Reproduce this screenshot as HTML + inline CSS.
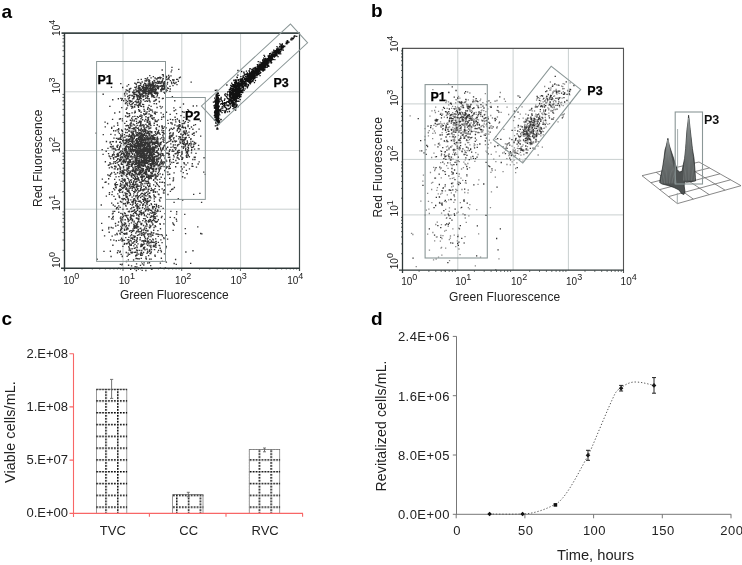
<!DOCTYPE html>
<html><head><meta charset="utf-8"><style>
html,body{margin:0;padding:0;background:#fff;}
svg{display:block;will-change:transform;}
text{font-family:"Liberation Sans",sans-serif;}
</style></head><body>
<svg width="742" height="565" viewBox="0 0 742 565">
<defs>
<pattern id="dg" x="-1.0" y="-1.0" width="11.8" height="11.8" patternUnits="userSpaceOnUse">
<path d="M0 0.7h11.8M0.7 0v11.8" stroke="#000" stroke-width="1.7" stroke-dasharray="1.7 1.25" fill="none"/>
</pattern>
</defs>

<path d="M123.0 33v235M64 209.2h235M181.8 33v235M64 150.5h235M240.6 33v235M64 91.8h235" stroke="#c9cfcf" stroke-width="1" fill="none"/>
<path d="M141 156.2h1.35M145.2 187.1h1.35M137.2 163h1.35M128.5 155.1h1.35M134.6 149.1h1.35M127.1 144.4h1.35M141.8 149h1.35M159.8 144.3h1.35M134.1 162.4h1.35M132.3 146.4h1.35M147.9 145.8h1.35M146 135.2h1.35M142.5 151.3h1.35M128 139.5h1.35M140.6 149.5h1.35M150.7 166.6h1.35M122.2 157.1h1.35M134.6 159.1h1.35M114.4 157h1.35M122.9 152.8h1.35M115.2 150.2h1.35M137.7 147.7h1.35M123.3 162.6h1.35M144.8 136.8h1.35M143.2 170.8h1.35M138.4 152.5h1.35M105.8 141.5h1.35M133.5 145.2h1.35M140.3 142.5h1.35M142.6 154.2h1.35M119.6 142h1.35M134.3 168h1.35M127.3 141.1h1.35M129.7 120.2h1.35M155.9 141.8h1.35M129.7 123.9h1.35M140.5 151.4h1.35M153.4 166.8h1.35M132.8 161.1h1.35M139.4 133.3h1.35M142.5 141.3h1.35M141.9 176.9h1.35M123.8 156.5h1.35M142.1 152.1h1.35M160 166.8h1.35M119.3 186.3h1.35M153 170.2h1.35M142.7 154h1.35M132 157h1.35M169 160.6h1.35M151.7 143.4h1.35M124.2 137.2h1.35M142 152.7h1.35M149.1 138.7h1.35M138.4 151.1h1.35M150.6 153.3h1.35M140.1 184.8h1.35M150.3 140.1h1.35M161.1 150.3h1.35M131.5 149.7h1.35M143.8 158.1h1.35M134.5 166.7h1.35M142.8 145.1h1.35M124.4 140.5h1.35M132.9 129h1.35M138.3 139h1.35M153.6 159.5h1.35M157 152.6h1.35M122.5 137.8h1.35M129.9 146.8h1.35M150.1 152.4h1.35M113.1 159.1h1.35M134.5 143.7h1.35M139.6 148.5h1.35M158.6 126.5h1.35M150.7 135.9h1.35M136.4 174.6h1.35M135.8 121.4h1.35M137.5 147.3h1.35M162.3 155.1h1.35M135 146.8h1.35M136.7 140.7h1.35M145.9 151.1h1.35M139.3 151.9h1.35M138.2 150.9h1.35M125.4 125.7h1.35M140.8 149.9h1.35M134.8 140h1.35M157.3 144.3h1.35M150.1 155.2h1.35M140.7 161h1.35M150.4 164.6h1.35M136.2 145.1h1.35M155.7 164.9h1.35M140.9 168.4h1.35M149.2 167.9h1.35M122.9 171.5h1.35M145.9 150h1.35M117.4 149.6h1.35M112.5 163.6h1.35M136.7 132.9h1.35M128.4 154.9h1.35M143.3 144.6h1.35M172.4 146.8h1.35M129.4 127.6h1.35M132.3 139.5h1.35M143.9 151.7h1.35M147.9 164.4h1.35M138.5 165.9h1.35M138.1 150.9h1.35M150.8 149.3h1.35M148.3 140.4h1.35M126.5 157.6h1.35M139.9 148.5h1.35M141.5 160.5h1.35M126.2 176.5h1.35M144.6 151.5h1.35M129 131h1.35M154.6 139.9h1.35M143.7 131.6h1.35M142.3 135.2h1.35M132.7 170.3h1.35M139.3 155.2h1.35M113 130.7h1.35M125.2 161.2h1.35M146.1 169.6h1.35M111.2 147h1.35M152.9 142.5h1.35M116.6 147.3h1.35M151.6 156h1.35M129.2 161h1.35M151.9 168.6h1.35M142.8 169h1.35M119.5 168.6h1.35M158.5 171.1h1.35M161.2 161.3h1.35M140.1 130.6h1.35M137.2 150.2h1.35M138.8 156.4h1.35M127.3 146.6h1.35M156.4 164.8h1.35M133.4 147h1.35M140.3 139h1.35M129.9 172.2h1.35M132.2 161.3h1.35M123.1 155.1h1.35M158.6 165h1.35M138.8 166.9h1.35M154.5 156.8h1.35M141.2 117.6h1.35M131.3 142.5h1.35M136.4 145.6h1.35M133.2 138.2h1.35M141.1 154.8h1.35M135.7 168.7h1.35M136.8 145.2h1.35M121.7 136.1h1.35M129.7 180.4h1.35M164.2 145.7h1.35M131.6 134.7h1.35M126.2 155.3h1.35M145.7 158h1.35M160.7 142.1h1.35M120.6 163.1h1.35M138.1 145.2h1.35M132.2 139.1h1.35M116.3 154.5h1.35M151.3 162.8h1.35M140.7 143.1h1.35M142 156.6h1.35M130.5 150.7h1.35M147.4 191.5h1.35M133.4 142.1h1.35M139 171.4h1.35M125.5 151.3h1.35M124 150.2h1.35M159.7 162.1h1.35M133.9 164.5h1.35M145.1 169.7h1.35M140.5 156.6h1.35M134.8 143.6h1.35M133.9 144.5h1.35M149.8 159.1h1.35M136.8 160.1h1.35M138.9 171.6h1.35M141.3 157.9h1.35M157.5 166.8h1.35M150.5 173.2h1.35M146.4 154.3h1.35M133.1 131.2h1.35M121.7 135.5h1.35M154.3 131.9h1.35M154.5 174.3h1.35M139 140.1h1.35M148.6 169.2h1.35M151.9 160.2h1.35M152.6 176h1.35M153.9 166h1.35M134.6 150.6h1.35M162.2 149.2h1.35M123.5 153.2h1.35M153.1 154.5h1.35M147.9 144.6h1.35M153.2 151.5h1.35M167.3 174.5h1.35M161.8 128.2h1.35M125 155.6h1.35M117.4 139.3h1.35M152.4 154.6h1.35M126.8 163.8h1.35M140.8 151.2h1.35M152.8 162.8h1.35M118 129.7h1.35M111.5 167.5h1.35M144.6 143.6h1.35M141.6 160.7h1.35M137.6 154.6h1.35M141.5 115.8h1.35M129 141.4h1.35M119.8 155.1h1.35M138.7 173.8h1.35M127.4 156h1.35M118 155.6h1.35M148.1 132.2h1.35M140.1 172h1.35M146.7 177.3h1.35M127.1 152.4h1.35M131.8 148.9h1.35M127 129.3h1.35M128.6 164.4h1.35M143.7 189.8h1.35M130 162h1.35M146 169.7h1.35M145.8 159.6h1.35M169.4 138.2h1.35M121.5 170.7h1.35M153.4 134.7h1.35M139.7 149.1h1.35M140.8 155.9h1.35M120.7 164.4h1.35M134.6 157.8h1.35M151.4 157.4h1.35M139.8 141.3h1.35M142.1 133.9h1.35M136.9 152.9h1.35M157.2 142.1h1.35M140.7 133.7h1.35M110.2 134.3h1.35M131.3 145.1h1.35M113.4 126.1h1.35M95.5 133.1h1.35M133.6 129.1h1.35M159.7 154.6h1.35M141.7 157.7h1.35M124.6 180.1h1.35M127.8 131h1.35M156.8 142.5h1.35M143.2 164.8h1.35M141.7 149h1.35M140.3 147.4h1.35M141.5 175.9h1.35M152.3 147.3h1.35M148.7 135.8h1.35M144 133.6h1.35M126.4 156.7h1.35M148.2 156.3h1.35M131.4 132.8h1.35M156.3 138.2h1.35M123.2 159.5h1.35M139.1 160.1h1.35M140.9 143h1.35M122.5 160.7h1.35M165.1 160h1.35M161.4 127h1.35M134.5 147.6h1.35M151.8 157.8h1.35M146.3 144h1.35M104.4 122.1h1.35M144.5 148h1.35M140.1 162.5h1.35M142.2 174.1h1.35M125.9 121.3h1.35M137.2 188.6h1.35M138.5 136.2h1.35M157.6 165.4h1.35M145.7 169.3h1.35M140.9 165.8h1.35M162.4 154.1h1.35M133.2 135.7h1.35M135.5 160.8h1.35M115.6 142h1.35M163 116.7h1.35M154.5 191.6h1.35M153.8 161.9h1.35M150.4 177.5h1.35M142.5 139.2h1.35M144 172.5h1.35M137.5 174.3h1.35M138.1 173.8h1.35M141.8 151.7h1.35M162.2 135.2h1.35M148.8 149.5h1.35M140.2 121.2h1.35M132.9 128.2h1.35M132.1 153.3h1.35M163.4 138.1h1.35M148.1 149.7h1.35M141.9 150.5h1.35M136.2 179h1.35M125.5 170.2h1.35M140.1 151.4h1.35M153.2 168.9h1.35M135.5 141.1h1.35M137.8 147.3h1.35M137.9 164.7h1.35M142.5 134.6h1.35M118.7 148.1h1.35M137.7 133.5h1.35M129 153.6h1.35M153.4 174.9h1.35M130.2 141.5h1.35M149.1 155.2h1.35M162.3 139.4h1.35M136.6 135.9h1.35M132.6 134.7h1.35M143.7 172.4h1.35M141 185.1h1.35M127.1 158.8h1.35M147.5 142h1.35M169.2 161.9h1.35M137.4 147.3h1.35M138.2 163.2h1.35M126.4 156.1h1.35M145.5 155.9h1.35M123.5 160.5h1.35M125.5 143.9h1.35M158.9 146.3h1.35M128.3 127.9h1.35M156.1 145.8h1.35M162.3 132.1h1.35M144.6 150h1.35M148.7 138.6h1.35M168.3 153.4h1.35M138.2 158.3h1.35M132.7 132.1h1.35M122.1 140.6h1.35M141.6 138.8h1.35M161.7 162.5h1.35M154.4 175.9h1.35M127.8 163.9h1.35M129 147.1h1.35M133.9 172.5h1.35M145.1 130.8h1.35M138.1 173h1.35M144 142.8h1.35M145.2 113.1h1.35M136.8 189.1h1.35M140.4 174.1h1.35M143.9 137.6h1.35M139.8 154.4h1.35M148 149h1.35M167.2 153.4h1.35M149.3 131.2h1.35M141.8 142.5h1.35M117.4 158.6h1.35M146.4 155.1h1.35M113.7 168.8h1.35M121.3 153.1h1.35M153 184.9h1.35M150.9 142h1.35M138.9 155.6h1.35M117.1 125.2h1.35M135.8 134.5h1.35M131.5 170.6h1.35M149.9 138.8h1.35M172.6 159.4h1.35M144 151.1h1.35M130.1 137.4h1.35M124.6 147.1h1.35M140.2 144.8h1.35M138.5 145.2h1.35M124.9 162.6h1.35M142.6 161.1h1.35M124.9 143.9h1.35M156.6 139.3h1.35M155.9 156h1.35M156.2 150.6h1.35M134.4 166.4h1.35M148.2 189.2h1.35M139.2 163.8h1.35M135.6 151.5h1.35M136.3 149.6h1.35M122.8 140h1.35M120.8 139.3h1.35M152.1 138h1.35M138.3 146.5h1.35M144 146h1.35M155 162.4h1.35M116.7 146.4h1.35M130 149.2h1.35M143.5 134.9h1.35M146.5 175h1.35M135.7 159.1h1.35M155.4 177h1.35M143.9 163.2h1.35M124 172.9h1.35M128 148.5h1.35M152.3 162h1.35M147.5 189.9h1.35M114.4 134.9h1.35M159.9 168.5h1.35M149.4 175.8h1.35M159.8 157.9h1.35M135.6 162.7h1.35M136.9 169.9h1.35M125.2 142.6h1.35M176.5 157.8h1.35M138.5 139.6h1.35M163.2 142.3h1.35M131.9 143.2h1.35M143.3 150h1.35M117.6 154.1h1.35M135.6 158.5h1.35M154.8 131.7h1.35M123.5 180.4h1.35M156 168.6h1.35M145.7 162.4h1.35M126.4 146.9h1.35M134 150.7h1.35M134.6 159.9h1.35M140.3 157.9h1.35M133.5 127.9h1.35M129.4 162.6h1.35M136.7 193.8h1.35M126.6 125.5h1.35M122.9 166.3h1.35M140.3 157.3h1.35M153.4 150.4h1.35M119.6 171.7h1.35M141 135h1.35M131.9 154.3h1.35M127.3 173h1.35M152.9 149.2h1.35M133.7 146h1.35M162 153.7h1.35M130.1 145.6h1.35M146.4 174.2h1.35M137.8 139h1.35M130.4 164.6h1.35M149.2 134h1.35M138.8 161.6h1.35M149.4 150.5h1.35M140.3 114.8h1.35M125.8 151.9h1.35M139.6 136.6h1.35M141.7 145.6h1.35M154.4 174.1h1.35M128.3 135.9h1.35M140.4 136.7h1.35M116.9 172.7h1.35M150.1 153.7h1.35M125.9 174.2h1.35M115.7 156.7h1.35M140.2 139.3h1.35M156.5 151h1.35M119.7 169.7h1.35M125.8 165.5h1.35M130.6 152h1.35M125.2 152.7h1.35M146.3 150.4h1.35M129.7 143.7h1.35M130.9 179.8h1.35M149.2 152.1h1.35M130.4 135.7h1.35M147.1 145.1h1.35M127.4 162.5h1.35M124 161.2h1.35M115.3 150h1.35M167.1 142.4h1.35M136.5 152.3h1.35M144.4 127.9h1.35M140.6 133.3h1.35M143.2 163.5h1.35M141.7 145.1h1.35M167.7 157.4h1.35M126.5 169.5h1.35M119.2 161.4h1.35M126.8 152.3h1.35M122.3 182.6h1.35M151.5 161.6h1.35M152.5 146.9h1.35M127.5 162.5h1.35M121.5 157.9h1.35M136 139.7h1.35M160.5 153.1h1.35M101.5 149.6h1.35M148.4 123.7h1.35M125.9 149.5h1.35M155.6 147.9h1.35M125.9 145.7h1.35M137 128.3h1.35M119.9 146.9h1.35M127.3 151.4h1.35M160.4 153.5h1.35M152.5 135.7h1.35M135.4 161.1h1.35M128.8 134.5h1.35M114.5 148.8h1.35M135.5 170.8h1.35M140.6 142h1.35M139.8 144.6h1.35M139.7 167.4h1.35M125.3 146.5h1.35M140.1 147.7h1.35M140.5 155.2h1.35M159.1 167.1h1.35M167.1 120.3h1.35M139.1 140.1h1.35M130.3 137.5h1.35M140.1 136.4h1.35M132.5 139.7h1.35M130.6 139.9h1.35M140.2 156.3h1.35M126.4 139.2h1.35M149.5 153.8h1.35M139.5 157.8h1.35M144.5 141.5h1.35M138.4 153.9h1.35M130.8 175.5h1.35M127.7 156.6h1.35M137.7 142.9h1.35M133.3 151.1h1.35M144.3 138.9h1.35M140.9 155.9h1.35M121.9 164.4h1.35M141.9 140.3h1.35M122.2 149h1.35M132.4 167.9h1.35M136.9 144.9h1.35M111.9 154.7h1.35M142.3 137.4h1.35M143.1 140.3h1.35M138.8 144.7h1.35M135.1 182.5h1.35M135.8 146.3h1.35M127.3 144.6h1.35M137.2 144.1h1.35M133.3 149.7h1.35M142.3 161.2h1.35M124.1 154.7h1.35M144.3 180.8h1.35M143 155h1.35M139 172.3h1.35M134.9 155.9h1.35M148.7 160.5h1.35M117.7 131.8h1.35M147.4 150.2h1.35M144.4 151h1.35M145 148.6h1.35M146.4 121.9h1.35M131.8 164.3h1.35M137.4 146.6h1.35M149.9 145.9h1.35M147 148.4h1.35M143.9 148.8h1.35M119.8 157.7h1.35M148.5 134.2h1.35M157.4 139h1.35M155.1 156.1h1.35M144.3 154h1.35M119.2 146.7h1.35M154.2 144h1.35M138.9 140.3h1.35M105.5 151.2h1.35M146.3 168.5h1.35M120.1 137.2h1.35M122.8 173.3h1.35M132.1 163.8h1.35M158.8 145.7h1.35M135.8 163h1.35M144.8 131.5h1.35M165.5 127.8h1.35M163.3 133.9h1.35M139.6 146.3h1.35M137.6 147.4h1.35M123.3 144.8h1.35M131.3 153.4h1.35M147 122.1h1.35M146.5 158.9h1.35M142.5 132.1h1.35M154.9 142.7h1.35M130.2 146.2h1.35M140.2 135.8h1.35M151.2 132.8h1.35M149.2 137.9h1.35M156 151.8h1.35M146.6 160.3h1.35M136.7 159.9h1.35M146.1 138.1h1.35M127 140.9h1.35M118 139.1h1.35M149.1 158.3h1.35M140.2 123.5h1.35M145.3 169.3h1.35M117.2 145.2h1.35M135.9 141h1.35M132.6 156.8h1.35M128.9 166.5h1.35M109.4 156.8h1.35M136.3 166.7h1.35M153.6 153.9h1.35M146.3 169.2h1.35M132.6 169.4h1.35M140.8 150.6h1.35M151.6 172.1h1.35M102.4 154.3h1.35M139.3 153.2h1.35M148.6 139.1h1.35M150.5 148h1.35M164.8 162.9h1.35M156.9 133.6h1.35M145.4 161.1h1.35M145.2 156.9h1.35M152 155.9h1.35M133.4 121.1h1.35M140.4 150.6h1.35M153.7 161.1h1.35M168.4 141.3h1.35M138.8 153.3h1.35M140.3 118.7h1.35M143.8 161.4h1.35M159.8 142.7h1.35M140.6 164.2h1.35M161.6 126.2h1.35M127.5 161.7h1.35M138.4 148.7h1.35M138.2 163.3h1.35M152 139h1.35M155.6 143.3h1.35M119.9 183.4h1.35M128.2 140.4h1.35M145.7 142.1h1.35M131.8 148.1h1.35M119.7 137.7h1.35M155.5 168.7h1.35M147.9 176.2h1.35M147.9 142.1h1.35M134.3 127.8h1.35M155.4 168.4h1.35M137.6 167.5h1.35M156.4 163.5h1.35M128.2 168.2h1.35M129 139.9h1.35M143.9 149.6h1.35M131.2 132.6h1.35M150.5 132.1h1.35M144.6 165.7h1.35M128.1 142.6h1.35M142 183.9h1.35M136.1 153h1.35M153.8 143h1.35M132.1 163.2h1.35M134.9 177.2h1.35M158 158.8h1.35M172.3 135h1.35M169 157.2h1.35M141.9 171.3h1.35M144.1 145.1h1.35M162.5 141.2h1.35M139.3 166.2h1.35M127.3 154h1.35M142.6 136.6h1.35M147.3 146.7h1.35M129.4 141.4h1.35M118 156.1h1.35M120.9 153.5h1.35M150.3 168.1h1.35M130.4 161.9h1.35M139 130.1h1.35M144 157.7h1.35M149.7 164.6h1.35M136.3 158.4h1.35M148 166.4h1.35M128.5 144.3h1.35M135.9 138.7h1.35M126.7 165h1.35M156.8 137.1h1.35M140.6 121.8h1.35M130.6 166.4h1.35M136.1 141.9h1.35M137.9 147.7h1.35M150.8 132.4h1.35M118.7 133.4h1.35M126.5 135.8h1.35M135.7 147h1.35M176.5 157.2h1.35M154.4 119.8h1.35M139.4 162.5h1.35M151 135.5h1.35M169.8 137.1h1.35M137.7 161.5h1.35M135.9 151h1.35M158 130.5h1.35M147.9 177.8h1.35M150.4 140h1.35M133.9 155.5h1.35M167.9 154.8h1.35M164.9 171.8h1.35M148.9 145.6h1.35M150.6 166.1h1.35M112.6 141.6h1.35M149.9 167.7h1.35M138.3 141.3h1.35M147.1 146.9h1.35M150.6 178.5h1.35M136.2 156.4h1.35M117.3 153.5h1.35M146.2 183.4h1.35M130.6 157.1h1.35M136.4 140.6h1.35M132.5 162.3h1.35M136.2 135.5h1.35M108.7 167.8h1.35M158 168.9h1.35M144.5 144h1.35M156.6 143.2h1.35M168.7 154.5h1.35M141.3 152.2h1.35M115.8 138.3h1.35M128.5 160h1.35M124.1 123.4h1.35M134 145.9h1.35M142.1 146.3h1.35M113 148.2h1.35M145.8 156.3h1.35M119.9 134.8h1.35M145.2 160.2h1.35M139.5 149.5h1.35M136.6 142.9h1.35M140 132.9h1.35M133.4 135.4h1.35M132.4 157h1.35M117.4 138.5h1.35M140.6 152.9h1.35M166.8 166.9h1.35M168.7 166.5h1.35M159.5 173.8h1.35M150.9 147.9h1.35M131.5 136.8h1.35M161.2 166.3h1.35M140.2 156.3h1.35M140 167.7h1.35M136.9 152.2h1.35M142.3 168.7h1.35M134.9 163.8h1.35M139.8 162h1.35M125.8 159h1.35M135.8 157.6h1.35M172.9 155.3h1.35M140 155.2h1.35M137.7 165.9h1.35M148.5 144.8h1.35M150.9 176.3h1.35M125.4 150.5h1.35M138.1 165.8h1.35M153.9 150.7h1.35M144.8 148.5h1.35M142.7 180.5h1.35M162.8 147.7h1.35M131.5 134.1h1.35M142.2 142h1.35M133.7 147.6h1.35M161.9 182.2h1.35M113.7 154.9h1.35M131.6 165.1h1.35M133.6 138h1.35M150.3 156.9h1.35M149.5 161.4h1.35M160.5 177.2h1.35M119 142.3h1.35M151.5 160.4h1.35M136.9 156.2h1.35M131.7 137.7h1.35M148.6 151.7h1.35M128.1 148.3h1.35M111.9 119.4h1.35M135.8 160.4h1.35M120 159.6h1.35M131.9 145.9h1.35M146.2 133.3h1.35M145.4 172.7h1.35M163.2 155.7h1.35M138.2 166.2h1.35M119.5 171.7h1.35M130.4 144.7h1.35M128.1 163.4h1.35M124 148.6h1.35M147.1 151.1h1.35M132 150.8h1.35M113.3 152h1.35M150.8 167.6h1.35M139.4 153.7h1.35M146 149.8h1.35M142.5 148.1h1.35M149.8 156.8h1.35M141.5 139.5h1.35M158.3 145h1.35M146.9 151.3h1.35M146.5 144.1h1.35M146.7 150.3h1.35M120.6 143.4h1.35M138.7 180.1h1.35M137.4 170.6h1.35M143.9 158.3h1.35M122 151.2h1.35M163.9 182.7h1.35M142.5 156.5h1.35M124 150.8h1.35M117.1 156.2h1.35M137.1 156.3h1.35M139.7 171.7h1.35M130.9 151.7h1.35M142.3 181.4h1.35M132 139.7h1.35M148.7 161.7h1.35M130.9 138h1.35M140.5 177.4h1.35M154.7 147.4h1.35M177 151.2h1.35M126.9 164.9h1.35M134.5 169.6h1.35M129.2 136.4h1.35M152 147.2h1.35M124.9 132.5h1.35M134.2 153.9h1.35M140.6 150.6h1.35M127.3 147.1h1.35M127.6 142.4h1.35M134.3 146.6h1.35M111.6 141.6h1.35M120.8 159.4h1.35M135.2 173.2h1.35M143.1 125h1.35M138.4 150.4h1.35M116.2 146.1h1.35M134.5 158.9h1.35M152.2 138.7h1.35M148.8 149.9h1.35M139.9 137.4h1.35M128.6 161.8h1.35M149.8 153.4h1.35M132.9 149.7h1.35M124.6 157.2h1.35M129.8 148.5h1.35M161.3 130.2h1.35M144.1 160.3h1.35M157.2 156h1.35M134.3 149.8h1.35M154.1 165.8h1.35M132.6 169.1h1.35M138.8 136.7h1.35M175.8 141.1h1.35M151.7 173.7h1.35M134 171.9h1.35M139.8 141.7h1.35M145.6 135.5h1.35M157.9 143.1h1.35M134.2 145h1.35M116.6 129.8h1.35M137.1 152.4h1.35M141.2 134.1h1.35M142.5 135.1h1.35M159.4 164.8h1.35M145.4 142.4h1.35M152.4 151h1.35M125.6 160.8h1.35M153.2 163.4h1.35M170.3 147.3h1.35M151.8 152.6h1.35M144.5 140.4h1.35M143.2 176.5h1.35M166 161.1h1.35M128 136.6h1.35M139.4 152.1h1.35M147.4 162h1.35M151.4 158.7h1.35M134.9 177.6h1.35M145.3 171.2h1.35M137.1 144.4h1.35M142.7 150.8h1.35M139.2 134.1h1.35M125 155.5h1.35M140.7 154.1h1.35M153.3 189.8h1.35M127.5 153.4h1.35M137.6 122.7h1.35M150.3 142.6h1.35M126 153.6h1.35M143.6 134.4h1.35M126.2 139.9h1.35M156.9 146.9h1.35M173.4 156.8h1.35M169.3 149.7h1.35M137.9 139.6h1.35M151.4 163h1.35M142.7 144.4h1.35M142.4 145h1.35M162.7 132.7h1.35M122.5 141h1.35M155.8 161.1h1.35M140.3 129.4h1.35M160.7 151h1.35M143.6 162h1.35M131.6 146.7h1.35M144.9 155.4h1.35M151.3 136.4h1.35M141.5 170.3h1.35M147.8 167.4h1.35M133.7 155.3h1.35M111.1 127.4h1.35M153.6 137.4h1.35M150.8 165.7h1.35M143.1 176h1.35M142 156.2h1.35M155.5 169.5h1.35M134.6 143.5h1.35M131.1 149.3h1.35M138.4 152h1.35M157.6 157.9h1.35M121.6 130.6h1.35M157.7 165.2h1.35M132.1 170.5h1.35M125.6 135.9h1.35M158.6 133h1.35M139.6 156.9h1.35M122.8 142.8h1.35M136 118.8h1.35M154 163.3h1.35M157.7 154.2h1.35M135 145.3h1.35M146.7 181.6h1.35M151 153.9h1.35M132 141.5h1.35M146 153.4h1.35M140.6 137.4h1.35M133.5 141.3h1.35M134.1 157.4h1.35M141.9 144.2h1.35M141.4 145.7h1.35M133.1 175.4h1.35M135 164h1.35M156.6 163.2h1.35M144 159.4h1.35M153.4 158.8h1.35M157.8 172.4h1.35M149.2 151.7h1.35M172.8 178h1.35M129.4 138.7h1.35M152.3 148.4h1.35M136.5 132.7h1.35M167 147.2h1.35M164.8 159.3h1.35M113.6 172.3h1.35M127.4 142.7h1.35M150.3 152.1h1.35M152.1 147h1.35M151.3 141.7h1.35M140 135.3h1.35M147.4 152.8h1.35M150.1 127.8h1.35M139.9 153.5h1.35M155.4 152.3h1.35M109.4 142.8h1.35M149.9 137.8h1.35M126.5 132.6h1.35M154.4 178.2h1.35M137.8 133.2h1.35M128.6 173.8h1.35M146.2 160.4h1.35M128.2 146.9h1.35M128.2 135.8h1.35M119.1 166.6h1.35M140.6 176.2h1.35M148 138.9h1.35M155.3 147.8h1.35M139 166.7h1.35M155.7 156.7h1.35M141.3 180h1.35M139.7 144h1.35M149 159.6h1.35M155.8 134.5h1.35M136.2 181.3h1.35M137.6 141.8h1.35M138.7 121.1h1.35M142.2 150.2h1.35M128.4 150h1.35M155.4 178.8h1.35M135.4 147.3h1.35M147.5 151.8h1.35M129.4 160.3h1.35M146 174.2h1.35M146.5 151.1h1.35M135.1 166.6h1.35M169.3 159.3h1.35M146.2 147.9h1.35M165.9 153.1h1.35M154.4 152.4h1.35M131.7 139.2h1.35M135.6 169h1.35M147.1 132.6h1.35M141.9 168.4h1.35M141.7 165.4h1.35M137 150.7h1.35M115.7 141.3h1.35M137.8 148.8h1.35M109.9 158.6h1.35M146.2 162.4h1.35M130.8 156h1.35M131 165.9h1.35M137.9 144.2h1.35M144.8 155.3h1.35M121 130h1.35M116.5 162.7h1.35M126.1 154.1h1.35M112.4 146.2h1.35M127.5 168.3h1.35M163.3 161.7h1.35M126.2 112.6h1.35M150.1 152.6h1.35M121.8 131.6h1.35M145.2 166.9h1.35M136.5 186.8h1.35M140.2 144.7h1.35M149 153h1.35M165.6 148.5h1.35M143.7 156.9h1.35M142.7 161h1.35M127.4 170h1.35M149.2 138.2h1.35M137.6 174h1.35M152.6 139h1.35M140.4 155.9h1.35M165.4 168.2h1.35M113.2 162h1.35M136.8 138.9h1.35M153.3 142.2h1.35M136.1 145.5h1.35M129.9 151.3h1.35M137.3 168.1h1.35M121.7 133.9h1.35M142.7 158.5h1.35M175.2 160.5h1.35M157 159.8h1.35M125.5 158.5h1.35M128.8 173.3h1.35M135.3 158.8h1.35M155.1 164h1.35M129.5 159.9h1.35M131.3 177.1h1.35M153.4 125.4h1.35M153.1 169.9h1.35M135.8 148.3h1.35M125.4 148.1h1.35M119.3 138.4h1.35M131.2 125.8h1.35M109.8 146.7h1.35M151.5 142.4h1.35M132.2 158.9h1.35M147.7 131.4h1.35M167.2 172h1.35M157.4 155.8h1.35M124.9 148.5h1.35M153.2 142.1h1.35M157.2 141h1.35M130.6 136.2h1.35M127.7 144.4h1.35M139.5 152.1h1.35M118.6 149.5h1.35M161.6 132.2h1.35M107.3 148.3h1.35M125.5 139.5h1.35M137.2 154.2h1.35M137.8 178.1h1.35M143.3 160.8h1.35M144.8 147.6h1.35M138 129.3h1.35M156.9 132.2h1.35M111 128.4h1.35M141 162.2h1.35M131 141.3h1.35M142.9 152.9h1.35M144.1 143.3h1.35M128.2 153.3h1.35M132 171.6h1.35M152.1 142.4h1.35M145.9 147.2h1.35M131.5 140.7h1.35M169.6 164.2h1.35M173.3 137.6h1.35M120.5 136.1h1.35M136.3 154.7h1.35M136.1 154h1.35M149.3 143.7h1.35M164 170.5h1.35M139 159.9h1.35M152.7 158.1h1.35M147.8 156.5h1.35M138.3 164.6h1.35M144.1 158.1h1.35M144.4 160.9h1.35M141.2 138h1.35M159.5 158.1h1.35M132.7 178.2h1.35M148.7 145.8h1.35M148.3 150.5h1.35M141.9 162.7h1.35M147 163.5h1.35M152.1 159.5h1.35M147.1 132.6h1.35M148.9 158h1.35M150.9 137.8h1.35M131.8 142.1h1.35M156.3 158.6h1.35M161.9 148.5h1.35M152.9 161.7h1.35M153.1 189.8h1.35M136.1 161.3h1.35M145.2 160.7h1.35M140.3 141.3h1.35M141.9 144.3h1.35M152.8 139.2h1.35M140.4 145.6h1.35M145.1 138.9h1.35M132.6 144.1h1.35M144.9 149.5h1.35M146.6 140h1.35M141.1 135h1.35M141 135.7h1.35M159.2 157.4h1.35M137.5 152.7h1.35M138.6 164.3h1.35M140.3 164.5h1.35M154.4 147.9h1.35M160.7 160h1.35M148.3 134.7h1.35M141 179.4h1.35M143 166.3h1.35M153.5 149.4h1.35M139.6 138h1.35M156.2 156.6h1.35M155.9 129.6h1.35M146.5 142.6h1.35M150.5 161h1.35M151.2 152.9h1.35M156.9 146.1h1.35M138.6 163.4h1.35M154.3 139.5h1.35M143.4 155.4h1.35M140.6 146h1.35M146.7 141.8h1.35M144.5 157.6h1.35M139.1 140.1h1.35M134.8 174.8h1.35M139.4 145h1.35M156.2 175.9h1.35M159.7 138.9h1.35M150.6 159.3h1.35M154.3 137.6h1.35M142.4 135.9h1.35M145.5 153.9h1.35M148 160.1h1.35M138.4 136.7h1.35M139.1 166.2h1.35M146.7 142.4h1.35M143.8 153.6h1.35M138.6 156.6h1.35M148.7 159.1h1.35M144.2 130.4h1.35M153.1 171.4h1.35M146 158.7h1.35M143.9 146.9h1.35M146.9 139.7h1.35M144.8 131.7h1.35M141.3 135.7h1.35M143.2 158.5h1.35M151.2 147.9h1.35M150.5 138.4h1.35M155 145.7h1.35M134.1 170.8h1.35M143.2 148h1.35M143.1 145h1.35M147.2 168.2h1.35M142.8 157.5h1.35M142.4 152.5h1.35M151.5 144.7h1.35M147.2 133.4h1.35M137.8 138h1.35M155.3 146.2h1.35M153 149.4h1.35M142 156.3h1.35M151.8 158.6h1.35M140.9 154.7h1.35M153.9 154.6h1.35M144.5 139.9h1.35M140.4 126.1h1.35M143.4 145.7h1.35M140.6 140.6h1.35M147.3 144.2h1.35M147.2 148.7h1.35M146.3 137.1h1.35M142.1 138.7h1.35M120.4 150.8h1.35M146.6 153.4h1.35M132.7 144.1h1.35M147.7 158h1.35M153.9 149.4h1.35M147.9 139.8h1.35M143.3 152.5h1.35M144.7 174.6h1.35M145.1 143.9h1.35M142.2 166h1.35M141.9 168.5h1.35M139.5 170h1.35M154.3 142.1h1.35M145.9 176.2h1.35M152.7 153.4h1.35M144.2 149h1.35M146.5 149.2h1.35M144.8 159.2h1.35M149.2 152.6h1.35M151.8 149.9h1.35M147.7 167.4h1.35M141.3 143.3h1.35M140.5 139.5h1.35M157.6 161.5h1.35M144 160.4h1.35M144 165.1h1.35M156.3 139.1h1.35M153.6 165h1.35M149.7 157.8h1.35M143.2 173.2h1.35M162.5 137h1.35M148.8 154.6h1.35M149.8 148.7h1.35M144.8 132.9h1.35M136.1 143.4h1.35M136.7 165.5h1.35M148.8 146.4h1.35M148.7 143.3h1.35M144.3 162.4h1.35M137.8 163.9h1.35M135.9 163.8h1.35M143.7 142.5h1.35M135.8 151.3h1.35M152.3 164.4h1.35M154.1 144.1h1.35M165.8 143h1.35M152.1 161.9h1.35M141.9 170.7h1.35M139.9 138.2h1.35M121.8 120.8h1.35M141.8 134.6h1.35M144.8 139.9h1.35M152.8 150.3h1.35M150.3 159.4h1.35M150.1 150.2h1.35M147.5 143.6h1.35M150.6 153.8h1.35M156.1 140.5h1.35M138.5 151.4h1.35M142.8 144.3h1.35M136.3 184.2h1.35M157.3 161.8h1.35M155.1 142h1.35M151.3 140h1.35M137.6 146.7h1.35M147.2 132.3h1.35M144.4 143.2h1.35M146.6 143.1h1.35M144.7 162.6h1.35M149.6 146.9h1.35M143.2 142.5h1.35M152 135.9h1.35M147.7 137.9h1.35M143.9 151.2h1.35M145.2 149.4h1.35M142.9 165.6h1.35M151.7 144.5h1.35M144.1 164.7h1.35M148.1 155.1h1.35M143.3 151.9h1.35M135.6 127.9h1.35M152.3 136.5h1.35M138.6 160.9h1.35M150.8 168.8h1.35M148.9 154.5h1.35M134.4 161.2h1.35M139.4 147.1h1.35M142.4 147.5h1.35M140.3 144h1.35M137.7 163.7h1.35M151.2 156.1h1.35M144.3 149.2h1.35M148.7 148.1h1.35M143 158.7h1.35M148.1 155.9h1.35M140.7 142h1.35M145.8 172.6h1.35M150.1 155.1h1.35M146.3 152.1h1.35M142.8 169.7h1.35M138.4 164.3h1.35M147.2 150.9h1.35M148.4 158.4h1.35M144.2 139.2h1.35M140.6 144.3h1.35M149.8 124.9h1.35M163.4 166.6h1.35M143.9 129.2h1.35M148.4 160.2h1.35M148.6 142h1.35M128 140.3h1.35M146.9 149.7h1.35M141.1 155.2h1.35M155.7 159.3h1.35M144.2 173.3h1.35M140.6 156.3h1.35M144.5 162.6h1.35M147.2 144.8h1.35M142.1 160.6h1.35M145.6 153.8h1.35M136.5 146.4h1.35M144.4 150.8h1.35M151.4 151.3h1.35M159.8 154.3h1.35M150.9 156.8h1.35M147.9 145.9h1.35M154.3 143.1h1.35M153.1 161h1.35M157.6 131.6h1.35M153.6 144.6h1.35M145.2 170.6h1.35M147.8 119.5h1.35M147.3 143.7h1.35M148.1 160.3h1.35M147.4 132.2h1.35M140.5 183.2h1.35M131.3 120.9h1.35M141.3 169.2h1.35M131.8 170.7h1.35M146.5 163h1.35M146 149.3h1.35M134.3 156.3h1.35M150.8 141.2h1.35M152.1 161.7h1.35M146.7 138.6h1.35M157.7 148.7h1.35M159.1 164h1.35M137.6 138.6h1.35M153.3 147.6h1.35M149.1 154h1.35M148.9 135.9h1.35M152.5 166h1.35M141 156.1h1.35M141.9 133.8h1.35M140.2 151.4h1.35M140.7 142.7h1.35M145.3 144.1h1.35M135.8 152.9h1.35M138.7 143.5h1.35M150 163.6h1.35M145.5 143.5h1.35M148.7 163.8h1.35M132.8 151.5h1.35M140.5 162.3h1.35M142.1 145.5h1.35M146.2 145.9h1.35M141.9 138.2h1.35M152.5 158.9h1.35M145.6 163.3h1.35M146.1 177.4h1.35M146.1 167.5h1.35M151 155h1.35M142.7 149.5h1.35M153.9 156.7h1.35M149.2 151.7h1.35M147.1 169.6h1.35M146.3 163.3h1.35M149.6 142h1.35M153.1 143.7h1.35M152.6 168.4h1.35M148.6 155.7h1.35M152.1 149.2h1.35M146.8 166.2h1.35M154.8 147.3h1.35M145.8 148.6h1.35M131.5 146.5h1.35M155.4 128.5h1.35M146.8 162.4h1.35M137.8 137.5h1.35M144.6 145.2h1.35M139.8 143.1h1.35M160.7 160.7h1.35M149.5 151.2h1.35M135 152.2h1.35M149.8 131.8h1.35M143.2 151h1.35M159.4 134.3h1.35M138.6 155.7h1.35M130.3 156.4h1.35M146.5 151.8h1.35M143.6 176.5h1.35M143.1 158.3h1.35M131 159.1h1.35M149 153.7h1.35M157.7 149.7h1.35M132.6 163.6h1.35M154.2 165.2h1.35M142 136.4h1.35M162.4 164.7h1.35M149.1 158.2h1.35M144.7 163.5h1.35M153.7 157.6h1.35M149.7 137.1h1.35M141.9 137.9h1.35M151 173.9h1.35M142.4 155h1.35M133.5 135h1.35M160.2 156.2h1.35M143.6 147.7h1.35M141.7 129.9h1.35M148.4 124.5h1.35M135.1 132.8h1.35M136.5 155.3h1.35M142.5 151.4h1.35M142.4 149h1.35M146.5 155.4h1.35M153.9 159.2h1.35M142.7 126.8h1.35M149.4 148.4h1.35M150.2 142.1h1.35M138.4 137.2h1.35M147.6 145.4h1.35M139.4 150.5h1.35M153.4 148.8h1.35M149.2 134.5h1.35M146.1 146.2h1.35M136.6 176.2h1.35M146.8 139.3h1.35M140.6 131.8h1.35M150.9 155.3h1.35M145.2 159.2h1.35M140.3 157.6h1.35M152.5 138.6h1.35M151.1 164h1.35M141.8 142.6h1.35M154.1 138.4h1.35M143.9 144.7h1.35M143.8 150.7h1.35M146.9 160.6h1.35M140.7 159.5h1.35M142.9 151.7h1.35M144.9 163.2h1.35M156.7 153h1.35M156.5 162.8h1.35M144.2 135.2h1.35M157.3 133.1h1.35M145.7 161.3h1.35M148.7 135.3h1.35M152.2 148.4h1.35M148 150.8h1.35M162.9 146.1h1.35M147.7 146.6h1.35M137.6 168.7h1.35M155.1 121.6h1.35M143.1 162.6h1.35M143.9 179.5h1.35M125.1 152.3h1.35M153 151.8h1.35M151.7 160.7h1.35M151.6 173.9h1.35M152.8 137.7h1.35M157.8 153.1h1.35M145.7 149.8h1.35M152.6 158.7h1.35M140.8 153.9h1.35M143.5 159.9h1.35M153.4 146.9h1.35M148.7 152.6h1.35M136.7 144h1.35M148.5 144h1.35M144.7 150.3h1.35M140.3 150.3h1.35M149 137.9h1.35M143.2 170.8h1.35M135 150.4h1.35M138.2 135.4h1.35M158.4 165.2h1.35M135.4 143h1.35M147.6 158.1h1.35M150.3 151.8h1.35M150.5 155h1.35M137.4 154.1h1.35M143.7 145.1h1.35M147 152.5h1.35M151.6 176.4h1.35M141.5 125.1h1.35M137.9 152.8h1.35M153 157.2h1.35M153.7 139.4h1.35M148.6 135.6h1.35M141.7 177.9h1.35M148.8 147.5h1.35M146.8 176.9h1.35M151.9 158.4h1.35M137.3 152.9h1.35M146.8 157.7h1.35M144.9 159.6h1.35M138.2 166.2h1.35M147.5 157.2h1.35M146.2 153.7h1.35M143.1 154.1h1.35M148.8 168.2h1.35M136.1 161.8h1.35M145.6 140h1.35M149 144.4h1.35M148 156h1.35M153.5 144.5h1.35M137.6 147.5h1.35M135.4 140.5h1.35M147.7 148.9h1.35M149.2 157.1h1.35M160.8 163.9h1.35M150.3 152.1h1.35M139.9 176.9h1.35M151.6 151.1h1.35M140.1 190.3h1.35M135.6 164h1.35M164.3 158h1.35M148.3 146h1.35M151 118.1h1.35M149.9 150.1h1.35M158.7 154.1h1.35M148 175.1h1.35M154.5 135.4h1.35M138.8 174.9h1.35M136.3 149h1.35M156 160.7h1.35M156.3 121.5h1.35M149.6 153.7h1.35M117.9 222h1.35M127.1 182.9h1.35M121.8 213.9h1.35M110.7 166.9h1.35M129.5 145.5h1.35M127.3 153.9h1.35M126.4 168h1.35M130.1 156.3h1.35M130.9 218.6h1.35M120.8 222.5h1.35M108.8 192.6h1.35M108.5 156h1.35M133.1 181.7h1.35M127.4 165.8h1.35M121.9 225.7h1.35M117.1 193.8h1.35M121.3 198.7h1.35M121.2 173.8h1.35M118 128.7h1.35M114.7 163.4h1.35M140.5 153.7h1.35M123.1 195.4h1.35M115.5 187.7h1.35M109.3 162.6h1.35M114.5 174.1h1.35M127.5 228.9h1.35M127.8 158.1h1.35M119 159.3h1.35M121.5 178.6h1.35M118.3 165.4h1.35M111 173h1.35M132.7 199.9h1.35M124.4 233.5h1.35M143.3 135.2h1.35M114.2 184.5h1.35M119.8 186.2h1.35M128.9 182.6h1.35M118.8 179.8h1.35M108.5 175.5h1.35M112.5 213.1h1.35M121.9 172h1.35M124.1 181.4h1.35M120.1 185h1.35M130 188h1.35M129.9 180.2h1.35M123.9 213h1.35M121.2 184.8h1.35M118.7 189.9h1.35M126 183.6h1.35M129.3 156.9h1.35M121.5 161.8h1.35M125 155.6h1.35M118.1 190.4h1.35M108.3 165h1.35M112 155.3h1.35M127.9 191.7h1.35M125 199.7h1.35M135.3 135.7h1.35M121.5 232.3h1.35M128.8 185.9h1.35M132.9 182.1h1.35M130 214.9h1.35M115.5 187h1.35M119.3 168.1h1.35M122.2 246.4h1.35M112.1 154.9h1.35M125.3 182.3h1.35M130.2 208.7h1.35M116.7 155h1.35M138.8 182.1h1.35M118.4 195.8h1.35M119.2 252.2h1.35M118.9 160h1.35M114.6 183.7h1.35M124.8 203.4h1.35M121.2 187.3h1.35M136 151.3h1.35M126.5 196.4h1.35M125.8 188h1.35M119 197.5h1.35M108.3 216.7h1.35M120.2 213.4h1.35M113.3 196.4h1.35M129.6 193.7h1.35M120.7 154.2h1.35M136 181.2h1.35M127.6 191.2h1.35M128.5 173.8h1.35M123.1 187.7h1.35M122.9 161.9h1.35M126.9 228h1.35M129.3 245.3h1.35M114.6 174.1h1.35M125.4 196.2h1.35M144.6 178.4h1.35M120.2 220.4h1.35M118.7 197.2h1.35M114.8 187.2h1.35M108 178.7h1.35M131.7 188.5h1.35M121.5 157h1.35M123.7 203.9h1.35M137.6 165h1.35M143.6 200h1.35M113 188.6h1.35M130.5 215.7h1.35M126.6 184.5h1.35M124.6 213.6h1.35M125.3 159.2h1.35M120.8 202.1h1.35M135.3 178.7h1.35M126.5 190.4h1.35M124.1 187h1.35M132.2 211.2h1.35M129.1 128.5h1.35M125.2 194h1.35M124 143.2h1.35M136.8 218.8h1.35M125.6 129.8h1.35M120.2 156.9h1.35M113.3 138.1h1.35M117.9 230.9h1.35M111.6 148.9h1.35M122 188.2h1.35M123.3 170h1.35M102.6 134.6h1.35M121.2 175.6h1.35M126.9 203.6h1.35M122.5 179.8h1.35M112.4 211.4h1.35M132.4 174.9h1.35M114.8 185.2h1.35M110 174.2h1.35M111.3 194.6h1.35M120.9 238.2h1.35M129.9 195.1h1.35M131.5 190.4h1.35M122.9 167.7h1.35M110.3 163.8h1.35M115.1 226h1.35M112.9 153.9h1.35M119.4 159.4h1.35M105 182.3h1.35M122 173.1h1.35M126.8 239.8h1.35M119.7 118.7h1.35M125.2 195.1h1.35M112.6 205h1.35M107.9 153.6h1.35M115.3 167h1.35M131.4 197.1h1.35M130.3 230.6h1.35M116.9 159.2h1.35M131.8 140.8h1.35M118.1 212.2h1.35M134.6 227.7h1.35M125.4 175.6h1.35M116.9 123h1.35M128.2 225.7h1.35M114 179.4h1.35M112.6 216.5h1.35M107.9 183.8h1.35M123.3 174.5h1.35M120.5 172.3h1.35M120.3 226.3h1.35M117.3 225.2h1.35M133.9 125.1h1.35M117.2 158.8h1.35M114.5 234.8h1.35M132.2 174.7h1.35M133.8 146.9h1.35M124 185.1h1.35M105.3 182h1.35M115.6 182.3h1.35M126.5 171.6h1.35M121.2 176.3h1.35M135 172.2h1.35M108.7 194.3h1.35M127.1 162.2h1.35M115.4 176.9h1.35M138 206.5h1.35M158.3 194.5h1.35M145.2 207.1h1.35M138.5 161.9h1.35M147.5 209h1.35M145.7 202.8h1.35M155.2 169.7h1.35M147.1 263h1.35M165.1 166.3h1.35M158.8 169.5h1.35M139.4 205h1.35M134.2 136.5h1.35M152.4 171.9h1.35M147.2 149.2h1.35M138.7 166.5h1.35M119.3 192.3h1.35M114.3 206.2h1.35M144.9 230.5h1.35M150.8 221.3h1.35M151.2 233h1.35M122 214.6h1.35M154.5 181.8h1.35M132.5 230.8h1.35M145.4 181.2h1.35M145.8 177.3h1.35M128.8 243.7h1.35M131.7 220.7h1.35M111 203.1h1.35M127.2 219.6h1.35M114.8 223.5h1.35M146.1 154.1h1.35M140.9 193.4h1.35M152.8 159.8h1.35M145 200.1h1.35M131.1 175.5h1.35M144.8 238.4h1.35M134.5 212.3h1.35M148.5 171.2h1.35M144.4 195.7h1.35M126.2 158.8h1.35M140 197.5h1.35M140.8 213.2h1.35M135.7 204.4h1.35M152.5 136.5h1.35M164 185.9h1.35M134.9 212h1.35M135.1 205.7h1.35M108.5 232.2h1.35M138.2 156.4h1.35M133.9 212.5h1.35M109.7 176.1h1.35M144 202.3h1.35M148.3 208.8h1.35M129.7 217.5h1.35M134.8 178.4h1.35M126.5 202h1.35M150.7 160h1.35M118.8 152.5h1.35M135.6 213.4h1.35M167.3 194.5h1.35M140.7 146.1h1.35M146.6 169.9h1.35M137.9 196.8h1.35M123.6 244.4h1.35M139.5 228.6h1.35M145.7 220.9h1.35M125.7 140.9h1.35M144.8 193.2h1.35M157.4 211h1.35M155 208.4h1.35M117.8 209.1h1.35M126.3 189h1.35M117.4 250.7h1.35M155 241.9h1.35M148.5 193.3h1.35M149.8 165.8h1.35M127.7 259.8h1.35M123.7 179.1h1.35M141.1 233.3h1.35M141.4 255.4h1.35M128 167h1.35M142 205.2h1.35M149 185.4h1.35M143.2 212.1h1.35M125.4 206.1h1.35M110.4 256.5h1.35M136.4 214.5h1.35M142.3 195.9h1.35M136.4 231.1h1.35M134 187.8h1.35M130.3 184.9h1.35M150 265.6h1.35M139.3 170.7h1.35M141.7 181h1.35M126.4 197.5h1.35M131.3 163.4h1.35M142.3 130.8h1.35M125.9 228.9h1.35M122.4 171.9h1.35M135.4 179.4h1.35M156.8 184.6h1.35M142.7 165.8h1.35M160.4 162.9h1.35M138.2 201.2h1.35M135.7 270.5h1.35M120.5 219h1.35M131.9 219.3h1.35M160.1 149.5h1.35M144.6 195.4h1.35M150.3 159.5h1.35M149.9 220.1h1.35M139.9 189.1h1.35M137.1 197.4h1.35M141.7 193.4h1.35M149.4 178.1h1.35M146.4 149h1.35M146.9 214.1h1.35M142.2 153.3h1.35M129.2 159.6h1.35M136.3 186.9h1.35M126.8 174.3h1.35M154.1 204.3h1.35M110.6 227.5h1.35M136.9 203.9h1.35M173.4 202.3h1.35M135.2 196.9h1.35M124.1 222.8h1.35M139.7 139h1.35M158.1 207.6h1.35M137.8 167.3h1.35M148.6 158h1.35M141.4 196.3h1.35M134.8 184.2h1.35M184.1 214.3h1.35M141 230.3h1.35M132.5 124.1h1.35M133.1 193.9h1.35M145.3 256.9h1.35M145.7 223.1h1.35M150.8 241h1.35M142 199.3h1.35M120 151.7h1.35M147.4 161.3h1.35M135.7 218.2h1.35M136 225.9h1.35M119.2 173.5h1.35M132 187.9h1.35M129.8 204.3h1.35M139.5 141.9h1.35M119.7 185.3h1.35M140.7 246.3h1.35M141.7 263.9h1.35M124.3 192.8h1.35M131.3 253h1.35M128 179.9h1.35M152.7 171.1h1.35M104.6 126.8h1.35M135.2 225.8h1.35M116.8 184.6h1.35M134 268.7h1.35M151.9 206.5h1.35M131.2 202h1.35M141.9 140.2h1.35M128.2 242.7h1.35M167.2 184.9h1.35M152.8 191.2h1.35M155.8 127.8h1.35M121.4 224.9h1.35M124.6 226.9h1.35M155.1 177.4h1.35M137.3 199.1h1.35M136.4 208.4h1.35M144.7 226.1h1.35M122.4 199.5h1.35M150.8 249.6h1.35M140.3 188.7h1.35M146.7 177.4h1.35M130.6 181.8h1.35M147.2 117.6h1.35M130.1 171.2h1.35M153.4 227.5h1.35M155.8 204.5h1.35M152.8 170.9h1.35M147.2 207.1h1.35M148.9 133.7h1.35M102.1 187.5h1.35M151.7 212.6h1.35M136.2 217.9h1.35M141.3 172.3h1.35M136 224.6h1.35M120.5 254.3h1.35M132.5 183.1h1.35M149.2 219.3h1.35M159.8 148h1.35M131.3 135.5h1.35M127.3 215.3h1.35M160.3 197.7h1.35M127.6 202.5h1.35M169 178.3h1.35M140.7 187.2h1.35M127.6 221.5h1.35M153.8 249.6h1.35M163.7 189.7h1.35M119.9 145.2h1.35M161.8 235.9h1.35M136.1 215.1h1.35M160.8 217.5h1.35M134.7 202h1.35M117.9 268.4h1.35M147 198.7h1.35M153 212.4h1.35M169.3 138.9h1.35M164.1 178.5h1.35M149.7 175.1h1.35M136.7 195.5h1.35M132.7 207.2h1.35M135.9 173.2h1.35M128.4 250.1h1.35M136.2 163.4h1.35M104.4 182.4h1.35M142.5 203.8h1.35M139.6 157.6h1.35M175.9 214.1h1.35M150.6 216h1.35M133.3 187.3h1.35M147.9 255.6h1.35M122.8 198.9h1.35M131.6 205.1h1.35M113.9 166.6h1.35M160.1 144.5h1.35M148.3 176.8h1.35M123.5 186.4h1.35M139.2 182.3h1.35M153.3 220.3h1.35M146.9 122.4h1.35M145.4 161.2h1.35M128 139.8h1.35M131.1 238h1.35M141.3 178.9h1.35M152.9 180.4h1.35M128.4 162.2h1.35M124.3 224.3h1.35M156 183.6h1.35M127 203.3h1.35M155.1 133.3h1.35M143.4 232.8h1.35M152.3 208.7h1.35M164.4 213.6h1.35M149.6 234.8h1.35M150.9 190.4h1.35M127.2 191.3h1.35M130.3 218.7h1.35M149 209.7h1.35M161.5 188.9h1.35M159.5 197.8h1.35M172.4 180.8h1.35M144.4 218.7h1.35M142.8 225.5h1.35M154.1 196.6h1.35M140.3 254.8h1.35M139.1 148.7h1.35M125.3 189.2h1.35M153.9 249.6h1.35M125 183.4h1.35M147.2 146.8h1.35M120.1 239.8h1.35M155.3 213.4h1.35M125.6 159.4h1.35M151.8 220.6h1.35M117.7 164.7h1.35M133.8 154.9h1.35M156.5 191.8h1.35M128.7 181.6h1.35M140.9 162.4h1.35M133.3 185.2h1.35M107.7 165.3h1.35M144.3 198.4h1.35M146.1 195.8h1.35M124.5 219.7h1.35M148 182.4h1.35M128.9 155.1h1.35M126 155.5h1.35M140.1 188.9h1.35M130.5 244.3h1.35M172.1 222.9h1.35M118.2 176.6h1.35M150.3 225.8h1.35M153.8 160.5h1.35M112.3 228h1.35M115.7 184.6h1.35M147.9 220.4h1.35M133.3 215.9h1.35M145.4 187.9h1.35M156 206.7h1.35M134.8 163.4h1.35M125.1 194.2h1.35M101.8 230.2h1.35M127 218.4h1.35M144.4 199.3h1.35M143.2 165.1h1.35M120.6 229.5h1.35M164.1 145.1h1.35M155.2 171.6h1.35M151.9 207.7h1.35M123.4 159.1h1.35M134.3 244.4h1.35M132.3 230.5h1.35M134.2 178.9h1.35M124.3 179.3h1.35M146.1 155.6h1.35M143.2 153h1.35M145.1 210.3h1.35M132.9 216h1.35M158.1 207.5h1.35M142.6 204.8h1.35M101.7 179.1h1.35M131 207.8h1.35M139.2 150.8h1.35M153.5 196.8h1.35M135.8 242.4h1.35M136.5 237.7h1.35M130.7 182.2h1.35M149.3 186.2h1.35M133.7 239.4h1.35M131.6 252.2h1.35M129.6 150h1.35M147.8 183.3h1.35M132.5 203.9h1.35M116.5 234.5h1.35M148.7 170.5h1.35M130.2 216.6h1.35M145 187.2h1.35M145.2 270.5h1.35M156.9 210h1.35M154.6 192.4h1.35M131.9 186.2h1.35M137.7 229.4h1.35M121.9 217.7h1.35M163.5 162.9h1.35M146.2 203.4h1.35M159.5 154.9h1.35M135.5 173.1h1.35M111.3 156.3h1.35M161.4 155.3h1.35M141.3 175.2h1.35M141.9 166.1h1.35M140.8 213h1.35M149 221.4h1.35M147.5 189.2h1.35M117.7 161.8h1.35M155.2 221.6h1.35M132.6 133.6h1.35M133.5 136.5h1.35M164.2 219.3h1.35M152.9 217h1.35M135.3 226.9h1.35M114 189.9h1.35M142.3 157.3h1.35M147.5 180.8h1.35M138.9 214.3h1.35M122.6 172.7h1.35M128.9 174.8h1.35M122.4 153.2h1.35M143 160.4h1.35M151.5 222.9h1.35M154.4 210.8h1.35M129.7 160.5h1.35M143.3 163h1.35M147.8 179.1h1.35M132.8 213.7h1.35M137.9 160.2h1.35M169.7 191.4h1.35M142.9 129.8h1.35M152.4 157.5h1.35M133.9 209.7h1.35M140.6 224.6h1.35M116 160.6h1.35M139.6 172.5h1.35M156.7 221.5h1.35M169.4 184.5h1.35M156.8 179.8h1.35M149.6 212.8h1.35M140.7 202.7h1.35M131.6 231.2h1.35M137.8 221.3h1.35M148.6 178.7h1.35M129 192.9h1.35M153.1 194.8h1.35M126.2 154.4h1.35M115.1 166.3h1.35M125.8 226.9h1.35M116.7 147.2h1.35M120.8 227.6h1.35M155.8 205.5h1.35M137.2 192.3h1.35M143.1 213.4h1.35M156.2 211.5h1.35M157.6 234.3h1.35M132.9 184.2h1.35M158.6 189.6h1.35M145.4 189h1.35M140 255.3h1.35M146.2 226.1h1.35M120 167.9h1.35M129 186.3h1.35M138.5 174.7h1.35M148.5 197.1h1.35M134.8 203.4h1.35M138.2 268.1h1.35M153.6 139.9h1.35M159.8 228.7h1.35M150.7 210.3h1.35M157.8 174.9h1.35M134.3 192.1h1.35M135.7 181.3h1.35M144.5 198.3h1.35M135.8 228.1h1.35M132.9 149.6h1.35M163.1 237.6h1.35M137.2 185.2h1.35M126.5 243.5h1.35M146.8 209.6h1.35M165.7 235.2h1.35M141.1 214.4h1.35M157.2 230.6h1.35M133.9 198.6h1.35M133.1 171h1.35M130.3 217.8h1.35M138 219h1.35M165.7 262.1h1.35M123.8 134.6h1.35M162.9 190.8h1.35M125.9 229.9h1.35M136.7 158h1.35M151.7 189.9h1.35M148.8 262.7h1.35M143.9 241h1.35M116.9 169.6h1.35M145.1 241.3h1.35M125.7 233.8h1.35M176 221.1h1.35M137 208.8h1.35M142.6 204.4h1.35M123.9 170h1.35M133.3 181h1.35M121.9 219.8h1.35M153.7 201.4h1.35M136.3 254.5h1.35M147.9 186.7h1.35M130.4 122.5h1.35M133 186.7h1.35M158 205.7h1.35M126.4 209h1.35M114.8 199.2h1.35M145.7 171.6h1.35M124 243.5h1.35M133.8 176.5h1.35M152.8 219.2h1.35M128.5 188.2h1.35M152.3 160h1.35M130.5 241h1.35M160.9 119.3h1.35M158.6 170.7h1.35M133.4 210.6h1.35M137 186.1h1.35M128.4 220.5h1.35M142.8 194.1h1.35M156.1 183.2h1.35M119.7 264.3h1.35M152.8 190.4h1.35M121.5 192.4h1.35M128 163.7h1.35M115 174.1h1.35M169.5 217.4h1.35M140.8 214.8h1.35M143.4 197.4h1.35M130.5 175.6h1.35M154.9 218.6h1.35M110.6 144.5h1.35M140.4 186.8h1.35M170.9 189.5h1.35M134.7 171.1h1.35M140.2 202.1h1.35M149.4 176.7h1.35M128.6 172.5h1.35M140.3 253.3h1.35M153.5 220.5h1.35M142.7 234.7h1.35M145.2 199.1h1.35M135.1 227.5h1.35M144.4 221.8h1.35M140.8 235.2h1.35M150.1 190.6h1.35M136.6 205.7h1.35M105.7 196.1h1.35M150 88.7h1.35M150.6 154.4h1.35M127.2 198.3h1.35M112 217.4h1.35M124 179.9h1.35M153 233h1.35M125.1 237.6h1.35M133.6 185h1.35M143.1 242h1.35M157.1 252.1h1.35M139.7 212.2h1.35M138.6 167.4h1.35M132.3 243.4h1.35M162.8 192.8h1.35M154.9 186.2h1.35M138.7 201.5h1.35M120.4 181.3h1.35M128.9 231.2h1.35M148.1 222h1.35M129.9 235.8h1.35M152.5 216h1.35M145.1 173.4h1.35M144.1 193.1h1.35M149.1 225.1h1.35M147 185.4h1.35M135.4 190.5h1.35M172.8 179.8h1.35M123.1 233.6h1.35M133.4 221.2h1.35M154.9 197.1h1.35M137.8 190.9h1.35M128.6 211.2h1.35M121.5 223.9h1.35M147.5 221.6h1.35M154.3 188.6h1.35M159.6 211.4h1.35M140.8 224.2h1.35M154.6 221.7h1.35M125.5 102.3h1.35M142.4 170.4h1.35M130.5 173.9h1.35M142.4 190.9h1.35M150.5 203.6h1.35M155 226.6h1.35M126.1 217.1h1.35M157.7 194.1h1.35M133.4 198.7h1.35M125.6 252.5h1.35M137.6 179h1.35M119.5 207.4h1.35M140.1 246.5h1.35M144.1 208.7h1.35M137.2 134.7h1.35M147.5 209.6h1.35M135.6 186h1.35M140.1 194.5h1.35M119.8 230.6h1.35M140.6 212.6h1.35M128.1 189.8h1.35M133.7 225.7h1.35M138.7 211.5h1.35M142.7 201.3h1.35M116.9 207.3h1.35M118.1 205.8h1.35M135.8 187.5h1.35M146.6 183.8h1.35M145 198.8h1.35M152.5 168.4h1.35M158.2 159h1.35M147 238.3h1.35M139.7 190.6h1.35M125.6 197.3h1.35M126.8 193.8h1.35M133.5 198.7h1.35M143.7 198.7h1.35M143.1 200h1.35M140.1 173h1.35M137.9 226.9h1.35M148.8 176.5h1.35M142.9 230.1h1.35M144.2 138.5h1.35M144.3 165.1h1.35M132.4 228.8h1.35M125.6 193.4h1.35M146.9 177.2h1.35M145.8 209.6h1.35M136.9 165.6h1.35M134.2 200.4h1.35M171.9 129.3h1.35M129.4 184h1.35M137 177.9h1.35M143.7 214.7h1.35M123.8 225.1h1.35M141.6 171.5h1.35M165.2 247.9h1.35M153.1 179.6h1.35M148.9 134.3h1.35M148.3 124.2h1.35M141.6 245.7h1.35M153.4 195.3h1.35M137.8 177.9h1.35M134.1 174.8h1.35M141.4 164.1h1.35M152.7 239.9h1.35M144.6 195.4h1.35M149.4 253.5h1.35M111.7 191.8h1.35M156.7 125.1h1.35M172.8 224.2h1.35M158.7 186.6h1.35M135.6 190.7h1.35M128.1 246.6h1.35M143.9 189.8h1.35M126.2 234h1.35M150.2 197.8h1.35M132.6 174.7h1.35M153.4 213.7h1.35M159.1 179.4h1.35M111.5 236.1h1.35M144.1 227.8h1.35M130.2 199.9h1.35M120.3 216.9h1.35M131.4 215.5h1.35M136.9 189.5h1.35M154.5 225.7h1.35M118.7 191h1.35M154.7 217.1h1.35M168.3 168.5h1.35M148.4 201.2h1.35M147.6 210.9h1.35M139.8 173.6h1.35M123.5 185.2h1.35M147.5 181.5h1.35M145.4 220.7h1.35M150.2 175.8h1.35M176 211.7h1.35M150.2 245.4h1.35M146 209.2h1.35M161.9 148.2h1.35M121.2 202.1h1.35M124 230.4h1.35M134.7 189.3h1.35M130.8 232.6h1.35M149.7 217.4h1.35M135.6 211.3h1.35M164.4 190.1h1.35M161.3 182.4h1.35M150.8 190.3h1.35M134.6 200.2h1.35M148.6 214.5h1.35M151.4 211.3h1.35M125.1 189h1.35M144.9 200.3h1.35M149.9 210.3h1.35M143 148h1.35M162 174.5h1.35M157 173.6h1.35M128.4 192h1.35M141.7 189.8h1.35M128.3 190.4h1.35M148.1 171.3h1.35M127.9 219.3h1.35M152.9 207h1.35M145.4 147.5h1.35M153.6 198.9h1.35M138 163.5h1.35M119.6 251.2h1.35M164.7 184.3h1.35M137.6 186.3h1.35M159.3 201.1h1.35M146 192.3h1.35M149.4 196.7h1.35M165.6 246.5h1.35M144.8 205.5h1.35M159.6 224.4h1.35M119.2 233.5h1.35M152.2 168.3h1.35M136.6 250.9h1.35M138.1 219.9h1.35M140.1 228.2h1.35M144.9 171.8h1.35M163.2 223.9h1.35M114 211.4h1.35M140.6 181.9h1.35M130 269.3h1.35M156.3 216.1h1.35M134.1 191.1h1.35M146.4 204.6h1.35M134.4 226.8h1.35M149.4 233.6h1.35M154.2 216.6h1.35M134.4 236.3h1.35M140.7 244.2h1.35M120.1 160.3h1.35M144.3 183.5h1.35M152 169.5h1.35M132.2 201.6h1.35M155.7 243.3h1.35M111 218.9h1.35M114.1 166.2h1.35M120.6 189.5h1.35M133.2 230.5h1.35M140.3 182.1h1.35M138.9 195.6h1.35M139.1 208.1h1.35M150.1 142.2h1.35M133.4 222.8h1.35M122.3 209.2h1.35M122.6 216.2h1.35M169.6 168.3h1.35M107.1 174.8h1.35M137.5 180.1h1.35M160.4 206.4h1.35M146.8 200.8h1.35M128.4 202.6h1.35M140 254.2h1.35M152.1 239.1h1.35M156.9 176.3h1.35M127.4 178.4h1.35M150.6 251.8h1.35M143.5 188.8h1.35M155.5 241.4h1.35M159.5 248.2h1.35M135.2 181.8h1.35M119.7 190.3h1.35M145.5 201.2h1.35M164.9 171.8h1.35M149.6 168.3h1.35M143.2 186.2h1.35M173.6 225.1h1.35M125.4 184.7h1.35M152.6 192.2h1.35M132 184.2h1.35M140.7 156.3h1.35M141.3 244.6h1.35M161.2 126h1.35M126.9 178.3h1.35M132.5 215.9h1.35M117.7 155.3h1.35M146.8 217.4h1.35M133.6 237.4h1.35M145.9 172h1.35M125 205.1h1.35M135 164.2h1.35M154.5 214.3h1.35M137.6 201.3h1.35M148.8 205.3h1.35M147.4 241h1.35M135.1 213.2h1.35M118.2 240.3h1.35M153.8 218.3h1.35M142.4 161.4h1.35M153.8 206.7h1.35M111.8 213.8h1.35M116.8 153.8h1.35M110 239.9h1.35M127.7 200.7h1.35M154.6 210h1.35M147.9 170.8h1.35M139.5 200.8h1.35M141.8 207.9h1.35M150.7 188.5h1.35M135.8 201.1h1.35M145.5 132.9h1.35M142 240.8h1.35M109.4 164.1h1.35M134.6 130.9h1.35M159 168.8h1.35M134.5 172.7h1.35M138 215.4h1.35M131.5 170.3h1.35M133.2 207.4h1.35M155.7 168.8h1.35M136.2 267h1.35M125.7 215.5h1.35M96.4 259.2h1.35M132 167.1h1.35M112.5 219.1h1.35M114.5 168.9h1.35M151.1 216.5h1.35M149.9 219.6h1.35M113.2 149.1h1.35M151.9 163.3h1.35M146.4 162.4h1.35M129 151.9h1.35M150.3 175.8h1.35M117.2 168.7h1.35M123.1 153.7h1.35M119.8 201.5h1.35M124.4 215.4h1.35M152.3 157.7h1.35M121.3 181.2h1.35M123.9 198.7h1.35M126.7 191.2h1.35M142.7 176.7h1.35M135.2 223.5h1.35M152.1 224.7h1.35M130 219.5h1.35M121.9 191.9h1.35M132.9 260h1.35M140.5 252.3h1.35M126.9 185.9h1.35M143.8 194.6h1.35M165.4 235.2h1.35M131.8 173.6h1.35M140.5 210.7h1.35M158.8 199.8h1.35M130.8 176.5h1.35M128 191.1h1.35M124.5 149.6h1.35M145.4 181.5h1.35M147 136.5h1.35M137.7 269h1.35M140.4 245h1.35M157.6 236.4h1.35M151.9 207.6h1.35M120.1 229.2h1.35M139.6 237.7h1.35M141.2 229.8h1.35M149.8 226.7h1.35M136.5 170h1.35M130.6 211.5h1.35M133.2 181.6h1.35M114.7 161.6h1.35M139.3 162.8h1.35M131.3 211.4h1.35M146.1 230.8h1.35M125.2 155.8h1.35M133.5 252.3h1.35M125.9 243.7h1.35M124.6 186.3h1.35M149.3 183.8h1.35M133 195.9h1.35M145.7 228.5h1.35M123.8 186.2h1.35M140.9 163.8h1.35M115.8 208.7h1.35M132.8 134.1h1.35M132.4 202.4h1.35M147.6 234h1.35M142 207.5h1.35M137 222.2h1.35M151.2 213.3h1.35M142.1 220.6h1.35M146.9 202.5h1.35M150.1 172.3h1.35M138.5 191h1.35M135.3 195.7h1.35M144 237h1.35M133.6 248.4h1.35M144.8 211h1.35M154.9 174.7h1.35M151.3 175.4h1.35M134 192.2h1.35M121.4 241.1h1.35M138.6 208.4h1.35M137.6 196.3h1.35M154.8 174.3h1.35M134 225.4h1.35M136.4 207h1.35M149.6 196.4h1.35M132.7 201.2h1.35M137.1 250.3h1.35M163.3 193h1.35M160.2 250.3h1.35M148.1 236.5h1.35M143.1 199.6h1.35M125.8 225.4h1.35M147.1 194.2h1.35M140.2 172.3h1.35M142.4 189.7h1.35M132.1 169.9h1.35M139.2 213.9h1.35M136.8 198.5h1.35M143.7 215.6h1.35M159.3 223.6h1.35M144.4 101.3h1.35M116.2 207.7h1.35M125.8 142.1h1.35M117.2 203.2h1.35M128.3 170.8h1.35M147.1 201.2h1.35M144.9 240.3h1.35M131 145.1h1.35M143.1 203.9h1.35M128.8 195.6h1.35M119.5 139.3h1.35M119.7 218.1h1.35M127.3 199.1h1.35M159.2 182.2h1.35M120.6 175.6h1.35M157.9 185.8h1.35M136.8 142.2h1.35M138.6 169.1h1.35M130.7 186.6h1.35M139 186.1h1.35M148.5 195.6h1.35M139.4 165.5h1.35M153.2 214.8h1.35M155.9 183h1.35M144.1 155.8h1.35M132 239h1.35M150.3 236.6h1.35M146.3 224.5h1.35M137.3 243.9h1.35M141.2 234.9h1.35M143.4 235h1.35M163.4 238.6h1.35M134.2 252.4h1.35M146.1 243.8h1.35M149 220.8h1.35M130.5 237.9h1.35M143.1 247.6h1.35M142.8 232.5h1.35M135.8 258.4h1.35M147.2 252.4h1.35M152.3 224.1h1.35M153.4 245.1h1.35M143.1 265h1.35M166.9 239.1h1.35M128.9 254.4h1.35M143.4 229.2h1.35M150.8 216.8h1.35M142.7 248.9h1.35M148.2 243.9h1.35M142.9 248.2h1.35M149.3 239.6h1.35M155.1 245.2h1.35M138.6 231.8h1.35M143.2 247.6h1.35M140.4 253.3h1.35M136.6 239.1h1.35M140.8 253h1.35M128.6 211.7h1.35M149.2 227.4h1.35M159.7 263.1h1.35M159.7 268.2h1.35M155 244h1.35M130.4 238.3h1.35M157.7 219.7h1.35M133.1 245.8h1.35M140.4 252.5h1.35M161.3 216.3h1.35M129.2 248.9h1.35M150.3 247.9h1.35M144.1 247.1h1.35M139.3 222h1.35M131.4 248.7h1.35M145.6 216h1.35M135.9 263.8h1.35M152.5 242.2h1.35M154.5 221.4h1.35M125.8 261.5h1.35M135.4 258.5h1.35M137.5 229.6h1.35M128.7 223.9h1.35M142 245h1.35M138.7 258.9h1.35M122.8 203.7h1.35M135.1 256h1.35M146.7 239h1.35M127.7 239.7h1.35M130.8 222.8h1.35M158.5 245.3h1.35M155.5 222.2h1.35M123.2 224.5h1.35M126.1 232.8h1.35M145.1 220.4h1.35M127.9 265.2h1.35M138.2 218.7h1.35M136 227.9h1.35M147.2 234.9h1.35M113.2 240.1h1.35M116.8 252.7h1.35M127.5 253.1h1.35M152.2 235.2h1.35M139.3 233.9h1.35M122.2 240.6h1.35M146.4 253.2h1.35M148.8 251.2h1.35M138.3 231.7h1.35M137.4 207.1h1.35M154.3 255.2h1.35M142.7 244.2h1.35M146.9 245.4h1.35M140.5 231.7h1.35M136.8 224h1.35M130.9 234.7h1.35M143.8 236.4h1.35M137.7 230h1.35M138.3 216.7h1.35M151.2 235h1.35M146.4 249.2h1.35M150.6 232.1h1.35M123.7 240.4h1.35M147.1 206.9h1.35M134.5 236.7h1.35M132.1 238h1.35M131.6 220.4h1.35M154.3 212.3h1.35M150.1 246.6h1.35M133.1 227h1.35M128.5 247.8h1.35M141.2 233.3h1.35M135.9 250h1.35M159.3 234.6h1.35M124.9 215.9h1.35M120.9 238.6h1.35M138.2 234.7h1.35M141.1 250.5h1.35M142.5 232.8h1.35M149.3 233.7h1.35M163.8 253.8h1.35M137.2 258.7h1.35M135 252.2h1.35M121.6 256.6h1.35M143.7 247.3h1.35M150.4 252.3h1.35M138.1 254.1h1.35M154 246.5h1.35M141.3 241h1.35M157.7 242.3h1.35M129.4 240.2h1.35M134 236.2h1.35M124.1 234.2h1.35M121.9 239.5h1.35M143.9 243.9h1.35M150.6 221.9h1.35M162.5 208.3h1.35M140.4 244.7h1.35M138.4 214.3h1.35M128.8 244.1h1.35M151.9 242.2h1.35M145.3 258.4h1.35M134.5 266.7h1.35M148.6 245.9h1.35M147.2 231.1h1.35M120.4 221.2h1.35M149.2 227.3h1.35M142.5 240.6h1.35M136.7 206.9h1.35M136.4 241.2h1.35M160.2 239.8h1.35M157.9 250.3h1.35M161.1 234.6h1.35M128.4 241.6h1.35M133.8 228.2h1.35M151 232.6h1.35M127.7 211.6h1.35M133.1 242h1.35M121.2 264.8h1.35M161.4 242.6h1.35M152.7 245.9h1.35M146 224.3h1.35M143.4 262.9h1.35M136.4 227.7h1.35M136.6 252.8h1.35M147.8 241.7h1.35M133.2 224.7h1.35M154.5 256.4h1.35M135.6 240.2h1.35M131.4 242.9h1.35M155.3 247.2h1.35M139.4 239.7h1.35M147.1 233.9h1.35M136.4 247.5h1.35M116.2 233.5h1.35M147 241h1.35M126.2 229.3h1.35M152.9 216.2h1.35M123.9 229.2h1.35M120.5 232.1h1.35M144.4 240.2h1.35M145.7 259h1.35M142.2 213h1.35M127.7 242.1h1.35M150.8 204.6h1.35M124.9 223.3h1.35M135.9 231.9h1.35M132.3 204h1.35M136.8 210.3h1.35M150.4 242.5h1.35M134 241.2h1.35M147.2 238.2h1.35M148.6 227.1h1.35M128.2 237.4h1.35M136.8 226.2h1.35M134.5 266.9h1.35M144.4 249.8h1.35M119.8 234.1h1.35M148.9 259.1h1.35M149.2 242.5h1.35M139.1 250.3h1.35M125.8 243.8h1.35M141.1 223.5h1.35M135.1 255.5h1.35M147.2 242.6h1.35M140.1 223.8h1.35M149 227.8h1.35M136.2 255.3h1.35M156.9 234.1h1.35M115.6 240.7h1.35M129.8 250.5h1.35M146.4 242.1h1.35M124.4 215.6h1.35M149.1 250.2h1.35M127.6 255h1.35M142 253.9h1.35M130.9 265.9h1.35M136.1 245.8h1.35M142.9 252.4h1.35M139.8 265.4h1.35M136.8 235.3h1.35M164.7 267.8h1.35M141.1 267.8h1.35M130.3 252.5h1.35M151.2 269.4h1.35M150 253.6h1.35M154.5 225.9h1.35M160.7 258.2h1.35M130.7 245.2h1.35M152.7 246.6h1.35M153.5 242.5h1.35M141 261.8h1.35M143.7 248.8h1.35M108 228.9h1.35M134.7 247.8h1.35M160.7 251.7h1.35M121.3 228.4h1.35M135.1 233.1h1.35M144.2 233.9h1.35M147.3 230.3h1.35M158.9 245.6h1.35M121.6 256.3h1.35M141.5 270.3h1.35M150.5 259.1h1.35M126.5 256.4h1.35M140.6 258.3h1.35M161.7 261.4h1.35M155.5 234h1.35M146.9 251.1h1.35M112.2 245.2h1.35M139.6 237.9h1.35M145.3 232.7h1.35M137.6 231.9h1.35M143.2 87.4h1.35M135.2 101.2h1.35M152.6 83.2h1.35M147.9 90.4h1.35M145.6 80.5h1.35M150.6 84.8h1.35M157.7 88.8h1.35M139.8 90.4h1.35M145.7 88h1.35M130.1 101.6h1.35M121 100.2h1.35M127.1 105.5h1.35M161.5 70h1.35M127 101.5h1.35M154.6 90h1.35M162.5 74.7h1.35M139.7 85.4h1.35M169.3 86.3h1.35M168 75.3h1.35M158 81.9h1.35M177.7 81.2h1.35M154.7 85h1.35M140.1 95.7h1.35M152.4 82.8h1.35M143.2 93.4h1.35M134.4 101.6h1.35M133.2 97.6h1.35M171.3 67.3h1.35M142.8 95.6h1.35M147.8 90.1h1.35M138.1 88.3h1.35M152.5 96.1h1.35M141.5 82h1.35M146.9 101.2h1.35M132.1 92.4h1.35M134.2 104.6h1.35M139 93.1h1.35M148.8 81.5h1.35M173.3 80h1.35M161.4 86.2h1.35M171.1 83.5h1.35M156.1 92.7h1.35M145.2 85.5h1.35M133.1 98.6h1.35M149.6 93.4h1.35M121.7 98.7h1.35M142.6 86.3h1.35M165.8 76.9h1.35M153.6 91.8h1.35M163.3 88.2h1.35M141.8 87.3h1.35M128.8 89.5h1.35M144.9 98.2h1.35M140.2 83.7h1.35M163 84.6h1.35M170.3 75.9h1.35M135.6 84.3h1.35M144.1 92h1.35M146 89.4h1.35M146.9 98.6h1.35M137.8 107.2h1.35M148.9 88.2h1.35M154.6 93h1.35M155 93h1.35M132.6 92.8h1.35M145 85.7h1.35M130.5 106.2h1.35M158.5 83.3h1.35M135.9 94.4h1.35M144.3 89.4h1.35M142.5 91.1h1.35M139.9 89.4h1.35M137 98.5h1.35M129.5 104.6h1.35M168.3 79.2h1.35M148.5 81.3h1.35M151.5 88.5h1.35M170.5 71.8h1.35M145.7 86.8h1.35M157.4 93.1h1.35M153.3 101.2h1.35M163.3 85.7h1.35M152.1 81.7h1.35M153.6 92h1.35M140.6 79.4h1.35M150.2 84.7h1.35M165.4 91.6h1.35M124.8 103.5h1.35M143.9 83.2h1.35M139.8 83.2h1.35M146.4 95.4h1.35M124.4 98.9h1.35M155.9 83h1.35M138.9 95.8h1.35M144.4 87.7h1.35M138.3 82.3h1.35M129.8 101.8h1.35M141.6 88.4h1.35M124 93.4h1.35M134.2 87.4h1.35M145 92.4h1.35M146.6 85.5h1.35M150.2 92.5h1.35M146.1 88.9h1.35M176.3 84.6h1.35M152.7 85.5h1.35M132.2 92.2h1.35M136.9 82.5h1.35M138.1 87.2h1.35M147.6 94.1h1.35M147.3 108h1.35M135.4 87.4h1.35M166 76.3h1.35M149.5 91.1h1.35M145.2 93.6h1.35M143.9 87.3h1.35M145.8 91h1.35M161.8 74.6h1.35M153.4 85.7h1.35M163.7 88.7h1.35M114.1 113h1.35M151.9 87.1h1.35M160.5 83.1h1.35M173 82.2h1.35M150.9 95h1.35M128.6 100.4h1.35M153.9 82.9h1.35M141.8 94.3h1.35M128.7 103.2h1.35M139.4 88.9h1.35M158.3 77.6h1.35M163.8 86.3h1.35M157.8 87.9h1.35M137.7 99.6h1.35M178.8 77.7h1.35M132.9 92h1.35M146.5 87.7h1.35M128.8 91.4h1.35M162.3 78.3h1.35M152.6 84.5h1.35M158.1 82.8h1.35M151.7 94.8h1.35M145 83.7h1.35M150.4 88.5h1.35M124.4 95.8h1.35M163.4 92.3h1.35M159.9 86.4h1.35M142.9 89.6h1.35M149.9 93.7h1.35M152.1 88.4h1.35M166.3 79.5h1.35M156.7 95.2h1.35M150.4 92.9h1.35M145.8 100.8h1.35M132.7 102.7h1.35M142.8 96.4h1.35M149.5 89.9h1.35M143.2 85.3h1.35M150.8 92.8h1.35M157.6 86.3h1.35M155.1 90.9h1.35M151.7 88.2h1.35M154.9 82.9h1.35M148.6 83.5h1.35M149.5 93.2h1.35M156.8 93.8h1.35M127 96.5h1.35M164.5 85.8h1.35M135.8 102.8h1.35M156.8 81.2h1.35M147.9 87.8h1.35M159.5 78.5h1.35M151.3 95.4h1.35M137.6 95.5h1.35M160.5 82h1.35M147.3 80.3h1.35M149.6 88.1h1.35M151.5 94.2h1.35M160 83.2h1.35M157.5 83.4h1.35M152.6 91.7h1.35M127.3 90.9h1.35M143.8 91.8h1.35M151 92.1h1.35M168.6 76.9h1.35M151.5 83.5h1.35M147.9 91.2h1.35M162.8 83.2h1.35M146.7 88.9h1.35M148.6 90.7h1.35M150.9 89.9h1.35M128.6 92.1h1.35M158.7 81.5h1.35M154.6 89.7h1.35M147.5 96.6h1.35M137.6 102h1.35M149.4 84.2h1.35M167.7 88.3h1.35M142.4 96.5h1.35M135.7 94.6h1.35M154.7 90h1.35M131 101.5h1.35M125.5 109.4h1.35M141.1 86.4h1.35M141.5 96h1.35M145 90.2h1.35M141.5 91.2h1.35M155 93.7h1.35M147.6 94.8h1.35M139.3 87.3h1.35M142.5 90.3h1.35M156.7 87.6h1.35M157.3 77.7h1.35M161.3 89.5h1.35M156.9 85.8h1.35M109.2 106.4h1.35M137.2 96.1h1.35M148.5 100.2h1.35M151.2 88.7h1.35M128.4 95.6h1.35M169.3 91.4h1.35M151.3 85.5h1.35M140.1 89.9h1.35M147.8 81.8h1.35M146.7 96.7h1.35M140.1 94.6h1.35M155.7 89.5h1.35M143.5 92.6h1.35M131.4 95.7h1.35M139.4 88.7h1.35M145.7 86.2h1.35M136.5 97h1.35M164.1 84h1.35M138.9 103.1h1.35M168.3 77.2h1.35M158.5 82.7h1.35M135.3 89h1.35M153.1 95.9h1.35M160.4 77.6h1.35M148 94.4h1.35M137.3 102.6h1.35M149.8 88.3h1.35M174.2 83.5h1.35M126.4 86.1h1.35M154.6 84.9h1.35M145.5 81.1h1.35M147.7 91h1.35M144.1 91.5h1.35M143.3 87.2h1.35M163.2 89.2h1.35M156.7 88.4h1.35M135.7 91.8h1.35M166.5 79.4h1.35M130.1 88.4h1.35M156.4 85.4h1.35M155.3 99.3h1.35M161.8 80.1h1.35M153.9 89.9h1.35M160.4 81.6h1.35M150.1 93.7h1.35M161.4 87h1.35M152.5 86.7h1.35M171.1 70.1h1.35M139.4 90.3h1.35M165.6 89.8h1.35M153.9 86h1.35M152.2 91.8h1.35M141 89.9h1.35M150.4 77.9h1.35M131.9 98.8h1.35M133 97.8h1.35M156.2 83.1h1.35M129.3 95.2h1.35M166.7 84h1.35M144.3 87.9h1.35M152.6 90h1.35M149.3 88.1h1.35M149.1 75.6h1.35M145.2 90.1h1.35M143.2 88.3h1.35M145.6 85.9h1.35M162.3 86.4h1.35M161.5 81.5h1.35M165.3 86h1.35M155.5 93.2h1.35M146.7 91.2h1.35M125.5 89.9h1.35M155.1 82.7h1.35M160.9 90h1.35M143.5 90.2h1.35M157 81.5h1.35M164.2 82.8h1.35M151 91.6h1.35M162.1 85.7h1.35M153.9 91.3h1.35M126.3 93.8h1.35M142.6 90.4h1.35M143.4 90.2h1.35M155.2 86.8h1.35M134.2 83.2h1.35M143.1 90.5h1.35M134.5 87.4h1.35M151.2 96.7h1.35M152.9 97h1.35M164.1 93.2h1.35M160.1 89.7h1.35M149.9 86.3h1.35M153.7 93.2h1.35M149.8 88h1.35M151.5 92.1h1.35M165.7 77.4h1.35M117.7 98.7h1.35M147.7 92.7h1.35M156.3 96.9h1.35M162.5 83.9h1.35M140.3 106.2h1.35M158.7 101.7h1.35M156.7 78.9h1.35M143.5 91.6h1.35M123.9 94h1.35M144.3 90.6h1.35M133.3 92.7h1.35M156.6 86h1.35M140.6 98.5h1.35M172.3 85.6h1.35M151.1 90.2h1.35M139.2 93.5h1.35M143.1 92.6h1.35M136 95.5h1.35M154.8 90.5h1.35M166.9 82.3h1.35M147.3 93.1h1.35M157.4 78.4h1.35M139.2 98.1h1.35M156.2 96.9h1.35M177 79.3h1.35M129.1 89.3h1.35M166.5 90.4h1.35M162.4 82.2h1.35M120.1 83.6h1.35M131.2 95.4h1.35M138.4 97.4h1.35M161.4 86.8h1.35M146.3 97.9h1.35M148.1 93.5h1.35M157.7 86.7h1.35M146.3 79h1.35M149.3 82.8h1.35M145.4 92h1.35M163.8 87.5h1.35M137.4 88.2h1.35M167.8 78.3h1.35M145.8 93.6h1.35M135.4 83.8h1.35M152.7 76.6h1.35M153.9 86.2h1.35M125.5 100.5h1.35M150.6 86.1h1.35M127.9 84.6h1.35M138.9 93.7h1.35M155.6 79h1.35M139.8 97.1h1.35M152.9 87.3h1.35M144.8 92.8h1.35M173.5 83.4h1.35M146.6 87.4h1.35M136.4 99.5h1.35M138.1 101.2h1.35M138.7 96h1.35M153.1 95.7h1.35M147.5 86.4h1.35M162.4 89.5h1.35M151.4 90.1h1.35M148.3 84h1.35M152.5 87.6h1.35M146.2 87.6h1.35M151.2 85.4h1.35M158.4 86.2h1.35M160.4 91.2h1.35M141.6 90.7h1.35M127.7 98.9h1.35M136 86.1h1.35M152.4 88.8h1.35M121.1 107.6h1.35M144.7 96h1.35M155.1 89.8h1.35M140.9 89.7h1.35M133.3 90.2h1.35M169.7 80.6h1.35M162.7 76.1h1.35M143.1 84.7h1.35M166.6 88h1.35M162.5 78.7h1.35M138.8 104.2h1.35M178.1 69.4h1.35M138.3 96.4h1.35M143.1 85h1.35M135.8 95.9h1.35M147.5 84h1.35M132.9 96.3h1.35M148.3 88.9h1.35M160.8 82.1h1.35M152.3 91.2h1.35M148.5 98.6h1.35M166.1 79.2h1.35M139.6 98.5h1.35M160.5 85.4h1.35M144.9 91h1.35M155.7 99.7h1.35M144.6 78.6h1.35M148.8 85.6h1.35M144.3 80.8h1.35M138.5 91.9h1.35M141.3 91.3h1.35M161.7 106.8h1.35M148 92h1.35M138.2 104.4h1.35M142.7 99.7h1.35M139.3 90.9h1.35M148.9 92.4h1.35M154.1 97.3h1.35M150 90.2h1.35M141.1 94h1.35M149.7 92.2h1.35M128.9 88.8h1.35M112.1 99.7h1.35M148.5 91.7h1.35M129.6 100.6h1.35M135.2 89.7h1.35M133.2 94h1.35M155.8 86.1h1.35M133.5 94.9h1.35M153.1 91.9h1.35M142.7 92.7h1.35M133.8 96.6h1.35M126.5 90.3h1.35M151.8 82.2h1.35M153.6 89.5h1.35M154.4 78h1.35M170.9 82.2h1.35M150.2 85.1h1.35M150 84.3h1.35M148.1 93.7h1.35M148.1 85.9h1.35M142.3 87.2h1.35M136.1 90.8h1.35M172.4 80.4h1.35M131.4 112.8h1.35M146.9 77.9h1.35M153.5 87.6h1.35M149.5 87.9h1.35M138.5 99.3h1.35M145.1 88.9h1.35M137.5 79.6h1.35M137.9 101.8h1.35M145.3 84.6h1.35M143 91.5h1.35M138.6 85.6h1.35M154 81h1.35M134.3 92.5h1.35M155.1 92.1h1.35M142.4 97.1h1.35M151.9 84.8h1.35M149.8 92.1h1.35M150.1 86.8h1.35M136.4 95.2h1.35M138.9 94.4h1.35M138.9 97.2h1.35M148.8 85.9h1.35M156.6 85.6h1.35M161.4 85.7h1.35M142.1 92.8h1.35M147.3 85.4h1.35M131.9 106.5h1.35M120.2 98.3h1.35M139 97.9h1.35M140.3 94.2h1.35M131.7 103.6h1.35M122 87.5h1.35M158.4 97.7h1.35M137.7 92.7h1.35M125.1 91.8h1.35M176 79.3h1.35M154.5 100.5h1.35M145 94h1.35M153.4 80.4h1.35M137.7 91.3h1.35M169.6 89h1.35M126.4 90.3h1.35M131.6 95.4h1.35M145.5 89.1h1.35M142.9 104.6h1.35M164 81.6h1.35M131.1 104.4h1.35M137.5 90.1h1.35M148.9 84.7h1.35M156.5 92.3h1.35M160.9 88.3h1.35M148.2 79.6h1.35M175.4 82.5h1.35M143.2 95.5h1.35M148.4 86h1.35M158.3 86.9h1.35M144.3 92.9h1.35M143 89h1.35M140.8 89.3h1.35M138.4 89.7h1.35M133.4 94.1h1.35M138.1 86h1.35M128.8 97.3h1.35M149 80.6h1.35M128.5 98.1h1.35M172.1 79.6h1.35M165.8 76.5h1.35M162.5 89h1.35M148.9 100.9h1.35M143.1 99.6h1.35M159.3 77.2h1.35M152.2 95.6h1.35M154.6 88.4h1.35M143 106.7h1.35M136.5 125.4h1.35M143.5 126h1.35M160.1 143.3h1.35M150.1 115h1.35M138.7 132.6h1.35M135.6 104.8h1.35M138.6 111.4h1.35M150.6 110.1h1.35M165.8 112.2h1.35M131 108.1h1.35M143.6 111.4h1.35M139 116.2h1.35M134.6 112.3h1.35M148.3 123.2h1.35M150.2 115.9h1.35M126.7 116.7h1.35M131.3 131.1h1.35M157.8 119.8h1.35M147.4 118.2h1.35M149.8 116.5h1.35M137.6 117.3h1.35M139.1 122.3h1.35M149 108.8h1.35M137.7 127.9h1.35M130.4 132.1h1.35M143.6 128h1.35M154.4 111.9h1.35M131.3 101.1h1.35M156.2 112.4h1.35M151.9 118.2h1.35M133.3 124.8h1.35M143.7 114.9h1.35M143.1 113.7h1.35M151.1 131.6h1.35M151.5 110.1h1.35M128.1 127.1h1.35M127.6 125.6h1.35M155.8 103.7h1.35M144.9 119.4h1.35M148.5 111.2h1.35M147.6 107.4h1.35M161.8 98.6h1.35M129.3 101.4h1.35M156.5 120.8h1.35M133.9 112.9h1.35M152.2 119.4h1.35M159.5 106.3h1.35M127.2 113.6h1.35M148.4 114h1.35M140.3 101.6h1.35M140.1 100.4h1.35M144.1 121h1.35M131.1 118.2h1.35M132.2 107.6h1.35M151.4 115.7h1.35M153.6 123.2h1.35M136.9 134.6h1.35M126.3 108h1.35M171.1 122.8h1.35M156.6 137.5h1.35M147.9 117.4h1.35M131.4 131.1h1.35M136.7 91.4h1.35M146.5 130.9h1.35M132.2 116.6h1.35M162.6 98.3h1.35M145.2 124.3h1.35M148.2 127h1.35M131.4 128.6h1.35M132.8 128.5h1.35M134.2 116.4h1.35M146.9 109.4h1.35M140.4 112.2h1.35M140.2 116.4h1.35M147.3 120.7h1.35M146.3 112h1.35M161.2 117.2h1.35M141.3 125.3h1.35M131.6 119.9h1.35M143.5 139.2h1.35M160.9 137.9h1.35M137 105.5h1.35M144.2 111.1h1.35M139.4 103.9h1.35M148.4 105.3h1.35M146.6 122.1h1.35M134 107h1.35M140.9 106.4h1.35M154.7 114.1h1.35M156.5 124.6h1.35M154.5 113.2h1.35M153.8 113.2h1.35M139.7 125.7h1.35M139.3 121.3h1.35M154.6 121.2h1.35M129.8 126h1.35M142.9 106.8h1.35M121.7 118.8h1.35M139.1 110.5h1.35M135.3 126.8h1.35M129.4 124.7h1.35M150.4 106.4h1.35M134.9 129.8h1.35M139.3 105.2h1.35M140.6 128.2h1.35M134.9 118.7h1.35M160.4 108.1h1.35M137.8 105.7h1.35M145.9 113.7h1.35M128.2 116.5h1.35M138 109.7h1.35M139.8 122.2h1.35M140 102.9h1.35M136.7 116.6h1.35M145.3 116.7h1.35M162 98.3h1.35M142 119.7h1.35M142 104.3h1.35M139 92.1h1.35M173.5 110.7h1.35M162.6 114.5h1.35M150.2 125.6h1.35M151.9 111.9h1.35M135.2 131.2h1.35M141.8 130.9h1.35M146.1 127.5h1.35M145 129.7h1.35M133.5 120.2h1.35M134.4 111.2h1.35M149.7 123.1h1.35M147.3 126.2h1.35M118.8 119.1h1.35M144.7 114.3h1.35M158.6 101.3h1.35M136 123.4h1.35M146.5 120.2h1.35M126.5 103.9h1.35M153.4 117.7h1.35M130.5 123.8h1.35M128.9 115.6h1.35M139.9 124.4h1.35M171.5 124.1h1.35M136.4 102.1h1.35M128.8 113.7h1.35M149.1 121.5h1.35M146.3 125.7h1.35M163.1 130.6h1.35M128.7 97.8h1.35M124.9 116h1.35M139.9 123.8h1.35M148.1 128.8h1.35M147.8 133.3h1.35M156.4 107.5h1.35M126.1 113h1.35M133.9 106.3h1.35M142.1 124.8h1.35M153.5 103.6h1.35M149.2 128.4h1.35M138.7 125.9h1.35M186.8 151.2h1.35M164.5 150.4h1.35M177.1 128.5h1.35M189 120.9h1.35M170.8 135.9h1.35M180.7 139.7h1.35M181.9 126.8h1.35M190.2 142h1.35M185.1 150.6h1.35M185 149.2h1.35M179 122.4h1.35M182.8 104h1.35M181.6 139.5h1.35M188.9 128.6h1.35M181.2 146.7h1.35M191.4 166.2h1.35M168.5 166.2h1.35M192.8 144.1h1.35M181.3 157.5h1.35M192.2 166.3h1.35M183.4 140.2h1.35M189.9 143.9h1.35M195.3 153.4h1.35M178.1 138.9h1.35M183.4 131.4h1.35M181.3 127.3h1.35M184.5 139.6h1.35M169.1 129.4h1.35M181.3 152.5h1.35M180.6 134.1h1.35M176.1 163.4h1.35M181.1 159.3h1.35M169.8 119.4h1.35M194.5 157.2h1.35M186.5 133.1h1.35M198.5 161.9h1.35M175.4 148h1.35M172.9 138.9h1.35M185.1 150.6h1.35M168.7 130.6h1.35M184.6 145h1.35M176.8 145.9h1.35M179.9 137.3h1.35M184.8 146h1.35M183.1 123.5h1.35M198.4 148.8h1.35M188 120.1h1.35M171.9 149.8h1.35M190.9 147.4h1.35M171.5 151.3h1.35M183.4 130.8h1.35M172.2 189h1.35M175.8 136.1h1.35M193.7 142.3h1.35M178 127.6h1.35M177.3 163h1.35M178 132.3h1.35M180.1 156h1.35M194.8 124.6h1.35M172.8 145h1.35M172.3 133.9h1.35M187.6 155h1.35M169.3 135.3h1.35M179.6 126h1.35M192.2 147.3h1.35M182.7 120.7h1.35M178.6 124.6h1.35M176.7 152.4h1.35M175 109.8h1.35M177.7 152.3h1.35M183.8 133.6h1.35M193.1 125.3h1.35M190.8 144h1.35M177.9 150.3h1.35M176.5 130.7h1.35M188.5 137.3h1.35M167.4 153.1h1.35M178.9 152.3h1.35M179.9 139.4h1.35M173.3 127.8h1.35M174.2 125h1.35M185.5 130.6h1.35M168.7 151.2h1.35M174.9 149.6h1.35M177.1 145.2h1.35M183.3 162.7h1.35M171 135.5h1.35M191.7 134.2h1.35M180 134.1h1.35M180.4 171.1h1.35M179.5 107.3h1.35M176.9 145h1.35M174.3 147.6h1.35M192.1 141.4h1.35M184.2 177.9h1.35M181.6 159.2h1.35M190.8 152.8h1.35M176.5 126h1.35M187.8 148.5h1.35M182.7 134.5h1.35M175 141.2h1.35M188.8 143.7h1.35M169.9 132.8h1.35M187.9 150.7h1.35M175 166.7h1.35M185.9 157.2h1.35M194 144.1h1.35M187.2 109.6h1.35M177.4 158h1.35M182.2 157.9h1.35M179.3 137.5h1.35M172.6 133h1.35M173.1 151.2h1.35M182.7 127.7h1.35M186.9 153.4h1.35M167.6 123.4h1.35M181.8 126h1.35M186.6 141h1.35M183.3 117.4h1.35M173.9 140.8h1.35M191 149.3h1.35M172.1 119.7h1.35M187.7 155.6h1.35M195.7 131.8h1.35M165.2 149.6h1.35M184.4 144.2h1.35M184.9 133.5h1.35M184.2 132.5h1.35M175.9 113.6h1.35M179.7 129.7h1.35M170.6 128.5h1.35M183.4 167.1h1.35M186.7 157.1h1.35M176.7 119h1.35M174.5 153.6h1.35M178.3 144.4h1.35M182.2 134.8h1.35M182.7 148.2h1.35M181.4 153.5h1.35M182.8 131.8h1.35M171.3 136.5h1.35M159.4 143.5h1.35M187.4 125.2h1.35M194.1 143.8h1.35M170.4 139.6h1.35M176.6 130.1h1.35M184.7 127.5h1.35M190.2 145.8h1.35M187.6 154.9h1.35M192.9 146.2h1.35M181.7 127.3h1.35M185.6 152.9h1.35M185.6 143.6h1.35M178.6 150.4h1.35M192.2 159.5h1.35M187.4 126.6h1.35M190.3 138.7h1.35M178.9 131.4h1.35M190.8 127h1.35M173.4 172.8h1.35M185.5 155.9h1.35M160.4 112.8h1.35M173.8 147.7h1.35M188.3 132.1h1.35M178.4 159.2h1.35M183.6 142.3h1.35M168.7 138.2h1.35M195 143.2h1.35M187.1 147.1h1.35M181.9 141.4h1.35M185.6 137.5h1.35M184.9 138.8h1.35M193.9 149.1h1.35M183.9 123h1.35M169.9 140.9h1.35M180 139.1h1.35M192.8 133.3h1.35M186.9 152.7h1.35M178.7 120.5h1.35M187.2 135.2h1.35M183.1 127.4h1.35M187.2 149.6h1.35M169 133.5h1.35M174.7 141.8h1.35M187.7 147.1h1.35M180.3 115.6h1.35M185.1 148.2h1.35M198.4 129.1h1.35M179.6 136.9h1.35M184.2 139.2h1.35M177.5 153.8h1.35M177 152.7h1.35M181.5 169h1.35M170.1 143.8h1.35M164.7 133.4h1.35M193.5 133h1.35M181.3 151.4h1.35M191.5 166.4h1.35M183.2 146.4h1.35M183.4 131.8h1.35M187.7 145.4h1.35M188.1 145.1h1.35M172.2 141.5h1.35M192.2 129.2h1.35M174.1 100.7h1.35M183.8 132.5h1.35M203.4 157.7h1.35M182.8 144.4h1.35M196 105.9h1.35M179.3 141.1h1.35M187.3 111.7h1.35M182.6 172.6h1.35M185.6 144h1.35M175.1 121.9h1.35M174.5 153.7h1.35M184.9 128.6h1.35M169.2 149.9h1.35M175.2 141.3h1.35M187.5 122.3h1.35M177.1 151.6h1.35M174.8 119.7h1.35M173 162.3h1.35M183.4 142h1.35M179.1 124.7h1.35M183.4 112.2h1.35M180.6 166.7h1.35M197.5 164h1.35M178.5 121h1.35M165.9 167.1h1.35M183.1 143.7h1.35M182.2 137.5h1.35M183.5 139.6h1.35M168.8 136.7h1.35M191.6 163.7h1.35M181.9 143.4h1.35M181.8 111.7h1.35M169 174.2h1.35M186.1 155h1.35M181.6 123.7h1.35M193.4 135.3h1.35M178.7 126.6h1.35M171.9 141.7h1.35M183.2 147.3h1.35M174.6 144.8h1.35M185.6 131.5h1.35M173.2 128.3h1.35M181.1 154.4h1.35M180.3 139.4h1.35M181.9 176.7h1.35M177.9 128.2h1.35M175.5 153.5h1.35M181.7 141.8h1.35M177.4 128.9h1.35M183.4 162.6h1.35M179.9 143h1.35M163.6 126.8h1.35M181.7 135.9h1.35M193.6 157.2h1.35M184.7 121.6h1.35M187.1 162.9h1.35M185.9 151.9h1.35M178.3 136.6h1.35M171.2 162.5h1.35M188.8 168.8h1.35M190.9 150.5h1.35M186.8 143.7h1.35M185.7 170.3h1.35M185.4 164.8h1.35M181.9 126.3h1.35M184.4 137.7h1.35M182.3 137.6h1.35M184.9 134.5h1.35M174.4 117.2h1.35M177 155.4h1.35M186.8 142.3h1.35M179.4 142.6h1.35M162.3 163.4h1.35M183.2 132h1.35M163.4 140.1h1.35M197.9 145.4h1.35M155 238.8h1.35M143.4 109.5h1.35M201.2 233.8h1.35M139.7 231.8h1.35M149.9 110h1.35M172.5 230.3h1.35M197.6 148.8h1.35M190.1 139.5h1.35M192.6 106h1.35M119.2 189.1h1.35M199.2 193.3h1.35M186.5 173.7h1.35M134.6 94.3h1.35M184.6 228.6h1.35M200 136.1h1.35M178 126h1.35M177.6 198.7h1.35M188 110.7h1.35M192.3 250.7h1.35M182 200.1h1.35M108.2 227.3h1.35M121.9 140.7h1.35M112.7 157.7h1.35M148.9 123.5h1.35M106.9 123.5h1.35M157.8 155.1h1.35M197.1 226.9h1.35M203.1 172.1h1.35M103.9 235.8h1.35M171.7 96.6h1.35M115 130.8h1.35M190.5 82.1h1.35M103.3 251.3h1.35M110.8 87.2h1.35M134 179.6h1.35M100.6 205h1.35M169.5 114.4h1.35M121.6 264.1h1.35M175.6 264.3h1.35M199.7 121h1.35M149.4 101.9h1.35M149.4 200.4h1.35M204.6 174.3h1.35M132.9 191.6h1.35M193 194.3h1.35M174.9 259.5h1.35M101 223.3h1.35M131.3 135.3h1.35M175.7 219.2h1.35M104.7 161.7h1.35M190 263.3h1.35M195.8 167.1h1.35M179.7 77.1h1.35M185.2 252h1.35M162.7 128.4h1.35M184.9 233.6h1.35M149.1 193h1.35M142.9 218.6h1.35M173.8 217.6h1.35M148.9 249.8h1.35M132.6 235.8h1.35M127.8 199.5h1.35M145.9 138h1.35M140.1 170.3h1.35M179.2 128.8h1.35M182.3 140h1.35M183.8 163.9h1.35M188.7 156.7h1.35M138 130.9h1.35M138.8 133.8h1.35M188 135.1h1.35M118.9 112h1.35M173.7 187.5h1.35M155.1 92.9h1.35M170 122.9h1.35M173.2 107.9h1.35M170.2 211.4h1.35M124.7 129h1.35M102.5 94.2h1.35M200 233.5h1.35M194.2 159.5h1.35M153 230.2h1.35M169.4 136.9h1.35M109.6 141.9h1.35M148.1 182.9h1.35M161.7 88.4h1.35M173.5 263.5h1.35M123 100.7h1.35M109.7 251.2h1.35M200.9 202.3h1.35" stroke="#333" stroke-width="1.35" fill="none"/>
<path d="M215.9 109h1.3M215.3 109.9h1.3M216.5 113.1h1.3M215.7 115h1.3M217.2 110.3h1.3M217 107.7h1.3M215.3 105h1.3M218.2 98.9h1.3M215 106.4h1.3M216.7 115.3h1.3M217.4 113.2h1.3M217.6 121.9h1.3M213.8 108.2h1.3M217.3 98.1h1.3M217.5 114.3h1.3M217.8 115.6h1.3M213.8 101.9h1.3M215.5 99.1h1.3M216.1 110.1h1.3M215.7 113.6h1.3M217.7 102.2h1.3M215.5 107h1.3M217.5 104.3h1.3M216.8 101.8h1.3M214.6 101h1.3M215.1 110h1.3M215.7 106.8h1.3M216.3 105h1.3M217.3 92.9h1.3M216 120h1.3M217.2 103.3h1.3M214.5 108.3h1.3M212.8 102.1h1.3M215.8 111.5h1.3M216.7 99.7h1.3M215.8 109.7h1.3M215.1 107.9h1.3M216.7 114.8h1.3M218.3 102.3h1.3M216.1 105.1h1.3M215.4 107.6h1.3M215.3 122.1h1.3M218.4 100h1.3M216.2 110.9h1.3M216.9 105h1.3M217.5 111h1.3M217.4 113.1h1.3M215.2 110h1.3M217.3 110.7h1.3M217.1 110.8h1.3M216.7 105.4h1.3M217.3 107.7h1.3M215.6 98.8h1.3M216.1 106.9h1.3M215.6 104.3h1.3M217 107.5h1.3M215.5 113.6h1.3M216.6 111.4h1.3M215 112h1.3M216.1 115.9h1.3M215.8 94.3h1.3M216.1 111.7h1.3M216.3 108.9h1.3M216 108.4h1.3M216 100.9h1.3M213.9 112.5h1.3M217.4 116.2h1.3M215.5 115.4h1.3M215.9 108.5h1.3M215.3 113h1.3M217.3 114.8h1.3M215.2 120.4h1.3M216.8 116.7h1.3M217.5 109.9h1.3M218 109.6h1.3M217.5 110.1h1.3M216.9 110.4h1.3M214.9 106h1.3M217.6 113.8h1.3M217.5 104.7h1.3M217.1 104.1h1.3M217.1 111.2h1.3M216.3 105.5h1.3M215.6 107.5h1.3M217.4 96.1h1.3M217.6 114h1.3M215.1 109h1.3M217.2 108.2h1.3M216.5 111.9h1.3M217.2 110.3h1.3M216.5 104.7h1.3M217.4 121.5h1.3M217.3 106.2h1.3M217.2 115.1h1.3M214.7 120.4h1.3M217.1 105.2h1.3M216.3 109.6h1.3M215 103.9h1.3M217 115.5h1.3M214.7 106.9h1.3M217.2 102.2h1.3M218.1 117.2h1.3M215.7 114.7h1.3M217.2 103.5h1.3M216.7 116.4h1.3M216.9 110.2h1.3M214.7 125.9h1.3M216.9 119.7h1.3M216.4 105.6h1.3M217 107.3h1.3M216.2 103.6h1.3M217.4 109.8h1.3M216.5 109.3h1.3M217 113.6h1.3M217.7 109.5h1.3M216.4 99.9h1.3M217.3 104h1.3M216.5 117.8h1.3M216.8 116.2h1.3M215.7 108h1.3M217.1 108.2h1.3M217.6 108h1.3M216.1 109.1h1.3M217.1 98.6h1.3M216.7 114.6h1.3M215 104.9h1.3M216.6 109.9h1.3M217.7 93.3h1.3M215.7 110.5h1.3M214.3 117.3h1.3M216.5 95.1h1.3M215.5 118.4h1.3M218.3 111.9h1.3M216.2 104.5h1.3M216.2 99.2h1.3M215.6 116.2h1.3M216.5 110.6h1.3M215.6 112.7h1.3M215.3 107.3h1.3M216.2 104.1h1.3M215.4 114.4h1.3M217.7 103.1h1.3M215 114.6h1.3M216.2 98.6h1.3M215.5 103.3h1.3M214.7 100h1.3M218 117.1h1.3M214 98.1h1.3M217.8 101.9h1.3M214.7 113.1h1.3M216.3 110.4h1.3M218.7 122.6h1.3M213.9 120.4h1.3M214.8 112.8h1.3M217.7 113.3h1.3M216.4 97.7h1.3M215.6 103.5h1.3M216.2 107h1.3M215.2 107.9h1.3M216.4 100.5h1.3M217.9 103.2h1.3M215.8 103.7h1.3M216.4 115.6h1.3M217.5 111.6h1.3M218.4 106.9h1.3M215.6 107.3h1.3M216.6 110.8h1.3M215.6 104.7h1.3M215.5 107.4h1.3M215.8 98.3h1.3M215.6 113.2h1.3M214.4 115h1.3M214.1 111.3h1.3M215.5 112h1.3M216.4 111.3h1.3M217.5 121.7h1.3M215.7 110.3h1.3M216.1 100.8h1.3M217 102.5h1.3M217 113.4h1.3M216.1 115.6h1.3M216.2 113.8h1.3M218.3 114.2h1.3M215.9 110.2h1.3M215.7 99.7h1.3M214.5 104.6h1.3M216.7 97.7h1.3M216 106.6h1.3M218.3 100.5h1.3M215.9 109.6h1.3M217.1 107.9h1.3M217.2 96.9h1.3M218 113.5h1.3M214.8 113.7h1.3M217.9 100.3h1.3M216.3 109.9h1.3M216.1 113.4h1.3M215.9 107.2h1.3M215.8 114.3h1.3M215.9 110.1h1.3M213.7 115.7h1.3M216.8 110.1h1.3M216.3 107.9h1.3M215.2 112.1h1.3M216.2 113.8h1.3M218.7 110.5h1.3M216.6 106.1h1.3M215.8 104h1.3M218.1 106.6h1.3M215.4 105.4h1.3M216.1 110.2h1.3M215.6 110h1.3M216 108.4h1.3M217 108.9h1.3M216.9 110h1.3M215.5 118.7h1.3M216.1 116.4h1.3M216.3 105.3h1.3M215.8 111.6h1.3M216.2 106.9h1.3M215.5 108.3h1.3M215.4 107.4h1.3M216.3 105h1.3M215.1 100.4h1.3M216.7 93.5h1.3M216 110.2h1.3M215.2 116.3h1.3M215.6 103.2h1.3M215.7 112.1h1.3M216.1 106.5h1.3M216.4 110.6h1.3M216 103.8h1.3M215.3 107.4h1.3M217.8 108.2h1.3M217.2 94h1.3M216.4 110.2h1.3M217.3 108h1.3M216.6 93.3h1.3M216 113h1.3M216.3 108.7h1.3M219.1 110.2h1.3M217.3 111.1h1.3M217.3 106.3h1.3M215.8 102.1h1.3M216.9 106.1h1.3M218.6 106.2h1.3M216.7 122.8h1.3M217.4 120.4h1.3M217.6 105.8h1.3M216.9 106.3h1.3M217.9 110.9h1.3M216.5 112.4h1.3M216.8 104.5h1.3M215.6 102.6h1.3M219 121h1.3M216.6 115.5h1.3M216.4 99.1h1.3M217.7 97.7h1.3M215.7 103.6h1.3M216.2 110.2h1.3M215.4 112.3h1.3M216.3 106.7h1.3M215.8 98.7h1.3M216.8 110.2h1.3M216.1 112.6h1.3M215.6 108.8h1.3M215.9 105.7h1.3M216.1 112.4h1.3M215.7 108.5h1.3M217.2 101.7h1.3M216.9 109.4h1.3M216.4 100.6h1.3M215 114.9h1.3M216.8 111.8h1.3M214.9 102.5h1.3M216.4 110.1h1.3M216.3 116.7h1.3M215.6 95.3h1.3M215.3 107.9h1.3M215.5 119.2h1.3M218.4 99h1.3M215.9 107.7h1.3M216 99.8h1.3M217.2 108.4h1.3M216.7 93.6h1.3M217.4 98.5h1.3M214.9 105.4h1.3M215.1 109.7h1.3M219.8 111.2h1.3M216.2 111.5h1.3M215.9 116.1h1.3M216.4 113.2h1.3M217.3 113.5h1.3M215 102.6h1.3M216.5 107.8h1.3M216.2 129h1.3M216.9 123.2h1.3M216.4 114.1h1.3M215.7 113.5h1.3M215.3 115.1h1.3M213.6 106.2h1.3M217.3 121.3h1.3M214.7 106.4h1.3M215.8 108.3h1.3M218 122.7h1.3M215.8 95.6h1.3M216.9 111.1h1.3M216 97.8h1.3M217 104.6h1.3M216.3 108.2h1.3M215.7 106.6h1.3M217.7 109.9h1.3M215.9 103.9h1.3M214.8 108.1h1.3M215.9 101.2h1.3M216.8 106.3h1.3M215 99.9h1.3M217.1 113h1.3M217 100.5h1.3M218.5 113.2h1.3M215.5 106.2h1.3M216.9 106.9h1.3M214.5 116.4h1.3M215.8 109.5h1.3M216.3 96.7h1.3M216.7 112h1.3M216.2 90.2h1.3M216.1 110.5h1.3M215.6 106.2h1.3M215.8 99.8h1.3M216.6 109.3h1.3M216.8 106.8h1.3M216.9 121.7h1.3M217.3 106h1.3M217.5 121.3h1.3M214.3 117.7h1.3M215.7 104.9h1.3M216.1 103.6h1.3M215.5 117.3h1.3M217.3 107.9h1.3M217 109.8h1.3M216.1 107.2h1.3M216.4 101h1.3M217.6 106.4h1.3M215.9 102.6h1.3M215.9 98.9h1.3M217.2 106.9h1.3M216.7 120.3h1.3M217.7 119.2h1.3M216.6 108.4h1.3M217 109.7h1.3M215.7 112.1h1.3M215.2 117.6h1.3M216.2 110.9h1.3M213.4 105.7h1.3M216.7 106.3h1.3M217.3 116.1h1.3M216.3 125.6h1.3M216 104.8h1.3M217.4 95.6h1.3M216.2 114h1.3M217.3 108.3h1.3M218.5 109.7h1.3M217 116.8h1.3M217.2 109.2h1.3M216.7 100.2h1.3M216.5 96.1h1.3M216.5 108.5h1.3M216.3 101.3h1.3M217.4 110.7h1.3M214.5 100.6h1.3M215.9 106.5h1.3M216.9 99.3h1.3M215.3 106.5h1.3M216.1 105.9h1.3M215.5 112.7h1.3M216.7 117.5h1.3M217.1 107.6h1.3M217.8 103.2h1.3M216.8 121.5h1.3M215.5 111.2h1.3M216.5 112.8h1.3M216.8 112.8h1.3M217.7 118.2h1.3M214 115.4h1.3M216.6 113.2h1.3M214.3 113.8h1.3M217 103.3h1.3M216.7 104.9h1.3M216.8 108.1h1.3M217.2 109.4h1.3M216.6 108.9h1.3M215.5 110.8h1.3M216.6 109h1.3M217.5 106.1h1.3M216.1 98.3h1.3M216.3 114.3h1.3M215 112.6h1.3M217.4 103.1h1.3M215.7 112.1h1.3M215.4 111.4h1.3M215.8 109.3h1.3M215.3 96.9h1.3M216 101h1.3M217.6 104.9h1.3M217.1 119.3h1.3M217.7 103.3h1.3M217.8 106.6h1.3M215.3 101.6h1.3M216.7 105.6h1.3M217.8 111.1h1.3M218.6 95.4h1.3M214.7 90.4h1.3M214.7 113.1h1.3M216.7 109.1h1.3M215.9 104.9h1.3M215.2 115.1h1.3M216.6 115.1h1.3M215.4 95.2h1.3M213.8 107.7h1.3M218.1 123.6h1.3M216.3 120.2h1.3M216.7 128.5h1.3M217.9 116h1.3M216.7 122.7h1.3M215.8 122.5h1.3M216.3 121.7h1.3M215.6 117.6h1.3M217.5 117.5h1.3M215.3 120.2h1.3M218 121.2h1.3M215.3 117.3h1.3M217 117.7h1.3M215.5 122.6h1.3M216.7 124h1.3M218 119.2h1.3M218.1 118.8h1.3M218.3 118.7h1.3M216.9 128.3h1.3M217.1 122.4h1.3M217.2 120.7h1.3M217.6 123.9h1.3M216.6 127.8h1.3M218.1 124.4h1.3M217.3 116.6h1.3M218.1 120.6h1.3M217.5 119.7h1.3M217.7 119.9h1.3M216.2 117.2h1.3M216.6 119.7h1.3M215.7 117.6h1.3M216.7 121.9h1.3M216.8 121h1.3M217.8 116.6h1.3M215.7 115.8h1.3M220.2 119.4h1.3M216.9 122.8h1.3M218.2 122.4h1.3M218 120.7h1.3M214.5 111h1.3M216.7 119.4h1.3M218.4 118.7h1.3M214.5 119.9h1.3M217.7 117.2h1.3M216.1 119.6h1.3M216.5 118.9h1.3M217.2 129h1.3M215.1 123h1.3M217.2 120.3h1.3M216.3 120.7h1.3M216.2 120.5h1.3M217.7 121.4h1.3M220.5 119.7h1.3M217.3 120.8h1.3M217.5 124h1.3M216.9 123.4h1.3M216.2 121.8h1.3M217.2 124.9h1.3M218.5 121.6h1.3M217.2 117.9h1.3M229.4 105h1.3M235.7 98.7h1.3M230.4 92h1.3M236.5 90.3h1.3M237.3 85.2h1.3M231.8 96.5h1.3M232.9 98.7h1.3M233.3 86.3h1.3M237.9 84.6h1.3M230 95.1h1.3M231.7 89.3h1.3M241.6 84.3h1.3M233.3 89.9h1.3M228.5 91.3h1.3M232.4 108.6h1.3M235.5 82.6h1.3M226.2 85h1.3M234.7 91.9h1.3M236.1 97h1.3M232.6 102.1h1.3M239.1 95.1h1.3M233.9 93.5h1.3M238.8 85.5h1.3M228.9 100.6h1.3M238.3 82.7h1.3M238.9 94h1.3M238.7 84.8h1.3M232.7 99.9h1.3M229.8 88.5h1.3M236.3 83.8h1.3M231.2 90.8h1.3M233.3 104.1h1.3M231.7 94.5h1.3M236.8 89.3h1.3M228.5 101.9h1.3M236.5 104.9h1.3M231.8 90.1h1.3M232.7 99.8h1.3M243.5 90.4h1.3M232.4 101.4h1.3M227.8 105.2h1.3M234.5 98.9h1.3M240.8 83.1h1.3M235 99.8h1.3M229 91.1h1.3M235.7 91.3h1.3M226.4 97.7h1.3M242.4 86.8h1.3M235.2 91.6h1.3M234.3 89.2h1.3M232.5 105.5h1.3M231.9 105.8h1.3M224.8 111.4h1.3M238.7 95.7h1.3M233.3 94.2h1.3M231.3 86h1.3M241.9 83.5h1.3M238.3 96h1.3M237.5 95.9h1.3M237.1 90.1h1.3M235.6 81.1h1.3M235.3 99.6h1.3M241.2 90h1.3M236.3 95.3h1.3M238.3 96.7h1.3M234.3 86.3h1.3M235.6 99.4h1.3M234.7 101.3h1.3M231.9 86.7h1.3M229.9 91.5h1.3M231.9 94h1.3M234.5 93.8h1.3M237 89.7h1.3M233.1 95.2h1.3M236.2 87.3h1.3M235.2 89.7h1.3M238.2 82.3h1.3M239.2 84.3h1.3M238 87.1h1.3M233.9 94.2h1.3M235.6 92.2h1.3M231.9 96.6h1.3M243.4 73.2h1.3M232.6 93.9h1.3M240.5 90.3h1.3M237.7 83.1h1.3M232.2 102.8h1.3M230.5 98h1.3M232.7 95.3h1.3M232.7 100h1.3M231.7 101.9h1.3M231.6 95.9h1.3M234.3 82.5h1.3M236.4 87.7h1.3M235.1 92.7h1.3M236.2 93.1h1.3M234.3 105.8h1.3M235.3 87.5h1.3M229.9 87.9h1.3M231.7 100.4h1.3M229.8 89.6h1.3M230.5 93h1.3M236.3 97.4h1.3M233.9 100.4h1.3M231.2 97h1.3M230.6 98.9h1.3M235.4 89.4h1.3M230.5 88.6h1.3M236.7 90.9h1.3M233.2 93.8h1.3M238.9 97.4h1.3M236.3 77.2h1.3M233.1 107h1.3M235.4 83.6h1.3M238.3 91.2h1.3M232 91.4h1.3M235.5 97.1h1.3M232.8 93.9h1.3M229.5 100.5h1.3M230.9 102.5h1.3M235.7 94h1.3M231.9 105h1.3M241 88.2h1.3M239.5 85.6h1.3M219.1 114.9h1.3M229.9 103.5h1.3M229.6 89h1.3M234 90.9h1.3M236.6 92.5h1.3M231.8 88.5h1.3M233 86.3h1.3M237 86.7h1.3M237.9 79.7h1.3M239.2 94h1.3M237.5 86.9h1.3M232.3 104.8h1.3M239.3 95.3h1.3M230.3 101h1.3M237.8 82.8h1.3M237.2 75.2h1.3M236.6 89.1h1.3M234.5 103h1.3M238.2 94.8h1.3M234.6 92.5h1.3M233 90.7h1.3M235 84.3h1.3M232.9 84.6h1.3M228.8 111.7h1.3M241.6 84.2h1.3M226.7 94.1h1.3M227.1 94.7h1.3M241.9 83.9h1.3M229.4 93.1h1.3M232.4 102.8h1.3M228 101h1.3M237 93h1.3M238.9 87h1.3M238.6 82.2h1.3M236.6 94.7h1.3M233.7 96.1h1.3M240 81.7h1.3M238.8 97.7h1.3M241.1 83.3h1.3M233.3 90.4h1.3M232.9 90.3h1.3M233.4 94.2h1.3M234.7 90.4h1.3M233.8 96.1h1.3M231.3 97h1.3M236.2 94.3h1.3M233.2 97.4h1.3M236.4 90.9h1.3M234.9 92.1h1.3M235.8 95.2h1.3M230.8 93h1.3M238.6 95.8h1.3M239.7 80.6h1.3M235.9 93.2h1.3M235 97.5h1.3M237 95.8h1.3M238.3 88.7h1.3M234.9 94.4h1.3M233.8 93.6h1.3M229.4 93h1.3M235.6 91.8h1.3M234.7 89.7h1.3M234.8 89.3h1.3M237.7 106.6h1.3M226.9 98.6h1.3M228.7 111.5h1.3M240 88.1h1.3M240 85.7h1.3M241.2 84.6h1.3M231.4 90.5h1.3M234.6 83.7h1.3M236.3 93.6h1.3M233.5 93.3h1.3M236 105.3h1.3M233.5 98.5h1.3M233.9 97.1h1.3M238.1 86.6h1.3M237.7 80.7h1.3M233.9 96.2h1.3M233.6 89.5h1.3M235.2 90.7h1.3M231.5 97.8h1.3M231.4 105.3h1.3M228.9 96.8h1.3M227.1 101.6h1.3M235.3 95.4h1.3M235 94h1.3M231.5 93.2h1.3M233.6 93.7h1.3M232.8 88.3h1.3M238.3 101.3h1.3M232.3 85h1.3M235.7 106.3h1.3M232.5 91.6h1.3M236.8 90.4h1.3M232.1 98.2h1.3M229.9 103.8h1.3M238.8 89.1h1.3M235.5 98.3h1.3M235.7 86.9h1.3M233.9 86.5h1.3M240.6 94.7h1.3M238.7 94.1h1.3M237.4 85.9h1.3M234.7 89.8h1.3M233.4 99.7h1.3M235.3 91.7h1.3M239.4 89.9h1.3M232.4 90.4h1.3M235.2 91.4h1.3M232.1 93.1h1.3M238.1 94.8h1.3M237.7 101.1h1.3M231.1 102.9h1.3M238.8 85.3h1.3M237.2 98.6h1.3M234.4 90.9h1.3M228.6 102.6h1.3M238 92.6h1.3M234.2 99.1h1.3M241 71.5h1.3M236.5 101.4h1.3M233.1 99.9h1.3M231.8 84.4h1.3M238.3 85h1.3M229.7 107.7h1.3M240.6 92.7h1.3M236.7 86.5h1.3M231.3 101.3h1.3M237.5 88.3h1.3M234.2 96.8h1.3M228.4 98.6h1.3M234.2 95.4h1.3M232.7 95.8h1.3M235.5 103.9h1.3M246.7 79.1h1.3M230.5 95h1.3M230.2 97.2h1.3M234.3 86h1.3M232.7 92.7h1.3M235.8 82.7h1.3M234.2 94.7h1.3M238.6 91.3h1.3M231.2 90.9h1.3M230.7 90.2h1.3M229 92.6h1.3M237.6 94.6h1.3M242.3 82.1h1.3M228.8 96.2h1.3M228.8 95.2h1.3M234.3 95.3h1.3M239.1 89.8h1.3M238.5 90.9h1.3M237.4 86.3h1.3M233.6 102.9h1.3M236.2 91.3h1.3M232.7 93.5h1.3M239.5 96.6h1.3M235.1 91.6h1.3M227 105.7h1.3M234 90.4h1.3M230.6 90.3h1.3M231.5 102.9h1.3M237.6 94.5h1.3M234.7 80.7h1.3M237 96.6h1.3M242 90.5h1.3M235.3 94.7h1.3M229.5 97.5h1.3M230.2 98.5h1.3M232.8 95.3h1.3M234 82.4h1.3M233 85.9h1.3M232.3 97.5h1.3M236.5 85.6h1.3M236.1 94.3h1.3M229.7 96.6h1.3M241 91.5h1.3M235.6 100.2h1.3M233.6 104.7h1.3M235.8 83h1.3M235.5 107.3h1.3M235 88.6h1.3M236.4 105.2h1.3M237.7 94h1.3M231.7 93.4h1.3M232.4 95.5h1.3M235 110h1.3M237.3 94.5h1.3M234.2 92.9h1.3M233.2 99.3h1.3M235.1 93.4h1.3M234.8 85.1h1.3M232.5 97.7h1.3M233.4 90.4h1.3M230.9 100.5h1.3M236.9 90.5h1.3M233.4 87.4h1.3M242.5 76h1.3M237.1 86.5h1.3M237.9 90.4h1.3M240.5 83.7h1.3M236 100.9h1.3M239 85.8h1.3M235.5 97.3h1.3M232.8 97h1.3M238.8 85.6h1.3M232.7 90.3h1.3M237 83.2h1.3M233.5 103.7h1.3M235.2 90.8h1.3M234.8 96.9h1.3M231.1 93.7h1.3M234.3 107.4h1.3M235.2 85.6h1.3M236.3 91.6h1.3M232.4 99.7h1.3M234.3 103.1h1.3M231.6 98.5h1.3M235.1 82h1.3M229.1 91.7h1.3M233.1 94.8h1.3M232.4 88.2h1.3M236.3 93.1h1.3M239.4 92.4h1.3M230.1 85.4h1.3M231.8 89.2h1.3M237.6 86.8h1.3M235.5 102.2h1.3M235.8 92.5h1.3M234.9 95.5h1.3M236.4 92.4h1.3M236.3 93.5h1.3M238 98.7h1.3M235.7 95.7h1.3M233.3 84.9h1.3M232.1 96.1h1.3M232.5 101.6h1.3M233.8 87.7h1.3M236.2 85.6h1.3M232.6 94.1h1.3M233 91.1h1.3M234.8 99.2h1.3M233.2 93.7h1.3M234.1 83.9h1.3M234.5 86.4h1.3M235.2 91.6h1.3M240.2 96.5h1.3M231.8 104.3h1.3M239.7 91.8h1.3M237.2 89.9h1.3M231 83.2h1.3M240.4 78.9h1.3M233.2 89.2h1.3M233.1 84.7h1.3M229.1 99.4h1.3M242.6 85.8h1.3M232.2 85.1h1.3M236.1 82.5h1.3M239.6 89h1.3M237.7 90.1h1.3M233.2 80.7h1.3M232.9 97.1h1.3M234.7 87.6h1.3M236.7 84.8h1.3M235.1 98.8h1.3M230.5 100.1h1.3M234.8 89.2h1.3M239.2 93.1h1.3M230.9 86.6h1.3M235.2 87.7h1.3M234.4 98.3h1.3M232 89h1.3M235.5 84.1h1.3M230.2 93.8h1.3M234.6 94.7h1.3M230.4 99.8h1.3M238.9 87.6h1.3M242.1 79.9h1.3M231.8 102.1h1.3M235.4 86.9h1.3M237.6 86.5h1.3M233.7 96.5h1.3M230.4 94h1.3M235.5 100.8h1.3M233.7 98.2h1.3M237.4 92.1h1.3M232.3 86.7h1.3M237.6 92.5h1.3M242.8 88.5h1.3M237 91.6h1.3M228 99.2h1.3M238.2 82.4h1.3M237.3 84.2h1.3M233.8 97.6h1.3M238.1 79.9h1.3M237.3 89.7h1.3M233.8 91.1h1.3M239.8 79.3h1.3M227.2 109.2h1.3M231.5 103.7h1.3M239.3 88.4h1.3M232.8 93.7h1.3M234.6 99.6h1.3M235.7 81.1h1.3M234.8 88.7h1.3M231.2 101.1h1.3M236.9 98.2h1.3M234.5 85.8h1.3M242.3 81.1h1.3M226.1 105h1.3M234.9 90.5h1.3M236.6 95.9h1.3M232.9 105.2h1.3M231.5 92.6h1.3M227.7 102.4h1.3M236.1 96.9h1.3M234.8 80h1.3M237.6 89.4h1.3M235.1 86.5h1.3M236.1 88.2h1.3M242.3 92.1h1.3M241.5 87.1h1.3M234.6 101.3h1.3M230 93.6h1.3M237.7 86.7h1.3M233.3 97.5h1.3M233.5 95.3h1.3M241.4 85.2h1.3M233.3 80.1h1.3M234.4 96.9h1.3M233.3 98.1h1.3M234 87.6h1.3M240.4 92.1h1.3M229.6 95.8h1.3M236.2 88.2h1.3M236.3 88.5h1.3M228.7 89.7h1.3M237.3 70.5h1.3M235.1 81.9h1.3M238.9 87.4h1.3M239.9 86.1h1.3M243.2 72.2h1.3M238 84.9h1.3M226.9 95.2h1.3M236.2 90.3h1.3M233.5 91.3h1.3M236.9 97.3h1.3M239.3 91.7h1.3M241.9 92.6h1.3M236.7 93.3h1.3M236.1 96.4h1.3M233.7 85.5h1.3M231.4 103.5h1.3M233.1 85.4h1.3M237.4 93.1h1.3M232 89.2h1.3M228.8 108.6h1.3M236.3 79.8h1.3M229.5 103.9h1.3M234.2 98.7h1.3M234.6 87.3h1.3M234.1 96.7h1.3M231 94.2h1.3M233.8 109.2h1.3M232 94.7h1.3M238.2 91.7h1.3M242.5 89.5h1.3M227.1 92h1.3M232.4 89.8h1.3M235.2 89h1.3M236.7 98.1h1.3M231.7 97h1.3M240.4 78.9h1.3M230.8 97.5h1.3M239.2 84.2h1.3M231.5 90.6h1.3M240.6 82.8h1.3M224.7 93.9h1.3M230.5 86.9h1.3M240.8 91.7h1.3M234.8 94h1.3M232.9 89.2h1.3M239.5 99.7h1.3M237.7 93.8h1.3M237.2 96.1h1.3M235.3 86.5h1.3M236.4 93.5h1.3M233.1 102.5h1.3M229.2 93.3h1.3M236.3 93.5h1.3M232.2 98.4h1.3M241.6 84.2h1.3M239.5 90.6h1.3M234.9 85.7h1.3M231.3 97h1.3M264.7 61.5h1.3M255.4 70.9h1.3M244.9 80.6h1.3M275.4 55.5h1.3M246 79h1.3M269.6 59.5h1.3M252.2 70h1.3M275.2 52.2h1.3M244.1 83.1h1.3M268.2 59.6h1.3M264.2 58.9h1.3M253.3 75.2h1.3M270 55.9h1.3M247.3 86h1.3M261.1 65.9h1.3M266.5 67.3h1.3M252.7 76.3h1.3M251.7 76.7h1.3M241.7 82.8h1.3M263.6 63.8h1.3M248.7 79.4h1.3M281.7 43.8h1.3M261.3 69h1.3M271.2 54.3h1.3M277.9 50.3h1.3M249.1 69.1h1.3M255.9 72.6h1.3M254.5 74.9h1.3M262.1 66.3h1.3M259.3 69h1.3M259.4 66.9h1.3M241.7 85.1h1.3M245.3 85.4h1.3M245.1 79.8h1.3M258.3 70.4h1.3M277.2 52.9h1.3M269.8 57.8h1.3M251 76.6h1.3M272.1 56.6h1.3M258.5 67.4h1.3M274.2 59.7h1.3M277.5 50.3h1.3M249.9 82.7h1.3M248.3 82h1.3M246.7 73.2h1.3M251.9 75.8h1.3M266.8 63.7h1.3M250.1 79.3h1.3M249.9 74h1.3M247.9 79.5h1.3M260 64.2h1.3M263.5 61.5h1.3M272.8 55h1.3M250.9 76.5h1.3M264.8 67.2h1.3M252.8 75.2h1.3M245.2 85h1.3M243.7 78.5h1.3M265.4 59.5h1.3M277.6 50.1h1.3M252.1 80.5h1.3M262.8 61.3h1.3M264.7 59h1.3M249.2 77.3h1.3M263.4 67.5h1.3M249.1 72.4h1.3M240.1 85.1h1.3M275.9 49.8h1.3M254.1 77.6h1.3M273.8 56.1h1.3M254.3 73.6h1.3M263.8 63.8h1.3M261.7 65.1h1.3M272.3 56.3h1.3M250.2 74.4h1.3M276.2 50.5h1.3M277 49.4h1.3M244.7 81.7h1.3M245.9 77.9h1.3M265 65h1.3M246.7 73h1.3M265 64.2h1.3M259.1 69.7h1.3M257.7 73.2h1.3M266.3 60.9h1.3M237.9 82.5h1.3M251.4 72.5h1.3M252.1 78.5h1.3M262.8 63.9h1.3M240.6 84h1.3M257.3 68.2h1.3M265.5 62.1h1.3M278.8 49.4h1.3M244.7 76.3h1.3M249.6 75.1h1.3M254.5 75.7h1.3M267 64.6h1.3M255.3 71.4h1.3M272.3 54.8h1.3M257.6 73.7h1.3M272.6 55.3h1.3M240.5 81.3h1.3M242.2 83.5h1.3M258 71.3h1.3M279.5 52.3h1.3M245.2 79.5h1.3M253.4 75.2h1.3M260.5 66h1.3M262.1 68.6h1.3M258.7 69.4h1.3M252.8 74.9h1.3M266.9 58.6h1.3M256.5 69.8h1.3M243.9 81.3h1.3M263.4 55.3h1.3M243.8 85.6h1.3M249.9 76.7h1.3M272 55.8h1.3M281.4 46.8h1.3M258.1 69.3h1.3M265.9 62.5h1.3M271 54.2h1.3M280.2 48.8h1.3M242.5 84.1h1.3M246.2 80.3h1.3M274.1 51.1h1.3M273.5 54.5h1.3M249.2 73.3h1.3M279.7 49.7h1.3M277.8 53.5h1.3M269.2 61h1.3M248.8 76.7h1.3M269.2 57.5h1.3M277 50.4h1.3M260.3 68.1h1.3M244.9 79.1h1.3M260 65.9h1.3M263 58.2h1.3M240.4 82.6h1.3M239.5 83.6h1.3M260.2 65.7h1.3M268.2 62.8h1.3M269.3 55.6h1.3M265 59.4h1.3M262.1 67.1h1.3M255.6 68.6h1.3M273.6 54.3h1.3M256.8 70.9h1.3M263.4 64.3h1.3M267.7 58.3h1.3M247.8 81.9h1.3M245.3 86.5h1.3M274 52.2h1.3M254 72.1h1.3M251.2 78.7h1.3M262 64.9h1.3M261 63.7h1.3M248.6 76.6h1.3M260.9 68.9h1.3M260.7 64h1.3M255.7 72.1h1.3M261 67.5h1.3M253.9 71.1h1.3M251.8 76.9h1.3M283.4 46.7h1.3M245.2 84.8h1.3M265.2 65h1.3M254.2 68.4h1.3M264.5 65.5h1.3M261.9 67.2h1.3M255.9 74.2h1.3M280.6 46.6h1.3M273.6 56.7h1.3M253 75.1h1.3M280.6 46h1.3M257.1 73.9h1.3M249.1 75h1.3M247.4 75.8h1.3M268.6 60.3h1.3M261.2 64.6h1.3M275.3 53.9h1.3M263.9 63.1h1.3M257.2 70.8h1.3M242.9 86.3h1.3M259.7 67.6h1.3M284 46.6h1.3M259 70.8h1.3M266.8 59h1.3M271.2 58.9h1.3M278.4 51.5h1.3M247.2 79.7h1.3M265.9 64.8h1.3M264.7 67.5h1.3M258.8 70.7h1.3M249.4 72.6h1.3M251.3 77h1.3M271.5 56.4h1.3M273 54.7h1.3M250.5 77.4h1.3M249.2 76.4h1.3M272.7 59.3h1.3M254.7 73.2h1.3M245.3 81.2h1.3M258.6 70.9h1.3M249.5 79.9h1.3M260.9 70h1.3M252.1 76.8h1.3M266.5 61.2h1.3M247.8 79.2h1.3M259.4 62.2h1.3M255 67.8h1.3M265.8 64.7h1.3M267.2 59.9h1.3M259.4 73.3h1.3M250.3 82.5h1.3M241.8 79.9h1.3M280.2 49.2h1.3M253.8 82.7h1.3M271.7 54.8h1.3M250.8 77.3h1.3M263 64h1.3M255.7 70.7h1.3M256.2 70.2h1.3M245.9 80.5h1.3M263.8 65.9h1.3M266.9 59h1.3M265.4 63.7h1.3M266 60h1.3M247.9 80.5h1.3M258.4 69.8h1.3M264.4 61.3h1.3M257.4 70.3h1.3M269.4 56.9h1.3M264.5 61.1h1.3M267.4 63.5h1.3M278.9 46.4h1.3M249 79.5h1.3M260.9 68.6h1.3M259.2 66.5h1.3M261.8 68.8h1.3M281.4 49.1h1.3M268.9 56.1h1.3M255.4 73.3h1.3M251.3 77h1.3M253.5 71.2h1.3M271.6 57.9h1.3M247.7 81.5h1.3M254.5 70.3h1.3M252.6 68.3h1.3M259.1 69.4h1.3M267.7 58.5h1.3M276.2 48.9h1.3M248.1 77.2h1.3M273.1 50.2h1.3M257.9 68.4h1.3M280 51.7h1.3M276.3 46.7h1.3M277.3 52.2h1.3M247 76.5h1.3M252 73.5h1.3M269.9 56.1h1.3M245.1 83.6h1.3M276.8 51.7h1.3M259.7 65.5h1.3M246.8 75.4h1.3M259.6 66.6h1.3M276.3 54.7h1.3M260.8 63.4h1.3M246.6 81.3h1.3M279.7 49.7h1.3M280.2 45h1.3M250.8 79.6h1.3M257.9 69.3h1.3M263.7 70.2h1.3M251.8 80.8h1.3M246.9 78.8h1.3M279.1 49.3h1.3M257.6 66.8h1.3M245.4 76.4h1.3M252.1 77.4h1.3M270.3 57.3h1.3M272.1 55.3h1.3M246.5 79.4h1.3M252.3 76.8h1.3M242.4 87.3h1.3M256.8 70.4h1.3M278.4 49.9h1.3M242.6 84h1.3M247 86.9h1.3M271.6 52.1h1.3M274.3 51.6h1.3M249.5 78.8h1.3M266.7 61.5h1.3M279.3 51.9h1.3M258 73.2h1.3M267.1 66h1.3M268.5 57.6h1.3M279.8 50.2h1.3M267.4 59.9h1.3M266.2 64.2h1.3M263 65.1h1.3M261.1 68.9h1.3M269.6 56.7h1.3M278.7 50.3h1.3M265.8 60.7h1.3M253.8 72.4h1.3M282.5 45.6h1.3M252 71.7h1.3M254.3 76.3h1.3M270 58.8h1.3M262.8 67.9h1.3M260.3 64.4h1.3M239.7 79.3h1.3M264.8 61.3h1.3M256.8 69.9h1.3M282.5 47.9h1.3M264.2 66.4h1.3M269.2 61.9h1.3M270.5 61.4h1.3M275 55h1.3M281.2 47.8h1.3M271.6 54.9h1.3M258 71.4h1.3M271 56h1.3M247.4 76.5h1.3M260.4 68.8h1.3M261.3 66.8h1.3M278.5 51.9h1.3M270.4 56.1h1.3M268.2 62.8h1.3M273.4 55.7h1.3M249.3 76.9h1.3M254.6 70.2h1.3M271.5 54.3h1.3M264.5 59.7h1.3M250 81.6h1.3M239.4 81.4h1.3M257.9 71.3h1.3M250.5 75.5h1.3M242.4 81.8h1.3M248.4 76.7h1.3M243.9 82.2h1.3M273.5 56.9h1.3M258.1 70.8h1.3M252.1 74.8h1.3M241 80.3h1.3M277.3 47.8h1.3M247.9 85.3h1.3M259.3 65.2h1.3M241.1 79.5h1.3M270.4 60.5h1.3M279 46.9h1.3M265.8 64h1.3M280.9 49.8h1.3M266.4 62.1h1.3M244.4 85.5h1.3M270.8 54.2h1.3M252.7 70.5h1.3M255.2 71.3h1.3M272.7 55.6h1.3M276.3 52.1h1.3M247 81.2h1.3M258.5 66.7h1.3M262.3 59.7h1.3M262.9 65.8h1.3M252.2 73.9h1.3M253.5 76.1h1.3M262.4 71.2h1.3M277.2 51.5h1.3M253.9 75h1.3M266.3 59.3h1.3M249.1 80.7h1.3M276.9 52.4h1.3M249.4 78.1h1.3M260.6 69.5h1.3M261.1 63.3h1.3M249.7 79h1.3M270.7 58.5h1.3M266.8 65.3h1.3M253.8 67.8h1.3M254.4 72.4h1.3M246.7 87.8h1.3M268.5 58.5h1.3M260.6 65.6h1.3M270.5 62h1.3M277.4 56.6h1.3M264.4 63.6h1.3M270.1 56.4h1.3M263.4 62.7h1.3M267 59.9h1.3M262.3 63h1.3M254.3 70.3h1.3M242.6 84.3h1.3M277.3 51.3h1.3M267 62.1h1.3M255.7 71.5h1.3M279.5 47h1.3M282.6 47.7h1.3M261 67.2h1.3M260 65.8h1.3M253.4 72.7h1.3M264.8 63.8h1.3M264.5 63.4h1.3M251.4 75h1.3M261.9 67.8h1.3M267.3 63.4h1.3M252.8 73.2h1.3M278 50.6h1.3M244.4 78.1h1.3M242.6 83h1.3M272.9 56.5h1.3M276.1 54.3h1.3M246.2 80.9h1.3M263.6 63.8h1.3M274.3 52.5h1.3M272 56.7h1.3M261.3 63.3h1.3M276.9 51.9h1.3M276.1 52.5h1.3M280.9 46.2h1.3M266.7 62h1.3M251.8 74.4h1.3M271.7 57.9h1.3M266.8 59.9h1.3M265.1 63.9h1.3M253.8 78.3h1.3M254.6 73h1.3M257.8 71.8h1.3M256.7 68.6h1.3M264.8 62h1.3M267.5 55.9h1.3M243.9 81.9h1.3M240.1 81.8h1.3M250.1 77h1.3M256.7 64.6h1.3M261.9 63.3h1.3M254.4 72.9h1.3M266.2 62.6h1.3M273.3 51.4h1.3M263.9 62.7h1.3M259.4 75.7h1.3M260.9 68.8h1.3M243.4 83.5h1.3M249.5 68.6h1.3M275.5 51h1.3M241.7 86.4h1.3M261.8 66.4h1.3M266.3 62.7h1.3M270.5 59.9h1.3M264 64h1.3M253.3 76.4h1.3M264.8 58.4h1.3M254.8 80.5h1.3M249.7 76.1h1.3M257.4 68h1.3M248.8 83h1.3M249 79.7h1.3M271.7 58.7h1.3M252.2 72.8h1.3M248.1 79.4h1.3M256.2 73.1h1.3M268 57.2h1.3M246.3 79.4h1.3M251.5 74.5h1.3M258.8 67.7h1.3M265.9 60.2h1.3M254.1 69.1h1.3M251 77.2h1.3M266.3 62.2h1.3M259.3 71.5h1.3M255.3 71.6h1.3M271 55.6h1.3M250.8 71.4h1.3M280.8 48.2h1.3M253.2 72.7h1.3M252.5 81.1h1.3M264.2 69.9h1.3M257.1 74.9h1.3M238.7 83.8h1.3M273 52.3h1.3M266.7 60.5h1.3M250.2 73.7h1.3M245.6 86h1.3M248.1 78.9h1.3M258.9 67.2h1.3M242.7 83.4h1.3M250.1 80.9h1.3M266.7 58.8h1.3M264.6 64.4h1.3M252.7 70.2h1.3M256.2 70.3h1.3M265.7 60.4h1.3M256.3 71.8h1.3M251.1 76.2h1.3M274.9 56.1h1.3M278 52h1.3M239.9 83.9h1.3M279.2 47h1.3M259.1 65.9h1.3M276.3 51.3h1.3M276.2 51.8h1.3M277 50h1.3M252.3 78.1h1.3M243.8 85.9h1.3M249.2 76.6h1.3M269.7 57.1h1.3M277.4 50.7h1.3M265.9 61.8h1.3M268.9 59.1h1.3M280.9 45h1.3M272.3 54.9h1.3M245.5 74.6h1.3M254.7 72.4h1.3M273.9 55.9h1.3M258.6 65.7h1.3M268.8 59.6h1.3M248.9 75.7h1.3M281.4 46.2h1.3M265.9 67.2h1.3M250.6 79.1h1.3M271.5 57.8h1.3M262.1 64.2h1.3M241.3 86.3h1.3M260.2 66.7h1.3M272.6 56.7h1.3M242.5 80.5h1.3M263.4 64h1.3M267.2 59.7h1.3M268 56.6h1.3M279.4 52.7h1.3M259.2 70.5h1.3M248.2 75.7h1.3M274.6 50.7h1.3M280.5 46.9h1.3M262.8 62.6h1.3M267.7 58.7h1.3M267.7 56.5h1.3M271.1 55.1h1.3M261.2 66.4h1.3M261.4 67.2h1.3M242.2 77.1h1.3M263.5 64.1h1.3M252.4 71.4h1.3M260.3 64.2h1.3M279.1 48.9h1.3M269 57.3h1.3M259.3 70h1.3M284.1 46.2h1.3M261.7 65h1.3M265.4 60.7h1.3M251.3 81.5h1.3M244.5 88.8h1.3M263.7 64.9h1.3M256 70.6h1.3M255 75.2h1.3M249.4 82.2h1.3M274.1 53.1h1.3M278.6 53.8h1.3M263.6 63.6h1.3M273.8 57h1.3M277.4 50.1h1.3M275.6 53h1.3M251.1 74.2h1.3M276.4 52.2h1.3M245.4 84.6h1.3M251.9 72.1h1.3M255.4 70.8h1.3M257.3 71.5h1.3M260.3 65.8h1.3M282.7 50.1h1.3M244.9 76.4h1.3M280.1 53.8h1.3M241 82.7h1.3M253.9 76.2h1.3M262.8 69.3h1.3M250.7 77.8h1.3M257.1 66h1.3M261 65.5h1.3M268.1 60h1.3M260.2 68.8h1.3M260.6 69.7h1.3M261 69.7h1.3M256.4 75.3h1.3M272.2 53.9h1.3M278 52.7h1.3M262 60.9h1.3M264.9 63.2h1.3M275.1 51.1h1.3M242.7 77.3h1.3M250.4 79.4h1.3M274.5 53.7h1.3M242.9 87h1.3M252.4 69.6h1.3M273.3 52.3h1.3M253.6 73h1.3M271.6 55.1h1.3M242.6 83.9h1.3M250.7 74h1.3M259.8 66.6h1.3M263.6 61h1.3M249.7 81.4h1.3M261.8 64.8h1.3M246.8 75.7h1.3M263.5 66h1.3M267.1 62h1.3M255.1 72.6h1.3M253.7 74h1.3M257.1 68.9h1.3M250.4 75.9h1.3M243.7 75h1.3M247.2 74.1h1.3M261.4 62.7h1.3M263.7 64.7h1.3M265.8 65.2h1.3M246.9 79h1.3M247 78.5h1.3M269.6 61.2h1.3M245.6 79.5h1.3M244.1 84.6h1.3M267.4 61.6h1.3M254.3 68.6h1.3M247.2 80.4h1.3M278.8 50.2h1.3M262.5 62h1.3M257.5 66.7h1.3M242 79.6h1.3M257.4 74h1.3M267.9 65.5h1.3M277.8 52.3h1.3M272.4 59.6h1.3M264.9 59.3h1.3M256.2 75.3h1.3M262.6 70.6h1.3M247.7 84.6h1.3M240.4 82.1h1.3M257.4 73.1h1.3M262.3 64.9h1.3M248.4 81.9h1.3M269.3 57.1h1.3M258.5 68.8h1.3M241.5 82.5h1.3M257.1 71.5h1.3M258.1 68.8h1.3M278.9 52.1h1.3M278.1 52.2h1.3M266.8 62.1h1.3M272.7 55.5h1.3M255 71.1h1.3M268.1 59.8h1.3M264.6 65.1h1.3M259.7 68.1h1.3M258.7 69.5h1.3M255.2 71.7h1.3M262 65.3h1.3M280.8 46.7h1.3M246.1 74h1.3M245.6 82.8h1.3M263.5 65.7h1.3M269.2 56.5h1.3M249.6 83.8h1.3M256.6 67h1.3M262 68.4h1.3M269 59.6h1.3M253.3 74.7h1.3M264.8 66h1.3M252.2 77.7h1.3M264.3 63.4h1.3M251.2 72.2h1.3M264.3 60.2h1.3M272.9 55.8h1.3M259.4 72.7h1.3M269.5 60.7h1.3M244.2 81.9h1.3M247.7 80h1.3M274.8 55.2h1.3M252.9 79.7h1.3M254.3 70.3h1.3M260.8 68.7h1.3M267.8 60.8h1.3M260.3 65h1.3M257 67.2h1.3M272 59.3h1.3M256.8 71.4h1.3M266.3 61h1.3M252 75.2h1.3M271.2 59.3h1.3M270.6 57.7h1.3M258.9 73.3h1.3M261.6 65.2h1.3M252.1 72.2h1.3M240.8 84.8h1.3M247.3 76.1h1.3M248.8 76.6h1.3M281.2 50h1.3M255.3 77.2h1.3M263 66.3h1.3M253.8 73.8h1.3M248.3 75.2h1.3M241.4 81h1.3M252.4 75.6h1.3M262 66h1.3M258.1 67.5h1.3M246.7 78.2h1.3M261.8 70.2h1.3M255 75.2h1.3M272.7 55.6h1.3M254.2 73.5h1.3M257.9 73.2h1.3M254.9 73.3h1.3M270 58.7h1.3M241.7 78.7h1.3M263.3 59.9h1.3M245.1 74.7h1.3M269 53.7h1.3M253.7 73.2h1.3M249.2 78.5h1.3M254.3 70h1.3M244.1 83.8h1.3M248.2 79.9h1.3M254.9 71.9h1.3M251.3 70.8h1.3M252.5 79.2h1.3M253.5 78h1.3M261.2 64.6h1.3M256.3 77.1h1.3M253.7 73.4h1.3M245.1 78.5h1.3M275.2 52.4h1.3M269.9 53.8h1.3M269 58.2h1.3M254.8 67.4h1.3M253.8 76.9h1.3M267.7 61h1.3M277.5 48.3h1.3M269.7 59.8h1.3M268.8 55.1h1.3M264.5 63.6h1.3M271.4 57.9h1.3M266 61.9h1.3M250.8 72.3h1.3M252 74.5h1.3M252.1 74.1h1.3M241 85.3h1.3M278.6 53.1h1.3M250.3 82.3h1.3M253.5 78.7h1.3M266.9 59.3h1.3M258.1 67h1.3M246.9 79.6h1.3M264.5 64.4h1.3M269.9 53.4h1.3M255.6 69.6h1.3M260.1 72.7h1.3M241 80.5h1.3M251.4 73h1.3M253.9 70.9h1.3M255.1 73.4h1.3M267.1 60.6h1.3M245.3 79.9h1.3M237.8 82.3h1.3M273 56.7h1.3M256 71.1h1.3M242.1 81.6h1.3M281.3 47.5h1.3M249.7 79.7h1.3M268.7 55.7h1.3M258.6 64.2h1.3M271.9 53.9h1.3M268.1 57.7h1.3M279.2 43.8h1.3M267.3 59h1.3M256.3 74.3h1.3M251.9 73.8h1.3M262.4 68.1h1.3M264 56.3h1.3M247.7 78.5h1.3M257.8 73.8h1.3M263.1 69h1.3M249.5 75.4h1.3M241.4 81.7h1.3M273.3 55.9h1.3M260.9 63.2h1.3M239.8 84.8h1.3M242.7 77.5h1.3M242.8 83.7h1.3M250.9 75.8h1.3M254.3 78h1.3M248.3 79.5h1.3M263.2 62.6h1.3M260 67.1h1.3M248 74.2h1.3M258 69.4h1.3M249.5 76.4h1.3M256.3 72.1h1.3M248.4 81.5h1.3M239.5 79.1h1.3M271 57.9h1.3M265 64.7h1.3M256.5 67.1h1.3M267.4 65.6h1.3M251.4 73.1h1.3M268.2 66.3h1.3M264.9 65h1.3M249.3 80.7h1.3M257.9 70.2h1.3M269.3 61.3h1.3M257.1 67h1.3M246.4 77.2h1.3M248.6 71.5h1.3M249.3 79.2h1.3M249.4 74.9h1.3M262.3 67.3h1.3M258.1 70.9h1.3M237.7 83h1.3M248.8 80.3h1.3M258.6 69.4h1.3M278 51h1.3M253.1 75.3h1.3M247.6 78.8h1.3M244.5 81.9h1.3M266.4 64.2h1.3M255.4 68.6h1.3M244 78h1.3M252.2 72.2h1.3M275.8 54.9h1.3M255.8 70.3h1.3M262.2 70.9h1.3M236.7 77.6h1.3M268.2 57.9h1.3M275.9 51.6h1.3M264.3 64.1h1.3M264.9 66.5h1.3M247.8 78.1h1.3M242.2 80.3h1.3M245.4 84h1.3M276.4 55.5h1.3M240.2 76.6h1.3M258.2 70.8h1.3M273.4 55.5h1.3M242.2 80.9h1.3M252.6 72.7h1.3M251.2 76.6h1.3M282.5 46.4h1.3M272.4 55.2h1.3M272.5 53.1h1.3M254.4 73.5h1.3M260.7 64.9h1.3M249.2 77.7h1.3M249.2 75.5h1.3M255.6 72.1h1.3M266.3 63.5h1.3M271.4 57.3h1.3M260.9 68.5h1.3M260.6 63h1.3M258 70.6h1.3M258.6 69.5h1.3M267.3 59h1.3M265.3 62h1.3M245.8 71.2h1.3M265 62.9h1.3M243.3 81.4h1.3M244.3 74.2h1.3M247 81.2h1.3M245.9 78.3h1.3M246.2 81.2h1.3M246.1 79.5h1.3M247.8 80.4h1.3M265.5 62.4h1.3M267.4 59.8h1.3M266.2 62.9h1.3M244.8 84.5h1.3M248.5 70.6h1.3M246.2 80.3h1.3M259.4 66.2h1.3M272.4 53.3h1.3M248.8 82.4h1.3M256 74.1h1.3M269 56.4h1.3M265.8 59.1h1.3M271.2 58.9h1.3M241.1 82.6h1.3M262.3 64.3h1.3M251.2 69.3h1.3M246.1 79.8h1.3M246.3 84.2h1.3M264.7 61.7h1.3M255.8 70.9h1.3M258.3 74.4h1.3M261.1 68.9h1.3M262.1 69.6h1.3M242 86.5h1.3M271 60h1.3M265.1 58.3h1.3M266.1 59.5h1.3M275.9 49.1h1.3M270.5 63.2h1.3M254.3 73.2h1.3M244.5 81.3h1.3M277.6 49.4h1.3M249.7 73.6h1.3M257.6 61.6h1.3M271 62.7h1.3M252.6 74h1.3M253.3 73.8h1.3M258.1 65.1h1.3M261.1 66.1h1.3M258.8 69.6h1.3M260.8 66.4h1.3M256.6 72.5h1.3M247.6 76.1h1.3M255.3 72.7h1.3M251.2 78.6h1.3M276.2 53.5h1.3M253.1 75h1.3M272.6 55.4h1.3M268.2 57.3h1.3M241.6 86.6h1.3M258 68h1.3M254.6 69.5h1.3M263.2 66.5h1.3M281.6 44.3h1.3M267.2 59.2h1.3M251.1 78.3h1.3M252.9 77.1h1.3M258.1 68h1.3M268.3 59.8h1.3M267.5 61.8h1.3M263.2 64.2h1.3M267.6 58.4h1.3M275.7 53.7h1.3M269.4 59h1.3M270.4 57.9h1.3M263.2 67.5h1.3M254.3 73.6h1.3M251.6 73.7h1.3M248.2 78.9h1.3M264 69.1h1.3M267 59h1.3M254.5 71.6h1.3M245.8 77.8h1.3M270.6 58.3h1.3M248.8 73.6h1.3M249.6 78.5h1.3M278.5 51.7h1.3M243.8 79.6h1.3M260.9 64.1h1.3M247.5 74h1.3M259.2 68.2h1.3M252.3 71h1.3M248.3 76.1h1.3M285.6 42.1h1.3M290.9 38.2h1.3M293.4 37.7h1.3M285.4 43.6h1.3M286.1 42.9h1.3M292 38.9h1.3M288.4 42.2h1.3M296.1 36.4h1.3M290.2 39.2h1.3M286.3 43.8h1.3M291.2 39.8h1.3M286.9 41.5h1.3M290.4 39.8h1.3M287.3 41.1h1.3M291.8 38.2h1.3M287.1 42.9h1.3M286.6 40.7h1.3M293.9 35.8h1.3M286.5 41.9h1.3M294.6 36.2h1.3M293.4 36.4h1.3M287.3 42.7h1.3M286.7 41.7h1.3M290.2 39.2h1.3M292.7 38.5h1.3M226.3 94.2h1.3M225.6 102.6h1.3M224.8 107.4h1.3M229 94.3h1.3M230.5 102.3h1.3M223.5 106.8h1.3M222.1 110.3h1.3M220.9 103.6h1.3M231.9 106.3h1.3M221.4 112.7h1.3M219.7 110.4h1.3M226.1 101.8h1.3M229.2 101h1.3M220.1 109.1h1.3M224.5 105.1h1.3M219.3 101.3h1.3M222.2 102.8h1.3M231.5 105.6h1.3M225.7 103h1.3M224 102.7h1.3M225.3 102.8h1.3M226.1 96.6h1.3M224.6 112.6h1.3M220.3 110.1h1.3M220.3 111.5h1.3M233 103.3h1.3M222 104.6h1.3M229.8 106.9h1.3M222.1 108.1h1.3M230.2 94.9h1.3M227.8 105.8h1.3M224.2 99h1.3M233 103.6h1.3M221.3 100.7h1.3M224.1 112.5h1.3M221.6 106.7h1.3M221.9 103.9h1.3M223.6 110.9h1.3M221.2 103.6h1.3M223.7 100.4h1.3M231.3 103.1h1.3M218.1 102.2h1.3M220 104.2h1.3M221.2 108.2h1.3M223.1 103.4h1.3M229 103.7h1.3M227.9 109h1.3M226.9 105.4h1.3M225.8 108.7h1.3M234.5 104.7h1.3M220.5 97.5h1.3M220.4 98.4h1.3M224.9 95.8h1.3M225.8 109.6h1.3M224.1 106.1h1.3M221.7 101.6h1.3M219.8 99.1h1.3M223.9 105.8h1.3M222.2 103.3h1.3M223.1 105.6h1.3M220.7 99.8h1.3M230.3 98.5h1.3M226.8 111.8h1.3M232.4 99.3h1.3M222.9 103.9h1.3M225.2 110.6h1.3M224 94.9h1.3M225.1 107.5h1.3M224 104.3h1.3M224.3 103.3h1.3" stroke="#111" stroke-width="1.3" fill="none"/>
<path d="M299.5 33v238" stroke="#3d4848" stroke-width="1.2" fill="none"/>
<path d="M61.5 33.2h238.5" stroke="#3d4848" stroke-width="1.7" fill="none"/>
<path d="M64.5 33v238M61 268.2h238.5" stroke="#2f3838" stroke-width="1.4" fill="none"/>
<path d="M64 250.3h-1.5M64 240.0h-1.5M64 232.6h-1.5M64 226.9h-1.5M64 222.3h-1.5M64 218.4h-1.5M64 214.9h-1.5M64 211.9h-1.5M64 191.6h-1.5M64 181.2h-1.5M64 173.9h-1.5M64 168.2h-1.5M64 163.5h-1.5M64 159.6h-1.5M64 156.2h-1.5M64 153.2h-1.5M64 132.8h-1.5M64 122.5h-1.5M64 115.1h-1.5M64 109.4h-1.5M64 104.8h-1.5M64 100.9h-1.5M64 97.4h-1.5M64 94.4h-1.5M64 74.1h-1.5M64 63.7h-1.5M64 56.4h-1.5M64 50.7h-1.5M64 46.0h-1.5M64 42.1h-1.5M64 38.7h-1.5M64 35.7h-1.5M82.0 268v1.5M92.3 268v1.5M99.7 268v1.5M105.4 268v1.5M110.0 268v1.5M113.9 268v1.5M117.4 268v1.5M120.4 268v1.5M140.7 268v1.5M151.1 268v1.5M158.4 268v1.5M164.1 268v1.5M168.8 268v1.5M172.7 268v1.5M176.1 268v1.5M179.1 268v1.5M199.5 268v1.5M209.8 268v1.5M217.2 268v1.5M222.9 268v1.5M227.5 268v1.5M231.4 268v1.5M234.9 268v1.5M237.9 268v1.5M258.2 268v1.5M268.6 268v1.5M275.9 268v1.5M281.6 268v1.5M286.3 268v1.5M290.2 268v1.5M293.6 268v1.5M296.6 268v1.5M123 268v3M181.7 268v3M240.4 268v3M64.5 268v3.5" stroke="#2f3838" stroke-width="0.8" fill="none"/>
<g stroke="#8b9797" stroke-width="1" fill="none"><rect x="96.6" y="61.5" width="68.9" height="199.9"/><rect x="165.5" y="97.5" width="39.8" height="101.9"/><rect x="-60.5" y="-12.65" width="121" height="25.3" transform="translate(254.5 74.3) rotate(-42.6)"/></g>
<g font-weight="bold" font-size="12.5" fill="#000" stroke="#000" stroke-width="0.25"><text x="97.5" y="83.9">P1</text><text x="185" y="119.6">P2</text><text x="273.5" y="86.8">P3</text></g>
<g fill="#222"><text x="63.2" y="284" font-size="10">10<tspan font-size="9" dy="-5.0">0</tspan></text><text x="118.8" y="284" font-size="10">10<tspan font-size="9" dy="-5.0">1</tspan></text><text x="175.1" y="284" font-size="10">10<tspan font-size="9" dy="-5.0">2</tspan></text><text x="230.6" y="284" font-size="10">10<tspan font-size="9" dy="-5.0">3</tspan></text><text x="287.2" y="284" font-size="10">10<tspan font-size="9" dy="-5.0">4</tspan></text></g>
<g fill="#222"><text transform="translate(60.1 268.1) rotate(-90)" font-size="10">10<tspan font-size="9" dy="-5.0">0</tspan></text><text transform="translate(60.1 210.8) rotate(-90)" font-size="10">10<tspan font-size="9" dy="-5.0">1</tspan></text><text transform="translate(60.1 153.0) rotate(-90)" font-size="10">10<tspan font-size="9" dy="-5.0">2</tspan></text><text transform="translate(60.1 93.6) rotate(-90)" font-size="10">10<tspan font-size="9" dy="-5.0">3</tspan></text><text transform="translate(60.1 35.9) rotate(-90)" font-size="10">10<tspan font-size="9" dy="-5.0">4</tspan></text></g>
<text x="120" y="299" font-size="12" fill="#222">Green Fluorescence</text>
<text transform="translate(41.6 207) rotate(-90)" font-size="12" fill="#222">Red Fluorescence</text>
<text x="1.5" y="17.5" font-size="19" font-weight="bold" fill="#000">a</text>
<path d="M457.8 48.4v222M402 214.9h221.5M513.1 48.4v222M402 159.4h221.5M568.4 48.4v222M402 103.9h221.5" stroke="#c9cfcf" stroke-width="1" fill="none"/>
<path d="M448.7 113.4h1.3M435.3 126.4h1.3M467.7 120.8h1.3M469.9 111.4h1.3M473.2 114.3h1.3M484.3 114.5h1.3M458.6 102.3h1.3M469.2 93h1.3M474.8 118.4h1.3M464.8 119.5h1.3M489.6 106.7h1.3M468.3 125.3h1.3M468.6 109.1h1.3M470.4 129h1.3M465.7 135.3h1.3M460 114.7h1.3M452.9 130.3h1.3M465.6 120.2h1.3M441.2 123.8h1.3M475.4 121.3h1.3M477.9 119.9h1.3M463.8 115.4h1.3M470.7 116.3h1.3M445.7 132.4h1.3M464.8 123.9h1.3M455 117.8h1.3M469.4 109.8h1.3M429.3 116.2h1.3M452 134.8h1.3M466.1 104.2h1.3M495.7 119.4h1.3M448.1 104.9h1.3M461.4 121.2h1.3M463.3 123.5h1.3M484.7 93.7h1.3M469.5 111.2h1.3M453.6 137.5h1.3M465.3 114.1h1.3M486.2 134h1.3M464.7 123h1.3M466 125h1.3M491.8 118h1.3M471.2 116h1.3M477.4 116.1h1.3M458.5 130.3h1.3M458.5 124h1.3M461.8 107h1.3M472.3 118.7h1.3M456.5 117h1.3M472.6 99.8h1.3M424.4 128.6h1.3M433.2 125.3h1.3M461.3 120.9h1.3M471.6 131.7h1.3M440.2 125.9h1.3M466.7 134.1h1.3M453.4 113.8h1.3M469.9 107.7h1.3M467.7 133.2h1.3M452.6 124.5h1.3M472.7 100.8h1.3M462.4 114.7h1.3M476.2 105.2h1.3M449 117.4h1.3M461.6 151.9h1.3M456.4 127.9h1.3M479.1 128.9h1.3M456.9 117.8h1.3M455.7 130.9h1.3M476.4 124.1h1.3M481.3 110.2h1.3M473.8 119.9h1.3M459.6 121.6h1.3M457.7 114.3h1.3M449 126.9h1.3M482.6 130.2h1.3M459.7 113h1.3M454.9 125.5h1.3M455.9 114.3h1.3M466.5 105.5h1.3M457 115.5h1.3M464.3 125.8h1.3M466.2 125.2h1.3M481.3 131h1.3M455.2 119.9h1.3M470.4 132.1h1.3M457.8 135.4h1.3M464.2 133.1h1.3M462.1 113.8h1.3M465.5 100h1.3M456.3 124.1h1.3M459.1 128.7h1.3M454.4 120.3h1.3M476.2 124h1.3M448.7 134h1.3M455.3 129.1h1.3M463.1 117.2h1.3M473.4 131.4h1.3M476.7 119.4h1.3M471.7 117.9h1.3M478.1 107.7h1.3M463.2 116.6h1.3M454.7 114.5h1.3M475.6 118.3h1.3M459.9 113.6h1.3M467.5 105.1h1.3M480.2 116.4h1.3M468.7 129.3h1.3M469.8 117.4h1.3M452 112.7h1.3M486.7 122.2h1.3M452.4 114.6h1.3M466.2 117.4h1.3M454.1 132.3h1.3M456.9 107.2h1.3M473.1 121.5h1.3M475.5 112.4h1.3M473.3 121.9h1.3M466.3 106.8h1.3M467.1 121.8h1.3M469.2 110.4h1.3M446.3 114.9h1.3M439.4 123.7h1.3M465.8 117.8h1.3M475.3 121h1.3M466.8 133.2h1.3M457.4 115.7h1.3M460.4 124.9h1.3M443.6 123.5h1.3M472.9 120.1h1.3M467.2 140.6h1.3M477.5 115h1.3M481.1 125.8h1.3M471.4 137.3h1.3M462 134.9h1.3M468 128.5h1.3M481.1 120.1h1.3M480.5 126.5h1.3M470.3 126.1h1.3M463.2 138.3h1.3M453.4 134.7h1.3M460.2 142.5h1.3M466.9 142.6h1.3M477.7 122.3h1.3M454.8 117.3h1.3M474.4 101.6h1.3M494.1 118.7h1.3M447 146.2h1.3M477 128.5h1.3M489.6 126.1h1.3M480 99.1h1.3M463.7 118.6h1.3M453.3 123h1.3M463.5 102.6h1.3M467.3 104.7h1.3M483.7 121.5h1.3M454.9 111.6h1.3M472.9 101.5h1.3M474.5 128.9h1.3M458.1 109.2h1.3M496.8 117h1.3M452.4 119h1.3M432.2 128.8h1.3M445.7 115.4h1.3M440.2 126.7h1.3M484.7 133.9h1.3M457.1 98.5h1.3M488.2 134.1h1.3M440.3 113.5h1.3M473.1 108h1.3M453.1 116.3h1.3M476.9 123.7h1.3M478.5 112.5h1.3M490.1 115.5h1.3M463.4 120.8h1.3M459.2 138.6h1.3M455.7 127h1.3M465.3 121h1.3M468.1 134.2h1.3M434 110.5h1.3M486.3 126.5h1.3M483.1 120.5h1.3M480.3 129.5h1.3M477.1 115.5h1.3M485.1 117.9h1.3M446.1 123.4h1.3M473.4 126.3h1.3M451.5 122.1h1.3M478.6 132.7h1.3M464.4 118.7h1.3M486.4 101.7h1.3M456.8 113h1.3M456.6 117.3h1.3M447.4 127.7h1.3M468 117.8h1.3M460 109.2h1.3M460.8 126.6h1.3M460.9 112.2h1.3M485.3 111.7h1.3M460.3 106.7h1.3M463.3 125.4h1.3M467.6 114.4h1.3M462 107.7h1.3M453 108.7h1.3M464.1 124.4h1.3M448.7 131.4h1.3M462.7 106.5h1.3M467.7 99.8h1.3M474.6 122.2h1.3M458.7 146.8h1.3M433.8 131h1.3M456.3 109.2h1.3M461.6 102.5h1.3M440.6 127.1h1.3M499.7 92.5h1.3M443.7 117.2h1.3M453.4 124.7h1.3M460.9 115.2h1.3M470.4 118.4h1.3M469.2 110.9h1.3M447 112.3h1.3M465 115.1h1.3M484.9 120.9h1.3M466.5 116.9h1.3M441.5 132.6h1.3M447.9 101.8h1.3M465.5 117h1.3M465.7 124.6h1.3M464 132h1.3M489.9 102.7h1.3M437.9 111.3h1.3M450.7 133.9h1.3M471.1 110.3h1.3M454.1 131.2h1.3M452.3 116.2h1.3M460.8 116.8h1.3M498.3 123.2h1.3M450.6 115.7h1.3M455.9 111.1h1.3M480.4 107.3h1.3M466.1 116.7h1.3M490.5 106.4h1.3M469.4 127.2h1.3M467.7 125.8h1.3M458.5 130.4h1.3M469.1 130.3h1.3M457.5 126.9h1.3M496.3 110.4h1.3M476.8 144.7h1.3M457.1 122.2h1.3M462.8 105.4h1.3M454.6 130.8h1.3M482 131.9h1.3M465.2 101.7h1.3M478.1 112.9h1.3M447.8 134.2h1.3M457.3 142.8h1.3M461.6 107.3h1.3M464.7 130.5h1.3M470.7 116.1h1.3M467 92h1.3M448.2 114.2h1.3M480.6 132.1h1.3M487.3 131.5h1.3M482.4 125.4h1.3M475.6 114.4h1.3M483.1 110.6h1.3M462.4 131.7h1.3M452.8 118.9h1.3M471.6 111.7h1.3M447.7 155.5h1.3M457.5 101.6h1.3M470 116.5h1.3M457.4 124.9h1.3M482.2 102.7h1.3M455.1 124h1.3M451.9 106.4h1.3M466.9 110.7h1.3M454.7 106.6h1.3M454.5 125.6h1.3M454.6 129.9h1.3M466.5 124.1h1.3M454.7 116.4h1.3M458.6 123.8h1.3M479 113.3h1.3M455.2 108.1h1.3M454 128.5h1.3M483.6 123.8h1.3M474.8 100.4h1.3M453.9 139.1h1.3M460 136.5h1.3M480.6 110.8h1.3M425.4 149.7h1.3M432.2 89.6h1.3M442 114.2h1.3M433.3 153.1h1.3M440.7 155.6h1.3M449.7 162.8h1.3M419.3 150.8h1.3M445.6 100.3h1.3M473.6 143.9h1.3M454.1 140.4h1.3M434.8 112.5h1.3M452.5 139.6h1.3M431.3 110.8h1.3M464.7 144.5h1.3M464.9 112.4h1.3M450.4 164.7h1.3M450.3 102.9h1.3M473.5 145.8h1.3M456 130.2h1.3M447.2 122.8h1.3M451 108.4h1.3M466.9 136.8h1.3M451.6 165.6h1.3M447.9 92.4h1.3M427.7 132.8h1.3M455.1 144.6h1.3M467 108h1.3M453.4 137.6h1.3M465.8 140.7h1.3M409.5 115.8h1.3M445.6 127.4h1.3M466.8 117h1.3M467.2 163.5h1.3M433 167.4h1.3M464.1 150.4h1.3M453.6 141.3h1.3M479.1 128h1.3M422.8 175.2h1.3M478.2 179.9h1.3M464.3 129.1h1.3M455 102.9h1.3M468.9 139.5h1.3M459.2 98.1h1.3M464.8 154.3h1.3M453.2 177.9h1.3M470.3 158.8h1.3M446.8 114.4h1.3M452.6 140.8h1.3M453.6 134.9h1.3M441.8 126h1.3M466.3 176.2h1.3M432 138.6h1.3M434.7 133h1.3M450.4 159.6h1.3M452.4 173h1.3M462.8 167.7h1.3M462.7 119.6h1.3M462.5 133h1.3M438.6 143.2h1.3M460.6 132.9h1.3M450.1 159.5h1.3M434 170.5h1.3M458.6 128.3h1.3M446.5 108.3h1.3M458.2 149h1.3M463.8 125.9h1.3M451.5 165h1.3M460.3 178.1h1.3M447.9 84h1.3M486.9 130.4h1.3M441.9 129.6h1.3M453 152.2h1.3M420.2 201.1h1.3M467.8 129.1h1.3M440 150.9h1.3M479.4 100.7h1.3M450.3 158.8h1.3M441.8 109.9h1.3M470.5 122.9h1.3M454.9 152.6h1.3M449.8 160.1h1.3M434.6 169h1.3M441.4 193.2h1.3M457.9 96.4h1.3M494.7 177.2h1.3M434.7 120.7h1.3M451 186.8h1.3M440 162.6h1.3M434.8 156.8h1.3M455.8 99.8h1.3M427.8 135.9h1.3M469.3 144.8h1.3M475.5 120.1h1.3M451.7 136.9h1.3M445.6 125h1.3M445.9 101.1h1.3M441 190.6h1.3M468.9 167.6h1.3M459.5 130.7h1.3M422.2 181.1h1.3M467.7 148.9h1.3M465.2 164.7h1.3M440.8 138.9h1.3M452.5 174.1h1.3M457.3 181.9h1.3M431 157.5h1.3M460.8 130.1h1.3M445.6 156h1.3M440.5 127.3h1.3M450.7 130h1.3M464.7 182.8h1.3M455.7 160.9h1.3M440.6 177.8h1.3M467.7 120.9h1.3M445.3 102.7h1.3M453 118.2h1.3M429.8 172.5h1.3M464.6 159.8h1.3M457.4 129.9h1.3M452.3 159.2h1.3M463.7 114.7h1.3M466.5 150.6h1.3M441.6 124.9h1.3M464.3 138.1h1.3M424.4 136.5h1.3M475.1 152.7h1.3M467.6 137.8h1.3M450.9 121.2h1.3M458.9 118.5h1.3M467.6 147.8h1.3M444.1 156.7h1.3M439.9 121.9h1.3M466 104.6h1.3M440.2 139.2h1.3M477.4 154.5h1.3M453.3 123.1h1.3M474.2 161.3h1.3M449.1 136.7h1.3M465.7 152.6h1.3M439.7 168.8h1.3M491.5 128.4h1.3M463.2 136.6h1.3M452.1 154.4h1.3M490.2 142.8h1.3M484.8 144.7h1.3M477.4 184.4h1.3M444.3 152.5h1.3M464.6 136.1h1.3M444.3 157.2h1.3M452.2 127.5h1.3M460.9 169h1.3M456.1 154.4h1.3M483.5 135h1.3M468.1 142.7h1.3M445.8 146.8h1.3M456.4 128.3h1.3M447.4 168.3h1.3M466.8 147.3h1.3M459.1 149.9h1.3M434.3 144.8h1.3M428.6 130.7h1.3M452.4 129.3h1.3M439.1 145h1.3M451.4 145.8h1.3M448.1 127.5h1.3M475.8 140h1.3M455 149.9h1.3M474.3 144.9h1.3M449.5 190.2h1.3M459.4 254.6h1.3M467.7 207.7h1.3M457.8 182.9h1.3M425.7 210.2h1.3M453.2 202.4h1.3M449 156.9h1.3M455.1 189.4h1.3M439 202.3h1.3M458.2 176.4h1.3M448.8 207.8h1.3M444 231.1h1.3M427 193.4h1.3M455.9 190.1h1.3M456.2 213.2h1.3M453.6 235.2h1.3M440.2 235.4h1.3M449.8 236h1.3M436.8 187.6h1.3M440.9 213.2h1.3M440 194.2h1.3M440.8 224.6h1.3M446.7 194.9h1.3M448 199.8h1.3M441.2 255.2h1.3M468.8 208.8h1.3M462.4 214h1.3M436.2 190.4h1.3M467.6 190h1.3M424.5 215h1.3M445.6 201.6h1.3M435.5 259h1.3M447.5 155.3h1.3M450.3 215.2h1.3M458.7 161.6h1.3M456.8 190.3h1.3M435.8 237h1.3M452.2 228.9h1.3M436.6 222.1h1.3M428.7 213.5h1.3M440.9 247.3h1.3M439.7 241.2h1.3M443.9 201.4h1.3M432.9 259.9h1.3M436.5 236.8h1.3M458.6 174h1.3M465.7 183.2h1.3M437.9 257.1h1.3M461.3 151.7h1.3M476.1 209.7h1.3M469.8 118.8h1.3M437.6 193.8h1.3M453.8 196.5h1.3M434 240.8h1.3M448.3 149.5h1.3M449.5 178.6h1.3M450.7 192.9h1.3M463.5 242.7h1.3M463.6 201.3h1.3M435.1 224.5h1.3M428.8 250.1h1.3M449.6 238.2h1.3M444.3 215.1h1.3M442.3 188.3h1.3M439.5 203.4h1.3M432.1 182.4h1.3M431 189.5h1.3M463.5 243.4h1.3M434.9 178.2h1.3M444.4 186.7h1.3M436.7 222.2h1.3M460.3 207.9h1.3M464.4 163.8h1.3M458.9 182.3h1.3M461.3 189.5h1.3M445.5 230.3h1.3M448.9 260.6h1.3M428.2 209.1h1.3M458.3 249h1.3M455.9 162.8h1.3M455.1 246.7h1.3M462.1 180.4h1.3M443.7 270.9h1.3M444.8 190.9h1.3M445 248.1h1.3M446.1 217.7h1.3M432.2 232.5h1.3M445.6 141.6h1.3M469.2 204.6h1.3M447.6 226.4h1.3M464.1 192.5h1.3M456.7 240.8h1.3M452.7 186.2h1.3M446 165.7h1.3M448.6 158.5h1.3M458.1 228.2h1.3M427.8 201.3h1.3M459.7 202.7h1.3M443.7 163.8h1.3M445 209.4h1.3M457.6 212.2h1.3M457.4 235.2h1.3M440.4 248.1h1.3M452.2 182.9h1.3M464.6 218h1.3M463.2 162.1h1.3M445.8 218.3h1.3M451.7 178.4h1.3M445.6 201.9h1.3M448.6 211.4h1.3M464.4 236.7h1.3M456.9 183.9h1.3M467.3 192.9h1.3M468.2 215.9h1.3M430.9 183.1h1.3M534.1 130.8h1.3M539.6 120h1.3M530.1 133.3h1.3M525.5 135.1h1.3M525.5 132h1.3M524.7 133.7h1.3M544.9 119.4h1.3M541.8 131.2h1.3M532.7 124.4h1.3M530.5 126.6h1.3M545.4 126.8h1.3M537.6 133.4h1.3M528.9 129.6h1.3M528.5 126.8h1.3M519.9 148.4h1.3M520.8 132.3h1.3M525 134.8h1.3M539.4 127.5h1.3M523.9 128.2h1.3M521.4 106.8h1.3M536 134.8h1.3M524.6 141.9h1.3M532.5 123.8h1.3M543.8 123.8h1.3M525.7 125.9h1.3M527 123.7h1.3M528.8 110.3h1.3M539.6 111.6h1.3M526 142.2h1.3M532.8 129.5h1.3M530.9 143.8h1.3M529.9 117.6h1.3M532.7 132.9h1.3M526.1 134.1h1.3M527 126.6h1.3M522.6 135.4h1.3M523 130.2h1.3M529.7 110.2h1.3M530.5 126.3h1.3M528.8 135.2h1.3M529.8 118.5h1.3M537.7 141.7h1.3M524.6 127.7h1.3M529.4 134.2h1.3M535.2 114.2h1.3M539.5 128.2h1.3M535.1 124.4h1.3M527.3 126.6h1.3M531.1 126.8h1.3M530.8 132.2h1.3M544.6 117.4h1.3M530.6 128.3h1.3M530.5 127.3h1.3M537.4 146.2h1.3M522.5 118.1h1.3M527.4 120.6h1.3M530.9 133h1.3M528.8 126.1h1.3M536.7 119.9h1.3M535 121.5h1.3M526.9 132.4h1.3M524.2 136.1h1.3M543.2 128.4h1.3M522.2 129.4h1.3M533.1 133.7h1.3M528.1 136.6h1.3M535.2 126h1.3M536.7 120.7h1.3M527.3 142.2h1.3M530.1 139.9h1.3M539.7 130.1h1.3M538.8 119.2h1.3M540.9 129.2h1.3M542 124.4h1.3M529.9 133.9h1.3M529 134.9h1.3M526.8 146.6h1.3M521.2 126.8h1.3M535.2 128.3h1.3M534.9 128.6h1.3M531.7 128.5h1.3M525.7 131.5h1.3M543.6 113.2h1.3M530 144.6h1.3M542.5 122.7h1.3M540.6 127.8h1.3M543.8 128.2h1.3M547.2 124.4h1.3M539.2 127.2h1.3M526.1 148.8h1.3M524.9 142.7h1.3M528.2 125.7h1.3M518.6 139.8h1.3M532.8 142.8h1.3M535.5 132.1h1.3M518.8 137.6h1.3M531.9 120.2h1.3M529.3 123.9h1.3M519.6 114.1h1.3M537.9 118.2h1.3M538.1 134.4h1.3M526.6 129.9h1.3M522.4 144.8h1.3M537.1 122.2h1.3M534.6 116.2h1.3M536.4 121.4h1.3M535.2 119.7h1.3M533 125.7h1.3M526.1 126.2h1.3M532.2 135.2h1.3M524.5 127.1h1.3M530.2 140.4h1.3M523.7 127.4h1.3M520.5 147h1.3M512.5 150h1.3M524.1 134.7h1.3M527.2 133.6h1.3M532.8 134.7h1.3M529.8 136.7h1.3M524 122.6h1.3M535.9 115.2h1.3M526.2 130.8h1.3M525.5 132.2h1.3M541.1 119.5h1.3M526.4 120.5h1.3M530.3 129.9h1.3M539.9 127.4h1.3M524.5 131h1.3M528.8 129.8h1.3M526.1 133.4h1.3M530.3 133h1.3M530.5 127.7h1.3M527.2 129.4h1.3M521.7 149.5h1.3M519.9 140.8h1.3M534 137.7h1.3M523.3 140.8h1.3M528.3 128h1.3M522 132.8h1.3M526.9 130.1h1.3M520.4 126.1h1.3M535.2 142.3h1.3M519.7 126.1h1.3M524.7 138.7h1.3M525.4 149.9h1.3M520.5 135.5h1.3M542.8 131.6h1.3M523.9 125.7h1.3M514.4 130.4h1.3M526.6 124.5h1.3M534.8 136.5h1.3M525.2 122.2h1.3M528.5 131.6h1.3M536.4 132h1.3M534.8 141.6h1.3M534.4 121.9h1.3M522.9 136.2h1.3M542.6 134.9h1.3M527.3 137.1h1.3M534.1 123.7h1.3M540.6 128.9h1.3M523.1 121.8h1.3M532.1 142.7h1.3M534.1 136.4h1.3M542.8 122.2h1.3M528.4 130.9h1.3M534.4 121.2h1.3M541.7 147.2h1.3M525 131.6h1.3M518.5 118.6h1.3M524.2 121.4h1.3M519.8 140.5h1.3M531.2 132.2h1.3M517.7 135.3h1.3M545.5 123.1h1.3M527.9 130.5h1.3M538.8 134.3h1.3M527.6 123.4h1.3M532.6 141.7h1.3M532.8 120.2h1.3M523 132h1.3M528.8 121.7h1.3M536.8 131.5h1.3M534.2 121.2h1.3M527.6 130h1.3M531 143.2h1.3M534.4 135.2h1.3M512.9 120.7h1.3M532.6 118.4h1.3M528.2 135.5h1.3M531.7 128.1h1.3M528.1 126.4h1.3M527 126.4h1.3M531 119.8h1.3M527.9 118.1h1.3M529.1 133.5h1.3M538.9 104.1h1.3M528.7 126h1.3M526.4 136.2h1.3M525.3 138.4h1.3M525.3 119.2h1.3M528.7 130.1h1.3M524.4 141.4h1.3M527.6 139.6h1.3M533.7 118.9h1.3M514.2 127.9h1.3M540.2 135.9h1.3M534.4 136.2h1.3M532.7 123h1.3M526.9 119h1.3M539.1 129.4h1.3M533.3 126.2h1.3M533.7 136.4h1.3M529.9 122.7h1.3M530.5 131.7h1.3M526 134.6h1.3M526.9 131.7h1.3M518.3 136.7h1.3M530.6 109.5h1.3M527.5 137.3h1.3M524.3 124.7h1.3M531 122.8h1.3M522.6 135.7h1.3M518.8 131.7h1.3M513.4 141.2h1.3M536.1 135.7h1.3M534.9 139.9h1.3M538.2 129.2h1.3M517.5 127.1h1.3M517.1 150.8h1.3M535.9 141h1.3M529.2 139.3h1.3M529.3 136.6h1.3M560.6 104.8h1.3M549.5 102.4h1.3M525.1 114.1h1.3M539.1 98.4h1.3M552 107.5h1.3M542.2 114.6h1.3M557.6 98.4h1.3M564.2 92.8h1.3M543 111.5h1.3M562 88.9h1.3M533.9 110.8h1.3M535.9 117.1h1.3M567.2 91.2h1.3M554.9 109.5h1.3M539.9 100.9h1.3M550.3 95.7h1.3M548.2 113.2h1.3M549.1 104.7h1.3M550.1 104.2h1.3M553.7 107.6h1.3M562.5 83.6h1.3M546.7 101.9h1.3M569.1 90.1h1.3M555.3 101.8h1.3M559.1 106.8h1.3M557.2 92.4h1.3M542.5 99.4h1.3M563.7 113.8h1.3M554.8 105.3h1.3M557.4 121.8h1.3M552 92.2h1.3M552.9 103.2h1.3M558.8 98.2h1.3M548.1 109.9h1.3M545.3 99.6h1.3M563.9 84.1h1.3M556.3 94.1h1.3M544 86.5h1.3M552.4 85.9h1.3M541.2 113.6h1.3M548.2 108.8h1.3M540.2 120.6h1.3M549.1 90.1h1.3M550.3 88h1.3M555.9 84.9h1.3M550.3 96h1.3M553.5 103.9h1.3M553.3 109.5h1.3M555.5 89.5h1.3M566.9 90.4h1.3M569.1 94.8h1.3M548.9 123.6h1.3M549.7 82h1.3M539.8 96.2h1.3M541.5 113.2h1.3M541 103.7h1.3M559.9 102.8h1.3M550.6 111h1.3M561 86.1h1.3M543.4 120.3h1.3M561 102.5h1.3M553.8 100.3h1.3M558.6 85.4h1.3M533.4 126.2h1.3M552.3 105.5h1.3M569.5 82.9h1.3M555.5 90.2h1.3M569.5 103.1h1.3M556.7 98.2h1.3M554.4 83.8h1.3M550 90h1.3M550.4 110.5h1.3M543 110h1.3M562.7 91.6h1.3M552.8 101.3h1.3M562.1 86.6h1.3M531.6 110.8h1.3M540.7 105.7h1.3M561.5 98.1h1.3M546 114.4h1.3M553.1 117.6h1.3M555 101h1.3M563.5 88.7h1.3M552.1 85h1.3M545.9 96.3h1.3M548.3 105.1h1.3M535.1 105.1h1.3M553 96.4h1.3M553.9 95.9h1.3M558.5 93.4h1.3M537.9 105.9h1.3M548.8 99.6h1.3M560.3 115.2h1.3M569.3 89.2h1.3M553.6 106.9h1.3M533.9 111.2h1.3M553 113.4h1.3M550.3 111.2h1.3M562.6 116.9h1.3M534.6 107h1.3M545.7 97.8h1.3M559.5 97.6h1.3M562.2 88.7h1.3M539 117.5h1.3M541.9 105.8h1.3M551.8 93.8h1.3M556.7 98.3h1.3M547.3 107.8h1.3M548.7 104.1h1.3M539 123.3h1.3M562.5 105.7h1.3M552.6 92.7h1.3M536.5 98.7h1.3M535.9 100.1h1.3M542.5 101.8h1.3M522.9 149.6h1.3M516.8 148.4h1.3M514.8 155.4h1.3M504.7 148.3h1.3M516.2 162.9h1.3M523.3 150.5h1.3M515.5 153.1h1.3M521.5 146.4h1.3M506.2 158.6h1.3M513.4 164.6h1.3M508.4 153.7h1.3M519.8 152.3h1.3M518.1 154h1.3M524.7 158.9h1.3M505.8 147h1.3M509 138.6h1.3M515.4 152.5h1.3M514.8 140.4h1.3M523.2 154.5h1.3M537.5 155h1.3M513.2 151.1h1.3M517.6 146.2h1.3M511.5 161.9h1.3M518.5 143.4h1.3M518.4 141.3h1.3M528.5 143.8h1.3M513.5 156.6h1.3M514.7 149.8h1.3M520.3 155.1h1.3M526.6 150.1h1.3M511.4 146.2h1.3M527.3 150.1h1.3M533 142.9h1.3M514.1 150.6h1.3M502.5 146.6h1.3M508.3 155.7h1.3M507.8 143.6h1.3M514.1 156.2h1.3M505.4 150.4h1.3M522.3 161.2h1.3M503.7 99h1.3M509.7 164.9h1.3M487.1 108.8h1.3M494.7 170.1h1.3M515 172.7h1.3M514.5 152h1.3M490.3 172.3h1.3M506.5 143.7h1.3M508 114.5h1.3M508.9 138.1h1.3M513.9 135.6h1.3M485.5 124.8h1.3M513.8 147.8h1.3M490.2 127.9h1.3M488.7 140.1h1.3M506.3 164.5h1.3M513.4 160.1h1.3M515.7 107.7h1.3M485.4 151.2h1.3M518.2 96h1.3M495.4 139.4h1.3M490 107h1.3M496.4 100.5h1.3M518.9 159h1.3M503.7 152.1h1.3M493.1 159.2h1.3M495.4 151.8h1.3M490.9 125.8h1.3M500.5 112.4h1.3M495.2 161.6h1.3M494.2 101.2h1.3M515 168.5h1.3M517.1 95.8h1.3M495.3 136.7h1.3M508.9 154.5h1.3M511.5 154.1h1.3M487.3 117h1.3M504.7 143.8h1.3M498.8 156h1.3M495 101.2h1.3M512.4 152h1.3M490.8 191.8h1.3M432.2 133.4h1.3M448.7 239.6h1.3M502.1 153h1.3M427 234.1h1.3M490.6 154.3h1.3M427.6 132.5h1.3M506.4 107.2h1.3M504.8 101.3h1.3M441.3 238.5h1.3M498.3 258.9h1.3M440.6 168h1.3M503.2 129.4h1.3M502.4 171.6h1.3M465.6 222.4h1.3M496.6 126.6h1.3M466.2 130.5h1.3M452.9 125.2h1.3M451.4 174.3h1.3M458.5 120h1.3M479.9 257.2h1.3M478 233.9h1.3M455 191.9h1.3M412.2 234.5h1.3M491.5 170.6h1.3M442.3 235.6h1.3M474.7 265.9h1.3M431.2 202.7h1.3M489.8 207.6h1.3M495.1 269.7h1.3M455.3 99.6h1.3M470.2 157.2h1.3M415.6 266.7h1.3M435 107.1h1.3M410.9 233.3h1.3" stroke="#8a8a8a" stroke-width="1.3" fill="none"/>
<path d="M467.5 122.7h1.3M488.3 122.3h1.3M460.3 133.1h1.3M475.5 98.7h1.3M478.3 127.9h1.3M470.3 104.5h1.3M480.2 112.7h1.3M460.3 127.6h1.3M465.1 114.9h1.3M470.9 112.7h1.3M489.1 123.3h1.3M459.7 121.3h1.3M450 114.8h1.3M461.5 119h1.3M456.4 130h1.3M461.9 118.9h1.3M486.6 117.7h1.3M477.6 107.6h1.3M455.4 90.5h1.3M458.2 117.8h1.3M467.9 131.6h1.3M485.7 138.1h1.3M455.7 128h1.3M457 112.5h1.3M478.8 125.1h1.3M470.7 131.1h1.3M471 131.3h1.3M452.5 136.6h1.3M476.6 117.5h1.3M465.2 99.3h1.3M438.2 124.1h1.3M435.7 119.5h1.3M459.1 110h1.3M469.3 106.7h1.3M450.6 118.1h1.3M455.1 120.8h1.3M476.7 124.9h1.3M462.6 134.8h1.3M457.1 98h1.3M426.9 146.5h1.3M468 106.5h1.3M466.1 116.7h1.3M450.8 118.5h1.3M458 114.4h1.3M456.7 117.7h1.3M476.2 101h1.3M472.9 96.9h1.3M473.9 147.8h1.3M452 118.6h1.3M459.6 102.8h1.3M453.9 117.1h1.3M492.5 126.9h1.3M470.6 137.7h1.3M448.1 111.7h1.3M467.9 115.8h1.3M458.6 125.9h1.3M484.9 117.8h1.3M472.1 108.6h1.3M459.1 102h1.3M463.8 130.9h1.3M478.4 111.8h1.3M470.4 118.4h1.3M461.4 124.1h1.3M456.1 110.6h1.3M476.7 122.5h1.3M468.8 125.8h1.3M475.3 131.8h1.3M473.2 107.8h1.3M434.6 123.5h1.3M455.7 124.8h1.3M450.3 117.8h1.3M474.7 138.2h1.3M459.4 140.5h1.3M476.1 117.5h1.3M458.6 121.5h1.3M474.6 125.5h1.3M477.2 101.7h1.3M459.1 109.3h1.3M467 106.8h1.3M453.6 97.1h1.3M471 152.2h1.3M476.1 128.7h1.3M461.6 135.1h1.3M461.7 105.2h1.3M459.8 121.3h1.3M486.2 120.5h1.3M462 112.9h1.3M469.6 106.1h1.3M455.8 122.5h1.3M474.6 128.4h1.3M469.1 118.4h1.3M437.1 119.6h1.3M462.3 124.8h1.3M481.7 120.8h1.3M463.6 115.1h1.3M460.9 102h1.3M464.4 102.2h1.3M463.7 129.9h1.3M452.7 131.8h1.3M466.9 115.5h1.3M450.1 118.2h1.3M465 117.8h1.3M464.4 112.7h1.3M461.8 117h1.3M478.6 124.3h1.3M480.2 136.4h1.3M467.4 115.4h1.3M465.2 121.6h1.3M451.6 86.8h1.3M497.1 106.9h1.3M473.2 113.9h1.3M458.3 108h1.3M450.7 104h1.3M464.6 113.4h1.3M481 129.7h1.3M469.5 134h1.3M441.1 115.3h1.3M447.1 124.3h1.3M480.3 104.7h1.3M450.7 121h1.3M451 130h1.3M494.6 120.5h1.3M448.2 92.5h1.3M472.1 101.8h1.3M465.8 147.1h1.3M472 115.5h1.3M454.8 136.9h1.3M463.1 117.3h1.3M464.2 127.2h1.3M447.7 131.4h1.3M483.2 126.8h1.3M478 114.3h1.3M484.6 135.4h1.3M482.3 106.2h1.3M467 116.1h1.3M446.7 117.5h1.3M456.1 142.5h1.3M468.8 116.1h1.3M462.4 120.9h1.3M449 118.7h1.3M448.7 109h1.3M466.3 117.5h1.3M453.2 122.8h1.3M440.9 154.1h1.3M459.1 112.5h1.3M475.7 121.4h1.3M449.8 103.3h1.3M473.4 123.4h1.3M462.2 120h1.3M465.4 133.2h1.3M481.9 116.5h1.3M439.8 114.3h1.3M462.2 148.9h1.3M465.6 118.9h1.3M454.3 113.8h1.3M442.7 125.7h1.3M458.7 110.1h1.3M473.6 113h1.3M465.3 113.7h1.3M466.6 110.8h1.3M471.5 120h1.3M449.6 115.6h1.3M459.1 122.2h1.3M494.5 118.5h1.3M467.8 137.2h1.3M456.7 111.6h1.3M483.3 108h1.3M470.4 120h1.3M467.1 121.8h1.3M483.5 118.5h1.3M467.8 126.2h1.3M450.7 129.4h1.3M463.9 129.3h1.3M454.1 109h1.3M469.3 125.5h1.3M459.6 113.8h1.3M445.5 111.9h1.3M447.8 134.1h1.3M455.1 132.4h1.3M497.3 110.6h1.3M459.3 113.4h1.3M460.8 117.1h1.3M468.5 107.5h1.3M487.7 118.8h1.3M451.2 114.3h1.3M477.4 132.5h1.3M458.3 132h1.3M460.7 103.5h1.3M468.6 120.5h1.3M490.5 107.3h1.3M464.9 113.6h1.3M480.1 114.5h1.3M465 180.6h1.3M464 189.1h1.3M434.6 120.2h1.3M444.6 151.7h1.3M466.3 155.4h1.3M427.4 126.2h1.3M436.5 124.5h1.3M464.3 130.8h1.3M444.9 156.3h1.3M445.5 125.8h1.3M442.1 147.6h1.3M450.7 140.5h1.3M448.2 156.5h1.3M444.3 171.7h1.3M444.8 129.5h1.3M454 154.9h1.3M430 127.5h1.3M460 117.6h1.3M470 149h1.3M430.4 125.6h1.3M448.6 120.3h1.3M472.2 156.3h1.3M446.7 113.2h1.3M425.5 154.3h1.3M466.1 166.5h1.3M468.6 159.7h1.3M480 129.6h1.3M444.9 130.4h1.3M426.1 145.3h1.3M446.2 140.4h1.3M472.8 158.3h1.3M488.7 128h1.3M460.2 138h1.3M470.1 137.8h1.3M444.8 156.3h1.3M460 138.3h1.3M458.7 147.9h1.3M463.8 138h1.3M485.5 162.3h1.3M442.7 187.8h1.3M457.7 157.1h1.3M451.1 171.9h1.3M448.4 148.2h1.3M458.5 139.8h1.3M458.6 140.1h1.3M441.5 134.9h1.3M472.5 125h1.3M442.3 128.6h1.3M440.8 117.9h1.3M464 93.2h1.3M445.4 137h1.3M443.8 108.4h1.3M452.5 173h1.3M463.5 154.5h1.3M439.5 135h1.3M471.1 127h1.3M476.4 157.1h1.3M466.2 174.8h1.3M443.8 154.8h1.3M446.6 134.6h1.3M474.6 141.3h1.3M443.7 141h1.3M446.3 150.2h1.3M476.6 147.4h1.3M435.5 121h1.3M452.1 120.6h1.3M459.9 145.6h1.3M447.1 141.7h1.3M451.3 133.2h1.3M445.3 127.8h1.3M440.9 151.3h1.3M459.7 125.7h1.3M454.2 153.9h1.3M424.3 139.9h1.3M443.2 158.7h1.3M421.1 150.8h1.3M466 139.8h1.3M447.3 129.5h1.3M462.9 107.6h1.3M452.6 150h1.3M435.4 167.6h1.3M459.5 148.1h1.3M459.5 142.8h1.3M453.5 150.2h1.3M479.2 144h1.3M466.7 169h1.3M454.2 123h1.3M436.5 120.8h1.3M437.3 146.8h1.3M448.2 175.8h1.3M474.8 134.5h1.3M473.1 121.9h1.3M448.4 154.2h1.3M447.1 162.9h1.3M466.8 127.1h1.3M450.8 157.1h1.3M456.5 146.1h1.3M483.7 114.8h1.3M450.2 147h1.3M457.4 160.9h1.3M451.3 168.5h1.3M453.9 170h1.3M453.4 149.3h1.3M450.6 123.1h1.3M437.8 143.8h1.3M456.6 148.1h1.3M450.2 159.8h1.3M466.3 123.6h1.3M435.8 156.6h1.3M468.6 150.7h1.3M458 140.2h1.3M467.5 108.6h1.3M468.7 114.6h1.3M465 91.6h1.3M444.8 174.3h1.3M469.2 124.2h1.3M442.1 162.2h1.3M474.9 158.6h1.3M445.5 127.2h1.3M453.8 143.5h1.3M469.9 149.7h1.3M444.9 111.6h1.3M442.4 170.6h1.3M448.6 121.5h1.3M456.4 127.8h1.3M455.5 142.9h1.3M486.1 123.8h1.3M441.8 190.8h1.3M450.5 199.6h1.3M441.1 204.2h1.3M446 223.8h1.3M444.8 224.8h1.3M465.2 157.8h1.3M451.2 183.5h1.3M438.7 196.8h1.3M454 215.3h1.3M463.4 200h1.3M445.2 159.4h1.3M461 207.3h1.3M433.9 235.2h1.3M454.3 199.8h1.3M438.7 184.5h1.3M434.3 178.2h1.3M463.2 200.8h1.3M456 164.7h1.3M453.2 164.7h1.3M447.2 262.6h1.3M439.1 167.1h1.3M447.6 214.1h1.3M457 243.5h1.3M464.6 152.1h1.3M438.5 174.1h1.3M464.3 214.8h1.3M458.3 242.1h1.3M451.3 220.2h1.3M459.7 183.3h1.3M468.5 137.2h1.3M428.7 228.8h1.3M452.1 189.9h1.3M457.2 236.6h1.3M440.1 227.7h1.3M438.8 197.1h1.3M454.4 162.3h1.3M457.7 245.3h1.3M458.8 228.9h1.3M454.3 179.7h1.3M449.4 218.4h1.3M459.7 225.7h1.3M444.6 184.9h1.3M448.7 223.2h1.3M448.3 215.5h1.3M456 173.4h1.3M443.2 210.7h1.3M441.5 205h1.3M453.4 195h1.3M435.7 197.3h1.3M454.5 209.2h1.3M433.4 207.7h1.3M452.1 243.2h1.3M458 184.6h1.3M473.2 184.8h1.3M438.9 202.8h1.3M450.1 242.9h1.3M450.9 183.5h1.3M461.1 238.3h1.3M450.1 190.3h1.3M448.6 190h1.3M450.2 199.4h1.3M435 205.5h1.3M453.7 213.8h1.3M444.7 200.4h1.3M437.2 225.7h1.3M536.6 123.1h1.3M525.5 148.8h1.3M535.4 106.8h1.3M526.3 133.6h1.3M524.1 127h1.3M541.4 117.4h1.3M541 128.8h1.3M538.1 125.1h1.3M530.7 119.3h1.3M545.1 120.7h1.3M537.5 126.9h1.3M539.7 131.3h1.3M530.5 119.3h1.3M540.8 131.9h1.3M526.1 138h1.3M525 129.2h1.3M520.1 133.9h1.3M531.8 125.8h1.3M532.7 131.5h1.3M531.1 108.5h1.3M530.4 121.4h1.3M527.7 130.3h1.3M533.2 120.3h1.3M532.4 130h1.3M542.1 118.2h1.3M529.6 139.9h1.3M525.1 146h1.3M525.5 128.2h1.3M532.2 133.2h1.3M536.6 123.9h1.3M534.1 119h1.3M525.6 127.1h1.3M540.3 133.5h1.3M526 140.2h1.3M525.2 121.6h1.3M536 128.3h1.3M524 134.1h1.3M516.5 133.9h1.3M528.9 127.2h1.3M515 138.8h1.3M533.3 124.3h1.3M532.5 125.7h1.3M536.9 114.9h1.3M521.8 150.3h1.3M538.7 123.2h1.3M530 124.1h1.3M529.1 126.6h1.3M527.1 138.9h1.3M530.2 124.7h1.3M521.7 126.9h1.3M548.3 115.8h1.3M544.7 114.6h1.3M530.3 117.1h1.3M519.8 136.6h1.3M538.1 118h1.3M517.7 125.5h1.3M534.2 148.9h1.3M536.4 116.8h1.3M532.3 124.7h1.3M527.1 139.9h1.3M524.1 131.3h1.3M530.1 143.6h1.3M533.2 137.3h1.3M532.8 133.5h1.3M531.3 143.9h1.3M525 140.4h1.3M537.4 121.4h1.3M528.2 129.2h1.3M526.9 118.1h1.3M532.4 148.2h1.3M527.9 138.1h1.3M532.2 122.3h1.3M530.5 132.7h1.3M522.4 132.2h1.3M529 122h1.3M529.4 125.3h1.3M540.1 121.3h1.3M522.9 140h1.3M533.5 121h1.3M524.9 138.3h1.3M524.1 129.1h1.3M538.7 130.8h1.3M539.6 119.1h1.3M531 121.2h1.3M526.2 132.3h1.3M523 130.5h1.3M526.8 136.1h1.3M540.2 132.8h1.3M517.2 140.9h1.3M533.7 122.2h1.3M535.4 139.5h1.3M532.2 125.2h1.3M526.2 127.7h1.3M516.5 144.2h1.3M525.6 120.2h1.3M529.7 148.3h1.3M529.8 124.8h1.3M526 127.2h1.3M530.8 118.7h1.3M527.1 134.6h1.3M528 127.8h1.3M531.5 115.3h1.3M529.3 139.2h1.3M529.9 124.6h1.3M538 114.1h1.3M511.5 130.4h1.3M536.5 126.4h1.3M533.2 138.1h1.3M533 125h1.3M531.8 136.7h1.3M511.3 139.6h1.3M531.9 127.7h1.3M536.7 130.3h1.3M536.1 133.6h1.3M525.6 131.2h1.3M535.7 135.7h1.3M530.5 124.9h1.3M515.4 138.3h1.3M537.7 119.7h1.3M532.1 136h1.3M528.4 136h1.3M535.9 136.5h1.3M514.3 152.8h1.3M534.3 134.4h1.3M526.7 143.3h1.3M529.4 131.9h1.3M542.7 124.2h1.3M529.3 142.7h1.3M533.8 118.5h1.3M528.2 135.4h1.3M529 139.3h1.3M529 138.4h1.3M534 128.2h1.3M544.6 124.6h1.3M522.7 134.4h1.3M527.4 133.9h1.3M533.7 125.7h1.3M530.4 142h1.3M527.7 115.2h1.3M536.2 134.8h1.3M532.7 129.6h1.3M520.5 149.3h1.3M528.7 121.4h1.3M519.6 129.3h1.3M523.4 133.5h1.3M531.2 131.2h1.3M538.3 124.7h1.3M550.2 105.7h1.3M562.8 94.4h1.3M552.1 110.9h1.3M539.7 109.7h1.3M538.9 118.3h1.3M558.7 105.5h1.3M562.4 114.8h1.3M551.4 97.7h1.3M556.4 109.1h1.3M539 103.5h1.3M561.7 117.8h1.3M552.3 112.6h1.3M557.7 91.2h1.3M553.4 91.1h1.3M555.3 98.4h1.3M543.9 107h1.3M554 84.2h1.3M559 91.1h1.3M537.2 125.9h1.3M549.9 95.5h1.3M563.8 93h1.3M537.4 97.7h1.3M540.1 106.5h1.3M549.5 102h1.3M551.1 99.5h1.3M551.1 119.2h1.3M552.1 98.9h1.3M545.1 91.7h1.3M530 121.8h1.3M551.8 86.4h1.3M544.7 111h1.3M536.7 106.9h1.3M560.9 93.1h1.3M536.5 96.5h1.3M541.9 96h1.3M569 91.5h1.3M547.7 94.5h1.3M541 95.6h1.3M566.3 100.5h1.3M543.6 104.8h1.3M540.8 106h1.3M552.4 104.4h1.3M547 100.1h1.3M555.8 92.8h1.3M545.4 102.9h1.3M552.5 119.1h1.3M564 102h1.3M544.3 113.9h1.3M569.9 89.7h1.3M563.9 94.2h1.3M542 106.8h1.3M549.7 97h1.3M557.6 103.6h1.3M549 104.5h1.3M563.3 97.7h1.3M558.6 98h1.3M555.3 91.2h1.3M557.6 85.2h1.3M568.7 94h1.3M548.1 88.4h1.3M538.7 100.4h1.3M556 91.5h1.3M548.8 98.2h1.3M540.5 127.8h1.3M566.4 94.4h1.3M550.6 95.7h1.3M557.9 99.7h1.3M554.6 76.4h1.3M556.5 105.3h1.3M531.2 114h1.3M565.6 81.9h1.3M545 109.9h1.3M550.6 106.9h1.3M558.2 101.9h1.3M548.8 117.8h1.3M545 105.6h1.3M546.5 98.4h1.3M550.3 99.1h1.3M573.3 85.5h1.3M544.3 101h1.3M543.1 98.3h1.3M546.2 90.9h1.3M538.9 116.1h1.3M547.1 99.7h1.3M546.2 96.3h1.3M513.4 142.5h1.3M520.2 150.1h1.3M520.4 148.7h1.3M518.5 148.6h1.3M510.3 152.9h1.3M525.6 134.1h1.3M517.8 142.5h1.3M506.4 148.3h1.3M519.6 144h1.3M522.5 150.9h1.3M509.7 151.7h1.3M518.3 136.4h1.3M526.5 152.9h1.3M510.7 155.6h1.3M525.6 152.9h1.3M508.5 142.9h1.3M509.7 151.6h1.3M520.9 150h1.3M506.4 144.9h1.3M509.9 159.8h1.3M513.8 111.2h1.3M485.7 104.8h1.3M509.1 158.2h1.3M517.4 112.2h1.3M489.5 132.1h1.3M498.2 112.2h1.3M487.1 147.8h1.3M496.2 127.9h1.3M491.3 168.8h1.3M509.1 145.1h1.3M517.1 131h1.3M516.6 153.4h1.3M494.2 146.5h1.3M488.3 100.9h1.3M516.6 167.7h1.3M504.8 153.6h1.3M513.9 116.8h1.3M515 139.9h1.3M498.9 122.1h1.3M499.1 96.9h1.3M500.2 139.4h1.3M489.1 166.7h1.3M519.3 97.4h1.3M487.3 144.4h1.3M497.2 145.7h1.3M500.6 162.5h1.3M488.1 165.9h1.3M497 138.6h1.3M487.5 153.9h1.3M484.7 140.9h1.3M465.1 110.8h1.3M496 238.5h1.3M497.4 249.8h1.3M466.6 203.1h1.3M476 255.8h1.3M417.6 118.6h1.3M485.4 215.4h1.3M423.4 152.9h1.3M476.7 225.9h1.3M441.4 203.2h1.3M483.1 184h1.3M447.7 224.5h1.3M460.1 128.5h1.3M442.9 107.4h1.3M412.4 258.2h1.3M496.4 187.1h1.3M486.6 152.4h1.3M440.1 237.4h1.3M422.3 185.4h1.3M465.4 135.9h1.3M477.4 106.2h1.3M420 140.7h1.3M461.4 151.1h1.3M499.7 228.8h1.3" stroke="#333" stroke-width="1.3" fill="none"/>
<path d="M623.5 48.4v224.5M402 48.4h222" stroke="#555" stroke-width="1.1" fill="none"/>
<path d="M402.5 48v225M399 270.2h225" stroke="#2f3838" stroke-width="1.3" fill="none"/>
<path d="M402.5 253.7h-1.5M402.5 243.9h-1.5M402.5 237.0h-1.5M402.5 231.6h-1.5M402.5 227.2h-1.5M402.5 223.5h-1.5M402.5 220.3h-1.5M402.5 217.4h-1.5M402.5 198.2h-1.5M402.5 188.4h-1.5M402.5 181.5h-1.5M402.5 176.1h-1.5M402.5 171.7h-1.5M402.5 168.0h-1.5M402.5 164.8h-1.5M402.5 161.9h-1.5M402.5 142.7h-1.5M402.5 132.9h-1.5M402.5 126.0h-1.5M402.5 120.6h-1.5M402.5 116.2h-1.5M402.5 112.5h-1.5M402.5 109.3h-1.5M402.5 106.4h-1.5M402.5 87.2h-1.5M402.5 77.4h-1.5M402.5 70.5h-1.5M402.5 65.1h-1.5M402.5 60.7h-1.5M402.5 57.0h-1.5M402.5 53.8h-1.5M402.5 50.9h-1.5M419.1 270.4v1.5M428.9 270.4v1.5M435.8 270.4v1.5M441.2 270.4v1.5M445.5 270.4v1.5M449.2 270.4v1.5M452.4 270.4v1.5M455.3 270.4v1.5M474.4 270.4v1.5M484.2 270.4v1.5M491.1 270.4v1.5M496.5 270.4v1.5M500.8 270.4v1.5M504.5 270.4v1.5M507.7 270.4v1.5M510.6 270.4v1.5M529.7 270.4v1.5M539.5 270.4v1.5M546.4 270.4v1.5M551.8 270.4v1.5M556.1 270.4v1.5M559.8 270.4v1.5M563.0 270.4v1.5M565.9 270.4v1.5M585.0 270.4v1.5M594.8 270.4v1.5M601.7 270.4v1.5M607.1 270.4v1.5M611.4 270.4v1.5M615.1 270.4v1.5M618.3 270.4v1.5M621.2 270.4v1.5" stroke="#2f3838" stroke-width="0.8" fill="none"/>
<g stroke="#8b9797" stroke-width="1.1" fill="none"><rect x="425.1" y="84.6" width="62.2" height="173.4"/><rect x="-46.8" y="-18.75" width="93.6" height="37.5" transform="translate(537 114.7) rotate(-51.8)"/></g>
<g font-weight="bold" font-size="12.5" fill="#000" stroke="#000" stroke-width="0.25"><text x="430.5" y="100.6">P1</text><text x="587.3" y="94.5">P3</text></g>
<g fill="#222"><text x="401.2" y="285" font-size="10">10<tspan font-size="9" dy="-5.0">0</tspan></text><text x="455.2" y="285" font-size="10">10<tspan font-size="9" dy="-5.0">1</tspan></text><text x="511.0" y="285" font-size="10">10<tspan font-size="9" dy="-5.0">2</tspan></text><text x="566.0" y="285" font-size="10">10<tspan font-size="9" dy="-5.0">3</tspan></text><text x="620.6" y="285" font-size="10">10<tspan font-size="9" dy="-5.0">4</tspan></text><text transform="translate(397.8 269.2) rotate(-90)" font-size="10">10<tspan font-size="9" dy="-5.0">0</tspan></text><text transform="translate(397.8 216.4) rotate(-90)" font-size="10">10<tspan font-size="9" dy="-5.0">1</tspan></text><text transform="translate(397.8 161.7) rotate(-90)" font-size="10">10<tspan font-size="9" dy="-5.0">2</tspan></text><text transform="translate(397.8 105.8) rotate(-90)" font-size="10">10<tspan font-size="9" dy="-5.0">3</tspan></text><text transform="translate(397.8 51.9) rotate(-90)" font-size="10">10<tspan font-size="9" dy="-5.0">4</tspan></text></g>
<text x="449" y="300.5" font-size="12" fill="#222" letter-spacing="0.15">Green Fluorescence</text>
<text transform="translate(382 217.5) rotate(-90)" font-size="12" fill="#222" letter-spacing="0.2">Red Fluorescence</text>
<text x="371" y="17" font-size="19" font-weight="bold" fill="#000">b</text>
<g stroke="#6a6a6a" stroke-width="0.8" fill="none">
<path d="M642.0 175.7L699.0 162.0M642.0 175.7L677.4 203.6M650.9 182.7L709.5 167.9M656.2 172.3L693.3 199.1M659.7 189.6L720.0 173.8M670.5 168.8L709.2 194.6M668.5 196.6L730.5 179.8M684.8 165.4L725.1 190.2M677.4 203.6L741.0 185.7M699.0 162.0L741.0 185.7"/></g>
<path d="M667.9 138.3L669.2 145L670.8 150L673.5 158L676 166L677.5 170L679.5 172L682 171.3L683 166L684.6 158.4L685.6 148.7L687 129.4L688 122L688.6 115.2L689.4 122L690.2 129.4L692.4 148.7L694 158.4L694.8 168L695.4 177.7L695.5 181L690 181.8L684.5 181.5L684.2 186L685 192L683.8 194.5L681.5 193.5L679 190L674 187.5L668 185.5L662 184L659.7 182.5L660.5 177L662.5 168L664 158L665 150L666.5 145Z" fill="#4e5252" stroke="#1e2222" stroke-width="0.7"/>
<path d="M661.0 183.5L667.9 140M662.7 183.5L667.9 140M664.4 183.5L667.9 140M666.1 183.5L667.9 140M667.8 183.5L667.9 140M669.5 183.5L667.9 140M671.2 183.5L667.9 140M672.9 183.5L667.9 140M674.6 183.5L667.9 140M676.3 183.5L667.9 140M683.5 180.5L688.6 118M685.1 180.5L688.6 118M686.7 180.5L688.6 118M688.3 180.5L688.6 118M689.9 180.5L688.6 118M691.5 180.5L688.6 118M693.1 180.5L688.6 118M694.7 180.5L688.6 118" stroke="#8a9090" stroke-width="0.5" fill="none"/>
<path d="M677.6 129V170M677.3 192.9V203.3" stroke="#9aa4a4" stroke-width="0.9" fill="none"/>
<g stroke="#8b9797" stroke-width="1.1" fill="none"><rect x="675.2" y="112" width="27.3" height="72"/></g>
<text x="704" y="123.9" font-size="12.5" font-weight="bold" fill="#111">P3</text>
<text x="1.5" y="325" font-size="19" font-weight="bold" fill="#000">c</text>
<rect x="96.4" y="389.2" width="30.4" height="124.2" fill="none" stroke="#808080" stroke-width="0.8"/>
<rect x="96.0" y="388.8" width="31.2" height="124.6" fill="url(#dg)"/>
<rect x="172.6" y="494.6" width="30.4" height="18.8" fill="none" stroke="#808080" stroke-width="0.8"/>
<rect x="172.2" y="494.20000000000005" width="31.2" height="19.2" fill="url(#dg)"/>
<rect x="249.3" y="449.4" width="30.4" height="64.0" fill="none" stroke="#808080" stroke-width="0.8"/>
<rect x="248.9" y="449.0" width="31.2" height="64.4" fill="url(#dg)"/>
<path d="M111.6 379.4v19M110 379.4h3.2M110 398.4h3.2M188.3 492.3v4.5M186.8 492.3h3M186.8 496.8h3M264.5 448v3.8M263 448h3M263 451.8h3" stroke="#666" stroke-width="0.9" fill="none"/>
<path d="M73.5 353.5v163.5M73 513.4h230M69.5 353.7h4M69.5 406.9h4M69.5 460.1h4M69.5 513.4h4M149.4 513.4v3.4M226 513.4v3.4M302.6 513.4v3.4" stroke="#f86666" stroke-width="1.1" fill="none"/>
<g font-size="13" fill="#222"><text x="68.1" y="357.7" text-anchor="end">2.E+08</text><text x="68.1" y="410.9" text-anchor="end">1.E+08</text><text x="68.1" y="464.1" text-anchor="end">5.E+07</text><text x="68.1" y="517.4" text-anchor="end">0.E+00</text><text x="112.8" y="534.8" text-anchor="middle">TVC</text><text x="188.7" y="534.8" text-anchor="middle">CC</text><text x="265.1" y="534.8" text-anchor="middle">RVC</text></g>
<text transform="translate(15.3 483) rotate(-90)" font-size="14.25" fill="#222" letter-spacing="0.15">Viable cells/mL.</text>
<text x="371" y="324.6" font-size="19" font-weight="bold" fill="#000">d</text>
<path d="M456.5 336.3v178.2M456 514.3h275.2M452.8 336.4h3.7M452.8 395.7h3.7M452.8 455h3.7M452.8 514.3h3.7M456.2 514.3v4M524.9 514.3v4M593.6 514.3v4M662.3 514.3v4M731.0 514.3v4" stroke="#777" stroke-width="1" fill="none"/>
<g font-size="13" fill="#222" letter-spacing="0.45"><text x="449.9" y="341.2" text-anchor="end">2.4E+06</text><text x="449.9" y="400.5" text-anchor="end">1.6E+06</text><text x="449.9" y="459.8" text-anchor="end">8.0E+05</text><text x="449.9" y="519.1" text-anchor="end">0.0E+00</text><text x="457.0" y="535" text-anchor="middle">0</text><text x="525.7" y="535" text-anchor="middle">50</text><text x="594.4" y="535" text-anchor="middle">100</text><text x="663.1" y="535" text-anchor="middle">150</text><text x="731.8" y="535" text-anchor="middle">200</text></g>
<text x="557" y="560.3" font-size="14.7" fill="#222">Time, hours</text>
<text transform="translate(386 491.5) rotate(-90)" font-size="14" fill="#222" letter-spacing="0.17">Revitalized cells/mL.</text>
<path d="M489.6 514C500 514.2 512 514.3 522.6 514C535 513.6 547 509 557.8 502.8C568 495 580 470 589.7 452.3C596 438 608 408 614.9 393.9C617 390 619 389 621 388C625 384.5 630 382 634.8 382C642 382 648 384 654 385.4" stroke="#555" stroke-width="1" stroke-dasharray="1.3 1.9" fill="none"/>
<g fill="#111"><path d="M489.6 511.7L491.90000000000003 514L489.6 516.3L487.3 514Z"/><path d="M522.6 511.7L524.9 514L522.6 516.3L520.3000000000001 514Z"/><rect x="553.6" y="503.09999999999997" width="3.6" height="3.6"/><path d="M588 453.0L590.3 455.3L588 457.6L585.7 455.3Z"/><path d="M621.1 385.9L623.4 388.2L621.1 390.5L618.8000000000001 388.2Z"/><path d="M654 383.09999999999997L656.3 385.4L654 387.7L651.7 385.4Z"/></g>
<path d="M588 450.3v10M586 450.3h4M586 460.3h4M621.1 385.4v5.6M619.1 385.4h4M619.1 391.0h4M654 377.59999999999997v15.6M652 377.59999999999997h4M652 393.2h4" stroke="#222" stroke-width="1" fill="none"/>
</svg></body></html>
